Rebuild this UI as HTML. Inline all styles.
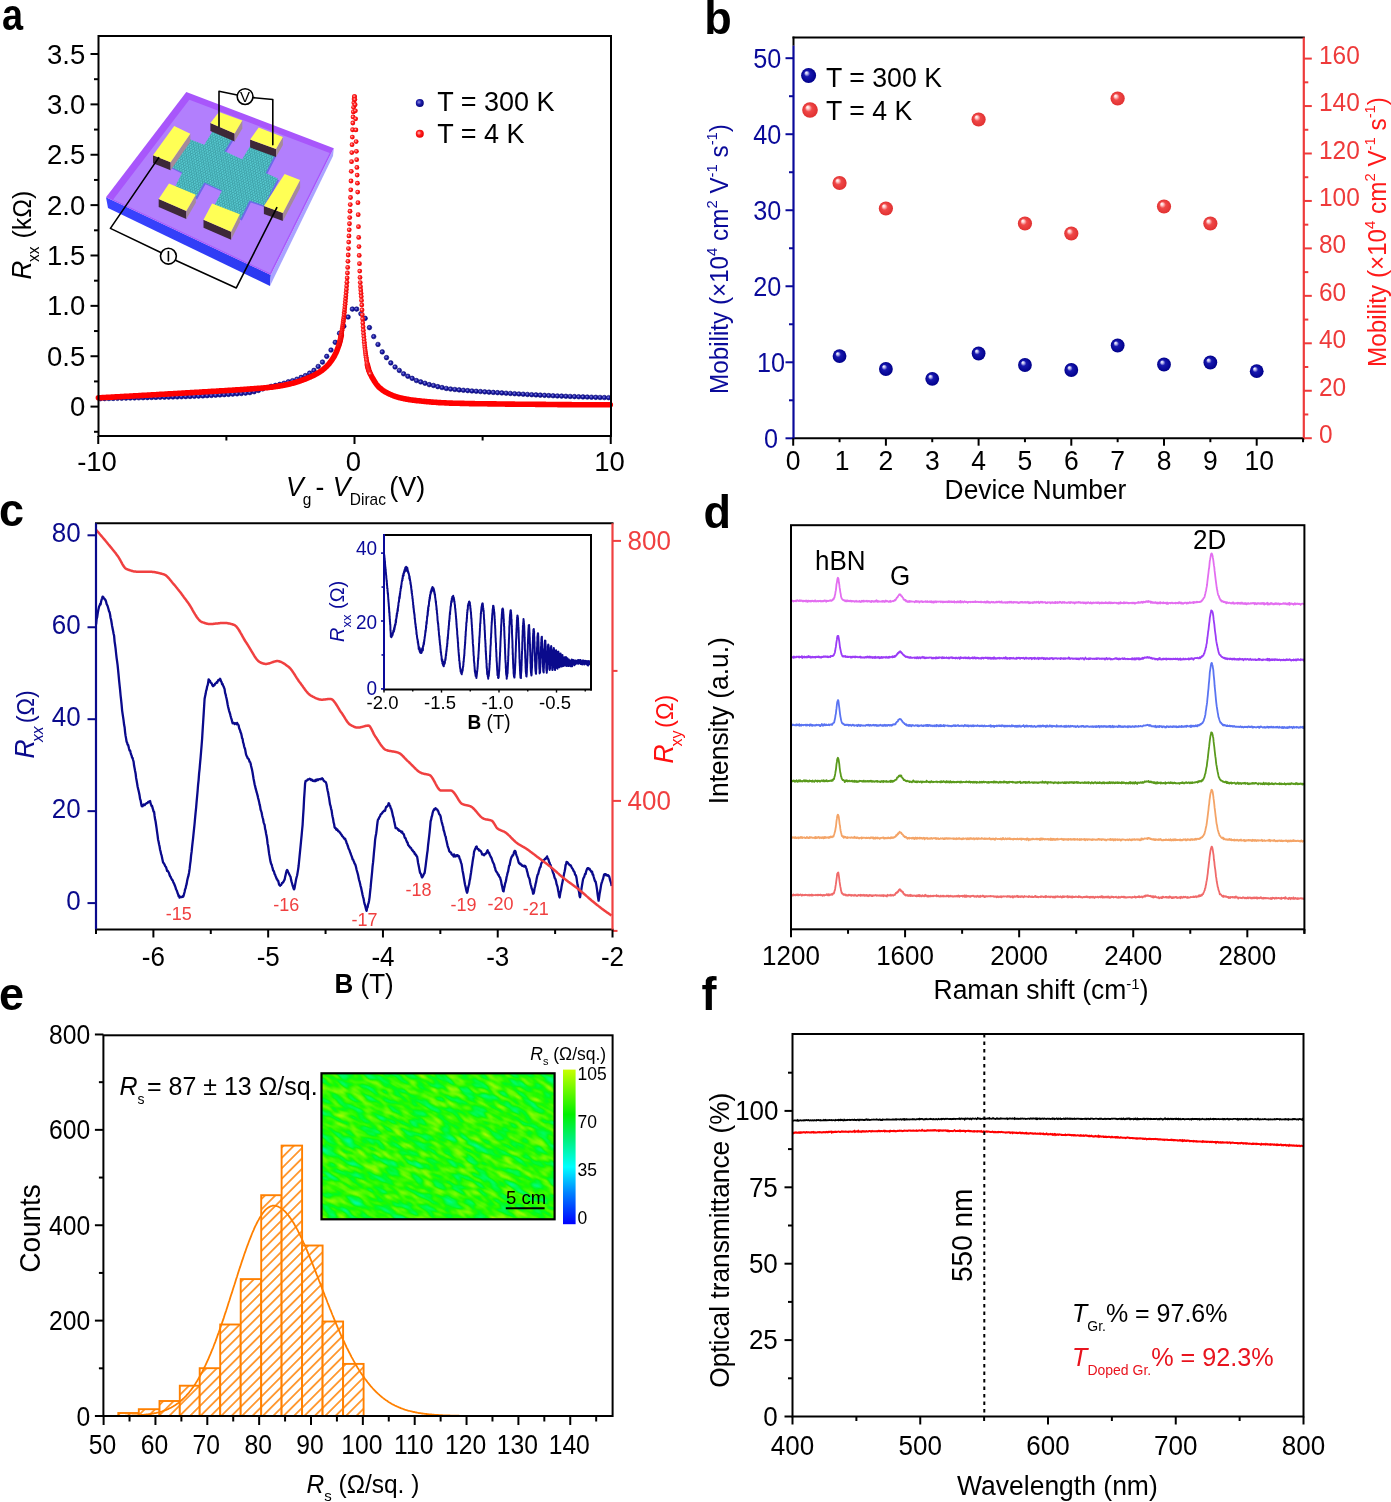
<!DOCTYPE html>
<html><head><meta charset="utf-8"><title>Figure</title>
<style>html,body{margin:0;padding:0;background:#fff;} svg{display:block;will-change:transform;} text{font-family:"Liberation Sans", sans-serif;}</style>
</head><body>
<svg width="1391" height="1502" viewBox="0 0 1391 1502" font-family='"Liberation Sans", sans-serif'>
<defs>
<radialGradient id="gBlueDot" cx="0.4" cy="0.4" r="0.6"><stop offset="0" stop-color="#8a8ae0"/><stop offset="0.5" stop-color="#1c1ca8"/><stop offset="1" stop-color="#06067a"/></radialGradient>
<radialGradient id="gRedDot" cx="0.4" cy="0.4" r="0.6"><stop offset="0" stop-color="#ffc0c0"/><stop offset="0.45" stop-color="#ff2020"/><stop offset="1" stop-color="#e80000"/></radialGradient>
<radialGradient id="sphB" cx="0.5" cy="0.5" r="0.5" fx="0.33" fy="0.3"><stop offset="0" stop-color="#ffffff"/><stop offset="0.18" stop-color="#b8b8ee"/><stop offset="0.4" stop-color="#1818b0"/><stop offset="1" stop-color="#00008a"/></radialGradient>
<radialGradient id="sphR" cx="0.5" cy="0.5" r="0.5" fx="0.33" fy="0.3"><stop offset="0" stop-color="#ffffff"/><stop offset="0.18" stop-color="#ffd0d0"/><stop offset="0.45" stop-color="#f04848"/><stop offset="1" stop-color="#e03030"/></radialGradient>
<pattern id="hatch" patternUnits="userSpaceOnUse" width="7.35" height="7.35" patternTransform="rotate(45)"><rect width="7.35" height="7.35" fill="#fff"/><line x1="3.675" y1="-1" x2="3.675" y2="8.35" stroke="#ff8000" stroke-width="1.5"/></pattern>
<pattern id="hexpat" patternUnits="userSpaceOnUse" width="2.6" height="4.5" patternTransform="rotate(20)"><rect width="2.6" height="4.5" fill="#3c9ea6"/><circle cx="0.65" cy="1.1" r="0.95" fill="#5cd2d8"/><circle cx="1.95" cy="3.35" r="0.95" fill="#5cd2d8"/></pattern>
<linearGradient id="cbar" x1="0" y1="0" x2="0" y2="1"><stop offset="0" stop-color="#c8ff00"/><stop offset="0.29" stop-color="#00f000"/><stop offset="0.45" stop-color="#00f07a"/><stop offset="0.63" stop-color="#00ffff"/><stop offset="0.8" stop-color="#0080ff"/><stop offset="1" stop-color="#0000ff"/></linearGradient>
<filter id="mapnoise" x="0" y="0" width="100%" height="100%" color-interpolation-filters="sRGB"><feTurbulence type="fractalNoise" baseFrequency="0.06 0.16" numOctaves="2" seed="7"/><feColorMatrix type="matrix" values="1.5 0 0 0 -0.62  0 0 0 0 0.98  -1.6 0 0 0 0.78  0 0 0 0 1"/></filter>
<linearGradient id="gSide" x1="0" y1="0" x2="1" y2="0"><stop offset="0" stop-color="#3a44ff"/><stop offset="1" stop-color="#2a38f0"/></linearGradient></defs>
<rect width="1391" height="1502" fill="#fff"/>
<text transform="translate(2 29.8) scale(0.87 1)" font-size="43.5" font-weight="bold">a</text>
<polygon points="106,197.3 270.8,275 270,286 108,208" fill="url(#gSide)"/>
<polygon points="270.8,275 333.8,148.2 333,156 270,286" fill="#a9a4ff"/>
<polygon points="106,197.3 186.3,92.1 333.8,148.2 270.8,275" fill="#a856fb"/>
<polygon points="113.22,199.38 189.33,99.67 329.71,153.06 269.98,273.29" fill="#b27ffd"/>
<polygon points="171.3,168.2 191,141 205.5,146.5 213.6,133.4 233.7,140 225.7,153.1 243.3,161.1 251.8,147 277,155.1 266.9,174.7 279,180.2 265.4,207.4 250.8,202.4 241.8,220.5 215.6,207.4 223.2,192.3 205.5,184.3 197,199.4 176.4,188.3 183.4,174.2" fill="#6a6ae8"/>
<polygon points="170.1,166.4 189.8,139.2 204.3,144.7 212.4,131.6 232.5,138.2 224.5,151.3 242.1,159.3 250.6,145.2 275.8,153.3 265.7,172.9 277.8,178.4 264.2,205.6 249.6,200.6 240.6,218.7 214.4,205.6 222,190.5 204.3,182.5 195.8,197.6 175.2,186.5 182.2,172.4" fill="url(#hexpat)"/>
<polygon points="210.4,123.1 234.6,133.5 234.6,141.5 210.4,131.1" fill="#3d2838"/>
<polygon points="234.6,133.5 242.3,120.5 242.3,128.5 234.6,141.5" fill="#a58a9a"/>
<polygon points="219,111.9 242.3,120.5 234.6,133.5 210.4,123.1" fill="#ffff55"/>
<polygon points="250.1,139.5 276,149 276,157 250.1,147.5" fill="#3d2838"/>
<polygon points="276,149 282.9,136.9 282.9,144.9 276,157" fill="#a58a9a"/>
<polygon points="258.7,127.4 282.9,136.9 276,149 250.1,139.5" fill="#ffff55"/>
<polygon points="153,155.3 170.6,162.3 170.6,170.3 153,163.3" fill="#3d2838"/>
<polygon points="170.6,162.3 190.3,133.7 190.3,141.7 170.6,170.3" fill="#a58a9a"/>
<polygon points="174.2,126.1 190.3,133.7 170.6,162.3 153,155.3" fill="#ffff55"/>
<polygon points="263.9,206 282.9,212.9 282.9,220.9 263.9,214" fill="#3d2838"/>
<polygon points="282.9,212.9 300.1,180.1 300.1,188.1 282.9,220.9" fill="#a58a9a"/>
<polygon points="284.6,174 300.1,180.1 282.9,212.9 263.9,206" fill="#ffff55"/>
<polygon points="158.7,199 186.3,211.1 186.3,219.1 158.7,207" fill="#3d2838"/>
<polygon points="186.3,211.1 195.8,194.7 195.8,202.7 186.3,219.1" fill="#a58a9a"/>
<polygon points="169,183.5 195.8,194.7 186.3,211.1 158.7,199" fill="#ffff55"/>
<polygon points="203.5,219.8 231.1,231.8 231.1,239.8 203.5,227.8" fill="#3d2838"/>
<polygon points="231.1,231.8 239.8,214.3 239.8,222.3 231.1,239.8" fill="#a58a9a"/>
<polygon points="212.1,203.4 239.8,214.3 231.1,231.8 203.5,219.8" fill="#ffff55"/>
<polyline points="219,126.6 219,91.2 237.2,95" fill="none" stroke="#000" stroke-width="1.6" stroke-linejoin="round" stroke-linecap="round"/>
<polyline points="252.7,97.6 272.8,99.5 272.8,144.7" fill="none" stroke="#000" stroke-width="1.6" stroke-linejoin="round" stroke-linecap="round"/>
<circle cx="245.1" cy="96.6" r="7.9" fill="#fff" stroke="#000" stroke-width="1.6"/>
<text transform="translate(245.1 102.2) scale(1 1.03)" font-size="15" text-anchor="middle">V</text>
<polyline points="158.7,157.6 110.4,228.4 160.8,252.5" fill="none" stroke="#000" stroke-width="1.6" stroke-linejoin="round" stroke-linecap="round"/>
<polyline points="176,260.5 236.3,287.9 276.8,207.7" fill="none" stroke="#000" stroke-width="1.6" stroke-linejoin="round" stroke-linecap="round"/>
<circle cx="168.4" cy="256.2" r="7.9" fill="#fff" stroke="#000" stroke-width="1.6"/>
<line x1="168.4" y1="251" x2="168.4" y2="261.5" stroke="#000" stroke-width="1.6"/>
<g fill="url(#gBlueDot)" stroke="#0a0a7a" stroke-width="0.6"><circle cx="100.38" cy="398.7" r="2.3"/><circle cx="104.65" cy="398.6" r="2.3"/><circle cx="108.92" cy="398.5" r="2.3"/><circle cx="113.19" cy="398.41" r="2.3"/><circle cx="117.46" cy="398.31" r="2.3"/><circle cx="121.73" cy="398.21" r="2.3"/><circle cx="126" cy="398.11" r="2.3"/><circle cx="130.27" cy="398" r="2.3"/><circle cx="134.54" cy="397.9" r="2.3"/><circle cx="138.81" cy="397.8" r="2.3"/><circle cx="143.09" cy="397.69" r="2.3"/><circle cx="147.36" cy="397.59" r="2.3"/><circle cx="151.63" cy="397.48" r="2.3"/><circle cx="155.9" cy="397.38" r="2.3"/><circle cx="160.17" cy="397.28" r="2.3"/><circle cx="164.44" cy="397.18" r="2.3"/><circle cx="168.71" cy="397.08" r="2.3"/><circle cx="172.98" cy="396.97" r="2.3"/><circle cx="177.25" cy="396.86" r="2.3"/><circle cx="181.52" cy="396.73" r="2.3"/><circle cx="185.79" cy="396.6" r="2.3"/><circle cx="190.06" cy="396.45" r="2.3"/><circle cx="194.34" cy="396.28" r="2.3"/><circle cx="198.61" cy="396.09" r="2.3"/><circle cx="202.88" cy="395.88" r="2.3"/><circle cx="207.15" cy="395.66" r="2.3"/><circle cx="211.42" cy="395.43" r="2.3"/><circle cx="215.69" cy="395.18" r="2.3"/><circle cx="219.96" cy="394.92" r="2.3"/><circle cx="224.23" cy="394.65" r="2.3"/><circle cx="228.5" cy="394.38" r="2.3"/><circle cx="232.77" cy="394.11" r="2.3"/><circle cx="237.04" cy="393.83" r="2.3"/><circle cx="241.31" cy="393.5" r="2.3"/><circle cx="245.59" cy="393.11" r="2.3"/><circle cx="249.86" cy="392.61" r="2.3"/><circle cx="254.13" cy="391.74" r="2.3"/><circle cx="258.4" cy="390.41" r="2.3"/><circle cx="262.67" cy="388.91" r="2.3"/><circle cx="266.94" cy="387.5" r="2.3"/><circle cx="271.21" cy="386.38" r="2.3"/><circle cx="275.48" cy="385.41" r="2.3"/><circle cx="279.75" cy="384.41" r="2.3"/><circle cx="284.02" cy="383.25" r="2.3"/><circle cx="288.29" cy="381.77" r="2.3"/><circle cx="292.56" cy="380.69" r="2.3"/><circle cx="296.84" cy="379.21" r="2.3"/><circle cx="301.11" cy="377.42" r="2.3"/><circle cx="305.38" cy="375.64" r="2.3"/><circle cx="309.65" cy="373.16" r="2.3"/><circle cx="313.92" cy="370.4" r="2.3"/><circle cx="318.19" cy="366.48" r="2.3"/><circle cx="322.46" cy="362.08" r="2.3"/><circle cx="326.73" cy="356.36" r="2.3"/><circle cx="331" cy="350.07" r="2.3"/><circle cx="335.27" cy="342.34" r="2.3"/><circle cx="339.54" cy="333.29" r="2.3"/><circle cx="343.81" cy="326.24" r="2.3"/><circle cx="348.09" cy="317.02" r="2.3"/><circle cx="352.36" cy="309.09" r="2.3"/><circle cx="356.63" cy="309.08" r="2.3"/><circle cx="360.9" cy="313.75" r="2.3"/><circle cx="365.17" cy="318.33" r="2.3"/><circle cx="369.44" cy="327.61" r="2.3"/><circle cx="373.71" cy="336.57" r="2.3"/><circle cx="377.98" cy="344.43" r="2.3"/><circle cx="382.25" cy="351.91" r="2.3"/><circle cx="386.52" cy="357.63" r="2.3"/><circle cx="390.79" cy="362.88" r="2.3"/><circle cx="395.06" cy="366.98" r="2.3"/><circle cx="399.34" cy="370.43" r="2.3"/><circle cx="403.61" cy="373.8" r="2.3"/><circle cx="407.88" cy="376.28" r="2.3"/><circle cx="412.15" cy="378.36" r="2.3"/><circle cx="416.42" cy="380.57" r="2.3"/><circle cx="420.69" cy="381.89" r="2.3"/><circle cx="424.96" cy="383.24" r="2.3"/><circle cx="429.23" cy="384.62" r="2.3"/><circle cx="433.5" cy="385.46" r="2.3"/><circle cx="437.77" cy="386.65" r="2.3"/><circle cx="442.04" cy="387.54" r="2.3"/><circle cx="446.31" cy="388.44" r="2.3"/><circle cx="450.59" cy="389.02" r="2.3"/><circle cx="454.86" cy="389.49" r="2.3"/><circle cx="459.13" cy="389.89" r="2.3"/><circle cx="463.4" cy="390.27" r="2.3"/><circle cx="467.67" cy="390.62" r="2.3"/><circle cx="471.94" cy="390.95" r="2.3"/><circle cx="476.21" cy="391.27" r="2.3"/><circle cx="480.48" cy="391.57" r="2.3"/><circle cx="484.75" cy="391.85" r="2.3"/><circle cx="489.02" cy="392.13" r="2.3"/><circle cx="493.29" cy="392.4" r="2.3"/><circle cx="497.56" cy="392.66" r="2.3"/><circle cx="501.84" cy="392.92" r="2.3"/><circle cx="506.11" cy="393.18" r="2.3"/><circle cx="510.38" cy="393.44" r="2.3"/><circle cx="514.65" cy="393.7" r="2.3"/><circle cx="518.92" cy="393.95" r="2.3"/><circle cx="523.19" cy="394.2" r="2.3"/><circle cx="527.46" cy="394.44" r="2.3"/><circle cx="531.73" cy="394.68" r="2.3"/><circle cx="536" cy="394.91" r="2.3"/><circle cx="540.27" cy="395.13" r="2.3"/><circle cx="544.54" cy="395.34" r="2.3"/><circle cx="548.81" cy="395.55" r="2.3"/><circle cx="553.09" cy="395.75" r="2.3"/><circle cx="557.36" cy="395.93" r="2.3"/><circle cx="561.63" cy="396.11" r="2.3"/><circle cx="565.9" cy="396.28" r="2.3"/><circle cx="570.17" cy="396.45" r="2.3"/><circle cx="574.44" cy="396.61" r="2.3"/><circle cx="578.71" cy="396.76" r="2.3"/><circle cx="582.98" cy="396.92" r="2.3"/><circle cx="587.25" cy="397.06" r="2.3"/><circle cx="591.52" cy="397.2" r="2.3"/><circle cx="595.79" cy="397.33" r="2.3"/><circle cx="600.06" cy="397.46" r="2.3"/><circle cx="604.34" cy="397.57" r="2.3"/><circle cx="608.61" cy="397.68" r="2.3"/></g>
<path d="M98.4 397.8L99.1 397.8L99.9 397.7L100.7 397.7L101.4 397.7L102.2 397.6L103 397.6L103.7 397.5L104.5 397.5L105.3 397.5L106 397.4L106.8 397.4L107.6 397.3L108.3 397.3L109.1 397.3L109.9 397.2L110.7 397.2L111.4 397.1L112.2 397.1L113 397L113.7 397L114.5 397L115.3 396.9L116 396.9L116.8 396.8L117.6 396.8L118.3 396.8L119.1 396.7L119.9 396.7L120.6 396.6L121.4 396.6L122.2 396.5L123 396.5L123.7 396.5L124.5 396.4L125.3 396.4L126 396.3L126.8 396.3L127.6 396.3L128.3 396.2L129.1 396.2L129.9 396.1L130.6 396.1L131.4 396L132.2 396L132.9 396L133.7 395.9L134.5 395.9L135.3 395.8L136 395.8L136.8 395.7L137.6 395.7L138.3 395.7L139.1 395.6L139.9 395.6L140.6 395.5L141.4 395.5L142.2 395.4L142.9 395.4L143.7 395.4L144.5 395.3L145.2 395.3L146 395.2L146.8 395.2L147.6 395.1L148.3 395.1L149.1 395L149.9 395L150.6 395L151.4 394.9L152.2 394.9L152.9 394.8L153.7 394.8L154.5 394.7L155.2 394.7L156 394.7L156.8 394.6L157.5 394.6L158.3 394.5L159.1 394.5L159.9 394.4L160.6 394.4L161.4 394.3L162.2 394.3L162.9 394.3L163.7 394.2L164.5 394.2L165.2 394.1L166 394.1L166.8 394L167.5 394L168.3 393.9L169.1 393.9L169.8 393.9L170.6 393.8L171.4 393.8L172.2 393.7L172.9 393.7L173.7 393.6L174.5 393.6L175.2 393.5L176 393.5L176.8 393.5L177.5 393.4L178.3 393.4L179.1 393.3L179.8 393.3L180.6 393.2L181.4 393.2L182.1 393.1L182.9 393.1L183.7 393L184.5 393L185.2 393L186 392.9L186.8 392.9L187.5 392.8L188.3 392.8L189.1 392.7L189.8 392.7L190.6 392.6L191.4 392.6L192.1 392.6L192.9 392.5L193.7 392.5L194.4 392.4L195.2 392.4L196 392.3L196.8 392.3L197.5 392.2L198.3 392.2L199.1 392.2L199.8 392.1L200.6 392.1L201.4 392L202.1 392L202.9 391.9L203.7 391.9L204.4 391.8L205.2 391.8L206 391.8L206.7 391.7L207.5 391.7L208.3 391.6L209.1 391.6L209.8 391.5L210.6 391.5L211.4 391.4L212.1 391.4L212.9 391.4L213.7 391.3L214.4 391.3L215.2 391.2L216 391.2L216.7 391.1L217.5 391.1L218.3 391L219 391L219.8 390.9L220.6 390.9L221.4 390.8L222.1 390.8L222.9 390.8L223.7 390.7L224.4 390.7L225.2 390.6L226 390.6L226.7 390.5L227.5 390.5L228.3 390.4L229 390.4L229.8 390.3L230.6 390.3L231.3 390.2L232.1 390.2L232.9 390.1L233.7 390.1L234.4 390L235.2 390L236 389.9L236.7 389.9L237.5 389.8L238.3 389.8L239 389.7L239.8 389.7L240.6 389.6L241.3 389.6L242.1 389.5L242.9 389.5L243.6 389.4L244.4 389.4L245.2 389.3L246 389.3L246.7 389.2L247.5 389.1L248.3 389.1L249 389L249.8 389L250.6 388.9L251.3 388.9L252.1 388.8L252.9 388.8L253.6 388.7L254.4 388.6L255.2 388.6L255.9 388.5L256.7 388.5L257.5 388.4L258.3 388.4L259 388.3L259.8 388.2L260.6 388.2L261.3 388.1L262.1 388.1L262.9 388L263.6 387.9L264.4 387.9L265.2 387.8L265.9 387.7L266.7 387.7L267.5 387.6L268.2 387.5L269 387.4L269.8 387.3L270.6 387.3L271.3 387.2L272.1 387.1L272.9 387L273.6 386.9L274.4 386.8L275.2 386.7L275.9 386.6L276.7 386.5L277.5 386.3L278.2 386.2L279 386.1L279.8 386L280.5 385.8L281.3 385.7L282.1 385.6L282.9 385.4L283.6 385.3L284.4 385.1L285.2 385L285.9 384.8L286.7 384.6L287.5 384.5L288.2 384.3L289 384.1L289.8 384L290.5 383.8L291.3 383.6L292.1 383.4L292.8 383.2L293.6 383L294.4 382.8L295.2 382.5L295.9 382.3L296.7 382.1L297.5 381.8L298.2 381.6L299 381.3L299.8 381.1L300.5 380.8L301.3 380.5L302.1 380.2L302.8 380L303.6 379.7L304.4 379.4L305.1 379.1L305.9 378.8L306.7 378.5L307.5 378.1L308.2 377.8L309 377.5L309.8 377.2L310.5 376.8L311.3 376.5L312.1 376.1L312.8 375.8L313.6 375.4L314.4 375L315.1 374.6L315.9 374.2L316.7 373.7L317.4 373.3L318.2 372.8L319 372.4L319.8 371.9L320.5 371.3L321.3 370.8L322.1 370.3L322.8 369.7L323.6 369.1L324.4 368.4L325.1 367.8L325.9 367L326.7 366.3L327.4 365.5L328.2 364.7L329 363.8L329.7 362.8L330.5 361.9L331.3 360.8L332.1 359.7L332.8 358.6L333.6 357.4L334.4 356L335.1 354.6L335.9 353L336.7 351.2L337.4 349.3L338.2 347.1L339 344.8L339.7 342.2L340.5 339.1L341.3 335.1" fill="none" stroke="#ff0000" stroke-width="5.6" stroke-linejoin="round" stroke-linecap="round"/>
<path d="M367.4 364.9L368.2 368.2L369 370.7L369.7 372.6L370.5 374.3L371.3 375.8L372 377.2L372.8 378.5L373.6 379.9L374.3 381.1L375.1 382.3L375.9 383.5L376.6 384.5L377.4 385.4L378.2 386.3L378.9 387.1L379.7 387.8L380.5 388.5L381.3 389.1L382 389.7L382.8 390.3L383.6 390.8L384.3 391.3L385.1 391.8L385.9 392.2L386.6 392.6L387.4 393L388.2 393.4L388.9 393.8L389.7 394.2L390.5 394.5L391.2 394.8L392 395.2L392.8 395.5L393.6 395.8L394.3 396.1L395.1 396.3L395.9 396.6L396.6 396.8L397.4 397.1L398.2 397.3L398.9 397.5L399.7 397.7L400.5 397.9L401.2 398L402 398.2L402.8 398.4L403.5 398.6L404.3 398.7L405.1 398.9L405.9 399L406.6 399.2L407.4 399.3L408.2 399.4L408.9 399.6L409.7 399.7L410.5 399.8L411.2 399.9L412 400L412.8 400.1L413.5 400.2L414.3 400.3L415.1 400.4L415.8 400.5L416.6 400.6L417.4 400.7L418.2 400.8L418.9 400.8L419.7 400.9L420.5 401L421.2 401.1L422 401.2L422.8 401.2L423.5 401.3L424.3 401.4L425.1 401.5L425.8 401.5L426.6 401.6L427.4 401.7L428.1 401.7L428.9 401.8L429.7 401.9L430.5 401.9L431.2 402L432 402.1L432.8 402.1L433.5 402.2L434.3 402.2L435.1 402.3L435.8 402.3L436.6 402.4L437.4 402.5L438.1 402.5L438.9 402.6L439.7 402.6L440.4 402.6L441.2 402.7L442 402.7L442.8 402.8L443.5 402.8L444.3 402.8L445.1 402.9L445.8 402.9L446.6 403L447.4 403L448.1 403L448.9 403L449.7 403.1L450.4 403.1L451.2 403.1L452 403.1L452.7 403.2L453.5 403.2L454.3 403.2L455.1 403.2L455.8 403.2L456.6 403.3L457.4 403.3L458.1 403.3L458.9 403.3L459.7 403.3L460.4 403.4L461.2 403.4L462 403.4L462.7 403.4L463.5 403.4L464.3 403.4L465 403.5L465.8 403.5L466.6 403.5L467.4 403.5L468.1 403.5L468.9 403.5L469.7 403.6L470.4 403.6L471.2 403.6L472 403.6L472.7 403.6L473.5 403.6L474.3 403.6L475 403.7L475.8 403.7L476.6 403.7L477.3 403.7L478.1 403.7L478.9 403.7L479.7 403.7L480.4 403.7L481.2 403.8L482 403.8L482.7 403.8L483.5 403.8L484.3 403.8L485 403.8L485.8 403.8L486.6 403.8L487.3 403.8L488.1 403.9L488.9 403.9L489.6 403.9L490.4 403.9L491.2 403.9L492 403.9L492.7 403.9L493.5 403.9L494.3 403.9L495 403.9L495.8 403.9L496.6 404L497.3 404L498.1 404L498.9 404L499.6 404L500.4 404L501.2 404L501.9 404L502.7 404L503.5 404L504.3 404L505 404L505.8 404.1L506.6 404.1L507.3 404.1L508.1 404.1L508.9 404.1L509.6 404.1L510.4 404.1L511.2 404.1L511.9 404.1L512.7 404.1L513.5 404.1L514.2 404.1L515 404.2L515.8 404.2L516.6 404.2L517.3 404.2L518.1 404.2L518.9 404.2L519.6 404.2L520.4 404.2L521.2 404.2L521.9 404.2L522.7 404.2L523.5 404.2L524.2 404.2L525 404.3L525.8 404.3L526.5 404.3L527.3 404.3L528.1 404.3L528.9 404.3L529.6 404.3L530.4 404.3L531.2 404.3L531.9 404.3L532.7 404.3L533.5 404.3L534.2 404.3L535 404.3L535.8 404.4L536.5 404.4L537.3 404.4L538.1 404.4L538.8 404.4L539.6 404.4L540.4 404.4L541.2 404.4L541.9 404.4L542.7 404.4L543.5 404.4L544.2 404.4L545 404.4L545.8 404.4L546.5 404.5L547.3 404.5L548.1 404.5L548.8 404.5L549.6 404.5L550.4 404.5L551.1 404.5L551.9 404.5L552.7 404.5L553.5 404.5L554.2 404.5L555 404.5L555.8 404.5L556.5 404.5L557.3 404.5L558.1 404.6L558.8 404.6L559.6 404.6L560.4 404.6L561.1 404.6L561.9 404.6L562.7 404.6L563.4 404.6L564.2 404.6L565 404.6L565.8 404.6L566.5 404.6L567.3 404.6L568.1 404.6L568.8 404.6L569.6 404.6L570.4 404.6L571.1 404.6L571.9 404.7L572.7 404.7L573.4 404.7L574.2 404.7L575 404.7L575.7 404.7L576.5 404.7L577.3 404.7L578.1 404.7L578.8 404.7L579.6 404.7L580.4 404.7L581.1 404.7L581.9 404.7L582.7 404.7L583.4 404.7L584.2 404.7L585 404.7L585.7 404.7L586.5 404.7L587.3 404.7L588 404.7L588.8 404.7L589.6 404.7L590.4 404.7L591.1 404.7L591.9 404.8L592.7 404.8L593.4 404.8L594.2 404.8L595 404.8L595.7 404.8L596.5 404.8L597.3 404.8L598 404.8L598.8 404.8L599.6 404.8L600.3 404.8L601.1 404.8L601.9 404.8L602.7 404.8L603.4 404.8L604.2 404.8L605 404.8L605.7 404.8L606.5 404.8L607.3 404.8L608 404.8L608.8 404.8L609.6 404.8L610.3 404.8" fill="none" stroke="#ff0000" stroke-width="5.6" stroke-linejoin="round" stroke-linecap="round"/>
<g fill="url(#gRedDot)"><circle cx="338.72" cy="345.57" r="2.4"/><circle cx="338.97" cy="344.76" r="2.4"/><circle cx="339.23" cy="343.92" r="2.4"/><circle cx="339.48" cy="343.06" r="2.4"/><circle cx="339.74" cy="342.17" r="2.4"/><circle cx="340" cy="341.24" r="2.4"/><circle cx="340.25" cy="340.22" r="2.4"/><circle cx="340.51" cy="339.08" r="2.4"/><circle cx="340.77" cy="337.84" r="2.4"/><circle cx="341.02" cy="336.5" r="2.4"/><circle cx="341.28" cy="335.08" r="2.4"/><circle cx="341.53" cy="333.56" r="2.4"/><circle cx="341.79" cy="331.97" r="2.4"/><circle cx="342.05" cy="330.31" r="2.4"/><circle cx="342.3" cy="328.58" r="2.4"/><circle cx="342.56" cy="326.79" r="2.4"/><circle cx="342.81" cy="324.95" r="2.4"/><circle cx="343.07" cy="323.06" r="2.4"/><circle cx="343.33" cy="321.14" r="2.4"/><circle cx="343.58" cy="319.16" r="2.4"/><circle cx="343.84" cy="317.04" r="2.4"/><circle cx="344.1" cy="314.74" r="2.4"/><circle cx="344.35" cy="312.31" r="2.4"/><circle cx="344.61" cy="309.74" r="2.4"/><circle cx="344.87" cy="307.06" r="2.4"/><circle cx="345.12" cy="304.3" r="2.4"/><circle cx="345.38" cy="301.46" r="2.4"/><circle cx="345.63" cy="298.57" r="2.4"/><circle cx="345.89" cy="295.64" r="2.4"/><circle cx="346.15" cy="292.61" r="2.4"/><circle cx="346.4" cy="289.39" r="2.4"/><circle cx="346.66" cy="285.93" r="2.4"/><circle cx="346.92" cy="282.13" r="2.4"/><circle cx="347.17" cy="277.91" r="2.4"/><circle cx="347.43" cy="272.96" r="2.4"/><circle cx="347.68" cy="267.38" r="2.4"/><circle cx="347.94" cy="261.34" r="2.4"/><circle cx="348.2" cy="255" r="2.4"/><circle cx="348.45" cy="248.54" r="2.4"/><circle cx="348.71" cy="242.12" r="2.4"/><circle cx="348.96" cy="235.91" r="2.4"/><circle cx="349.22" cy="229.83" r="2.4"/><circle cx="349.48" cy="223.76" r="2.4"/><circle cx="349.73" cy="217.59" r="2.4"/><circle cx="349.99" cy="211.23" r="2.4"/><circle cx="350.25" cy="204.57" r="2.4"/><circle cx="350.5" cy="197.51" r="2.4"/><circle cx="350.76" cy="189.85" r="2.4"/><circle cx="351.01" cy="180.98" r="2.4"/><circle cx="351.27" cy="171.36" r="2.4"/><circle cx="351.53" cy="161.66" r="2.4"/><circle cx="351.78" cy="152.57" r="2.4"/><circle cx="352.04" cy="144.64" r="2.4"/><circle cx="352.3" cy="137.06" r="2.4"/><circle cx="352.55" cy="129.77" r="2.4"/><circle cx="352.81" cy="122.99" r="2.4"/><circle cx="353.06" cy="116.96" r="2.4"/><circle cx="353.32" cy="111.88" r="2.4"/><circle cx="353.58" cy="107.32" r="2.4"/><circle cx="353.83" cy="102.83" r="2.4"/><circle cx="354.09" cy="99.08" r="2.4"/><circle cx="354.35" cy="96.75" r="2.4"/><circle cx="354.6" cy="96.62" r="2.4"/><circle cx="354.86" cy="99.59" r="2.4"/><circle cx="355.12" cy="104.74" r="2.4"/><circle cx="355.37" cy="110.82" r="2.4"/><circle cx="355.63" cy="118.83" r="2.4"/><circle cx="355.88" cy="129.94" r="2.4"/><circle cx="356.14" cy="141.57" r="2.4"/><circle cx="356.4" cy="151.31" r="2.4"/><circle cx="356.65" cy="159.66" r="2.4"/><circle cx="356.91" cy="167.44" r="2.4"/><circle cx="357.16" cy="175.12" r="2.4"/><circle cx="357.42" cy="183.17" r="2.4"/><circle cx="357.68" cy="192.08" r="2.4"/><circle cx="357.93" cy="202.63" r="2.4"/><circle cx="358.19" cy="214.65" r="2.4"/><circle cx="358.45" cy="226.72" r="2.4"/><circle cx="358.7" cy="237.42" r="2.4"/><circle cx="358.96" cy="246.61" r="2.4"/><circle cx="359.21" cy="255.44" r="2.4"/><circle cx="359.47" cy="263.68" r="2.4"/><circle cx="359.73" cy="271.1" r="2.4"/><circle cx="359.98" cy="277.46" r="2.4"/><circle cx="360.24" cy="282.56" r="2.4"/><circle cx="360.5" cy="286.63" r="2.4"/><circle cx="360.75" cy="290.07" r="2.4"/><circle cx="361.01" cy="293.27" r="2.4"/><circle cx="361.26" cy="296.6" r="2.4"/><circle cx="361.52" cy="300.43" r="2.4"/><circle cx="361.78" cy="305" r="2.4"/><circle cx="362.03" cy="309.93" r="2.4"/><circle cx="362.29" cy="314.73" r="2.4"/><circle cx="362.55" cy="318.98" r="2.4"/><circle cx="362.8" cy="322.95" r="2.4"/><circle cx="363.06" cy="326.72" r="2.4"/><circle cx="363.31" cy="330.26" r="2.4"/><circle cx="363.57" cy="333.54" r="2.4"/><circle cx="363.83" cy="336.59" r="2.4"/><circle cx="364.08" cy="339.53" r="2.4"/><circle cx="364.34" cy="342.35" r="2.4"/><circle cx="364.6" cy="345.01" r="2.4"/><circle cx="364.85" cy="347.49" r="2.4"/><circle cx="365.11" cy="349.76" r="2.4"/><circle cx="365.37" cy="351.8" r="2.4"/><circle cx="365.62" cy="353.68" r="2.4"/><circle cx="365.88" cy="355.5" r="2.4"/><circle cx="366.13" cy="357.26" r="2.4"/><circle cx="366.39" cy="358.95" r="2.4"/><circle cx="366.65" cy="360.56" r="2.4"/><circle cx="366.9" cy="362.08" r="2.4"/><circle cx="367.16" cy="363.52" r="2.4"/><circle cx="367.42" cy="364.86" r="2.4"/><circle cx="367.67" cy="366.09" r="2.4"/><circle cx="367.93" cy="367.22" r="2.4"/><circle cx="368.18" cy="368.22" r="2.4"/><circle cx="368.44" cy="369.11" r="2.4"/><circle cx="368.7" cy="369.91" r="2.4"/><circle cx="368.95" cy="370.66" r="2.4"/><circle cx="369.21" cy="371.36" r="2.4"/><circle cx="369.46" cy="372.03" r="2.4"/><circle cx="369.72" cy="372.65" r="2.4"/><circle cx="369.98" cy="373.24" r="2.4"/><circle cx="370.23" cy="373.8" r="2.4"/></g>
<rect x="98.5" y="36" width="512.5" height="400" fill="none" stroke="#000" stroke-width="2"/>
<line x1="90.5" y1="406.6" x2="98.5" y2="406.6" stroke="#000" stroke-width="2"/>
<text transform="translate(85.3 416.2) scale(1 1.03)" font-size="27.5" text-anchor="end">0</text>
<line x1="90.5" y1="356.23" x2="98.5" y2="356.23" stroke="#000" stroke-width="2"/>
<text transform="translate(85.3 365.83) scale(1 1.03)" font-size="27.5" text-anchor="end">0.5</text>
<line x1="90.5" y1="305.86" x2="98.5" y2="305.86" stroke="#000" stroke-width="2"/>
<text transform="translate(85.3 315.46) scale(1 1.03)" font-size="27.5" text-anchor="end">1.0</text>
<line x1="90.5" y1="255.49" x2="98.5" y2="255.49" stroke="#000" stroke-width="2"/>
<text transform="translate(85.3 265.09) scale(1 1.03)" font-size="27.5" text-anchor="end">1.5</text>
<line x1="90.5" y1="205.12" x2="98.5" y2="205.12" stroke="#000" stroke-width="2"/>
<text transform="translate(85.3 214.72) scale(1 1.03)" font-size="27.5" text-anchor="end">2.0</text>
<line x1="90.5" y1="154.75" x2="98.5" y2="154.75" stroke="#000" stroke-width="2"/>
<text transform="translate(85.3 164.35) scale(1 1.03)" font-size="27.5" text-anchor="end">2.5</text>
<line x1="90.5" y1="104.38" x2="98.5" y2="104.38" stroke="#000" stroke-width="2"/>
<text transform="translate(85.3 113.98) scale(1 1.03)" font-size="27.5" text-anchor="end">3.0</text>
<line x1="90.5" y1="54.01" x2="98.5" y2="54.01" stroke="#000" stroke-width="2"/>
<text transform="translate(85.3 63.61) scale(1 1.03)" font-size="27.5" text-anchor="end">3.5</text>
<line x1="94" y1="431.79" x2="98.5" y2="431.79" stroke="#000" stroke-width="2"/>
<line x1="94" y1="381.42" x2="98.5" y2="381.42" stroke="#000" stroke-width="2"/>
<line x1="94" y1="331.05" x2="98.5" y2="331.05" stroke="#000" stroke-width="2"/>
<line x1="94" y1="280.68" x2="98.5" y2="280.68" stroke="#000" stroke-width="2"/>
<line x1="94" y1="230.31" x2="98.5" y2="230.31" stroke="#000" stroke-width="2"/>
<line x1="94" y1="179.94" x2="98.5" y2="179.94" stroke="#000" stroke-width="2"/>
<line x1="94" y1="129.57" x2="98.5" y2="129.57" stroke="#000" stroke-width="2"/>
<line x1="94" y1="79.2" x2="98.5" y2="79.2" stroke="#000" stroke-width="2"/>
<line x1="98.25" y1="436" x2="98.25" y2="444" stroke="#000" stroke-width="2"/>
<text transform="translate(97.05 470.8) scale(1 1.03)" font-size="27.5" text-anchor="middle">-10</text>
<line x1="354.5" y1="436" x2="354.5" y2="444" stroke="#000" stroke-width="2"/>
<text transform="translate(353.3 470.8) scale(1 1.03)" font-size="27.5" text-anchor="middle">0</text>
<line x1="610.75" y1="436" x2="610.75" y2="444" stroke="#000" stroke-width="2"/>
<text transform="translate(609.55 470.8) scale(1 1.03)" font-size="27.5" text-anchor="middle">10</text>
<line x1="226.38" y1="436" x2="226.38" y2="440.5" stroke="#000" stroke-width="2"/>
<line x1="482.62" y1="436" x2="482.62" y2="440.5" stroke="#000" stroke-width="2"/>
<text transform="translate(286 496.3) scale(1 1.03)" font-size="26.5"><tspan font-style="italic">V</tspan><tspan font-size="15.5" x="16.7" dy="8.4">g</tspan><tspan x="29.4" dy="-8.4">-</tspan><tspan x="46.7" font-style="italic">V</tspan><tspan font-size="15.5" x="63.8" dy="8.4">Dirac</tspan><tspan x="103.3" dy="-8.4" font-size="27">(V)</tspan></text>
<text transform="translate(30.5 279.5) rotate(-90) scale(1 1.03)" font-size="26"><tspan font-style="italic">R</tspan><tspan font-size="15.5" x="17.5" dy="8.5">xx</tspan><tspan x="41" dy="-8.5" font-size="25">(kΩ)</tspan></text>
<circle cx="419.8" cy="103" r="4" fill="url(#gBlueDot)"/>
<circle cx="419.8" cy="133.8" r="4" fill="url(#gRedDot)"/>
<text transform="translate(437.3 110.6) scale(1 1.03)" font-size="27">T = 300 K</text>
<text transform="translate(437.3 143.3) scale(1 1.03)" font-size="27">T = 4 K</text>
<text transform="translate(704.3 33.6) scale(1 1.03)" font-size="45" font-weight="bold">b</text>
<line x1="792.5" y1="37.6" x2="1304.8" y2="37.6" stroke="#000" stroke-width="2"/>
<line x1="792.5" y1="438.2" x2="1304.8" y2="438.2" stroke="#000" stroke-width="2"/>
<line x1="793.5" y1="45.6" x2="793.5" y2="439.2" stroke="#0a0a9a" stroke-width="2.2"/>
<line x1="793.5" y1="36.6" x2="793.5" y2="45.6" stroke="#000" stroke-width="2"/>
<line x1="1303.8" y1="37.6" x2="1303.8" y2="439.2" stroke="#ee3a3a" stroke-width="2.2"/>
<line x1="785.5" y1="438.3" x2="793.5" y2="438.3" stroke="#0a0a9a" stroke-width="2"/>
<text transform="translate(771 447.9) scale(0.97 1.03)" font-size="26" text-anchor="middle" fill="#0a0a9a">0</text>
<line x1="789" y1="400.29" x2="793.5" y2="400.29" stroke="#0a0a9a" stroke-width="2"/>
<line x1="785.5" y1="362.28" x2="793.5" y2="362.28" stroke="#0a0a9a" stroke-width="2"/>
<text transform="translate(771 371.88) scale(0.97 1.03)" font-size="26" text-anchor="middle" fill="#0a0a9a">10</text>
<line x1="789" y1="324.27" x2="793.5" y2="324.27" stroke="#0a0a9a" stroke-width="2"/>
<line x1="785.5" y1="286.26" x2="793.5" y2="286.26" stroke="#0a0a9a" stroke-width="2"/>
<text transform="translate(781.3 295.86) scale(0.97 1.03)" font-size="26" text-anchor="end" fill="#0a0a9a">20</text>
<line x1="789" y1="248.25" x2="793.5" y2="248.25" stroke="#0a0a9a" stroke-width="2"/>
<line x1="785.5" y1="210.24" x2="793.5" y2="210.24" stroke="#0a0a9a" stroke-width="2"/>
<text transform="translate(781.3 219.84) scale(0.97 1.03)" font-size="26" text-anchor="end" fill="#0a0a9a">30</text>
<line x1="789" y1="172.23" x2="793.5" y2="172.23" stroke="#0a0a9a" stroke-width="2"/>
<line x1="785.5" y1="134.22" x2="793.5" y2="134.22" stroke="#0a0a9a" stroke-width="2"/>
<text transform="translate(781.3 143.82) scale(0.97 1.03)" font-size="26" text-anchor="end" fill="#0a0a9a">40</text>
<line x1="789" y1="96.21" x2="793.5" y2="96.21" stroke="#0a0a9a" stroke-width="2"/>
<line x1="785.5" y1="58.2" x2="793.5" y2="58.2" stroke="#0a0a9a" stroke-width="2"/>
<text transform="translate(781.3 67.8) scale(0.97 1.03)" font-size="26" text-anchor="end" fill="#0a0a9a">50</text>
<line x1="1303.8" y1="438.2" x2="1311.8" y2="438.2" stroke="#ee3a3a" stroke-width="2"/>
<text transform="translate(1319 443.2) scale(0.96 1.03)" font-size="25.5" fill="#ee3a3a">0</text>
<line x1="1303.8" y1="414.47" x2="1308.3" y2="414.47" stroke="#ee3a3a" stroke-width="2"/>
<line x1="1303.8" y1="390.75" x2="1311.8" y2="390.75" stroke="#ee3a3a" stroke-width="2"/>
<text transform="translate(1319 395.75) scale(0.96 1.03)" font-size="25.5" fill="#ee3a3a">20</text>
<line x1="1303.8" y1="367.02" x2="1308.3" y2="367.02" stroke="#ee3a3a" stroke-width="2"/>
<line x1="1303.8" y1="343.3" x2="1311.8" y2="343.3" stroke="#ee3a3a" stroke-width="2"/>
<text transform="translate(1319 348.3) scale(0.96 1.03)" font-size="25.5" fill="#ee3a3a">40</text>
<line x1="1303.8" y1="319.57" x2="1308.3" y2="319.57" stroke="#ee3a3a" stroke-width="2"/>
<line x1="1303.8" y1="295.85" x2="1311.8" y2="295.85" stroke="#ee3a3a" stroke-width="2"/>
<text transform="translate(1319 300.85) scale(0.96 1.03)" font-size="25.5" fill="#ee3a3a">60</text>
<line x1="1303.8" y1="272.12" x2="1308.3" y2="272.12" stroke="#ee3a3a" stroke-width="2"/>
<line x1="1303.8" y1="248.4" x2="1311.8" y2="248.4" stroke="#ee3a3a" stroke-width="2"/>
<text transform="translate(1319 253.4) scale(0.96 1.03)" font-size="25.5" fill="#ee3a3a">80</text>
<line x1="1303.8" y1="224.67" x2="1308.3" y2="224.67" stroke="#ee3a3a" stroke-width="2"/>
<line x1="1303.8" y1="200.95" x2="1311.8" y2="200.95" stroke="#ee3a3a" stroke-width="2"/>
<text transform="translate(1319 205.95) scale(0.96 1.03)" font-size="25.5" fill="#ee3a3a">100</text>
<line x1="1303.8" y1="177.22" x2="1308.3" y2="177.22" stroke="#ee3a3a" stroke-width="2"/>
<line x1="1303.8" y1="153.5" x2="1311.8" y2="153.5" stroke="#ee3a3a" stroke-width="2"/>
<text transform="translate(1319 158.5) scale(0.96 1.03)" font-size="25.5" fill="#ee3a3a">120</text>
<line x1="1303.8" y1="129.77" x2="1308.3" y2="129.77" stroke="#ee3a3a" stroke-width="2"/>
<line x1="1303.8" y1="106.05" x2="1311.8" y2="106.05" stroke="#ee3a3a" stroke-width="2"/>
<text transform="translate(1319 111.05) scale(0.96 1.03)" font-size="25.5" fill="#ee3a3a">140</text>
<line x1="1303.8" y1="82.32" x2="1308.3" y2="82.32" stroke="#ee3a3a" stroke-width="2"/>
<line x1="1303.8" y1="58.6" x2="1311.8" y2="58.6" stroke="#ee3a3a" stroke-width="2"/>
<text transform="translate(1319 63.6) scale(0.96 1.03)" font-size="25.5" fill="#ee3a3a">160</text>
<line x1="793.2" y1="438.2" x2="793.2" y2="445.7" stroke="#000" stroke-width="2"/>
<text transform="translate(793.2 470) scale(1 1.03)" font-size="26.5" text-anchor="middle">0</text>
<line x1="839.55" y1="438.2" x2="839.55" y2="442.2" stroke="#000" stroke-width="2"/>
<text transform="translate(842.05 470) scale(1 1.03)" font-size="26.5" text-anchor="middle">1</text>
<line x1="885.9" y1="438.2" x2="885.9" y2="445.7" stroke="#000" stroke-width="2"/>
<text transform="translate(885.9 470) scale(1 1.03)" font-size="26.5" text-anchor="middle">2</text>
<line x1="932.25" y1="438.2" x2="932.25" y2="442.2" stroke="#000" stroke-width="2"/>
<text transform="translate(932.25 470) scale(1 1.03)" font-size="26.5" text-anchor="middle">3</text>
<line x1="978.6" y1="438.2" x2="978.6" y2="445.7" stroke="#000" stroke-width="2"/>
<text transform="translate(978.6 470) scale(1 1.03)" font-size="26.5" text-anchor="middle">4</text>
<line x1="1024.95" y1="438.2" x2="1024.95" y2="442.2" stroke="#000" stroke-width="2"/>
<text transform="translate(1024.95 470) scale(1 1.03)" font-size="26.5" text-anchor="middle">5</text>
<line x1="1071.3" y1="438.2" x2="1071.3" y2="445.7" stroke="#000" stroke-width="2"/>
<text transform="translate(1071.3 470) scale(1 1.03)" font-size="26.5" text-anchor="middle">6</text>
<line x1="1117.65" y1="438.2" x2="1117.65" y2="442.2" stroke="#000" stroke-width="2"/>
<text transform="translate(1117.65 470) scale(1 1.03)" font-size="26.5" text-anchor="middle">7</text>
<line x1="1164" y1="438.2" x2="1164" y2="445.7" stroke="#000" stroke-width="2"/>
<text transform="translate(1164 470) scale(1 1.03)" font-size="26.5" text-anchor="middle">8</text>
<line x1="1210.35" y1="438.2" x2="1210.35" y2="442.2" stroke="#000" stroke-width="2"/>
<text transform="translate(1210.35 470) scale(1 1.03)" font-size="26.5" text-anchor="middle">9</text>
<line x1="1256.7" y1="438.2" x2="1256.7" y2="445.7" stroke="#000" stroke-width="2"/>
<text transform="translate(1259.2 470) scale(1 1.03)" font-size="26.5" text-anchor="middle">10</text>
<line x1="1303.05" y1="438.2" x2="1303.05" y2="442.2" stroke="#000" stroke-width="2"/>
<circle cx="839.55" cy="356.1" r="6.9" fill="url(#sphB)"/>
<circle cx="885.9" cy="369" r="6.9" fill="url(#sphB)"/>
<circle cx="932.25" cy="378.8" r="6.9" fill="url(#sphB)"/>
<circle cx="978.6" cy="353.5" r="6.9" fill="url(#sphB)"/>
<circle cx="1024.95" cy="365" r="6.9" fill="url(#sphB)"/>
<circle cx="1071.3" cy="370" r="6.9" fill="url(#sphB)"/>
<circle cx="1117.65" cy="345.5" r="6.9" fill="url(#sphB)"/>
<circle cx="1164" cy="364.5" r="6.9" fill="url(#sphB)"/>
<circle cx="1210.35" cy="362.5" r="6.9" fill="url(#sphB)"/>
<circle cx="1256.7" cy="371.2" r="6.9" fill="url(#sphB)"/>
<circle cx="839.55" cy="183" r="7.1" fill="url(#sphR)"/>
<circle cx="885.9" cy="208.5" r="7.1" fill="url(#sphR)"/>
<circle cx="978.6" cy="119.5" r="7.1" fill="url(#sphR)"/>
<circle cx="1024.95" cy="223.5" r="7.1" fill="url(#sphR)"/>
<circle cx="1071.3" cy="233.5" r="7.1" fill="url(#sphR)"/>
<circle cx="1117.65" cy="98.5" r="7.1" fill="url(#sphR)"/>
<circle cx="1164" cy="206.5" r="7.1" fill="url(#sphR)"/>
<circle cx="1210.35" cy="223.5" r="7.1" fill="url(#sphR)"/>
<circle cx="808.6" cy="75.5" r="7.5" fill="url(#sphB)"/>
<circle cx="810" cy="110" r="7.8" fill="url(#sphR)"/>
<text transform="translate(826 87) scale(1 1.03)" font-size="26.7">T = 300 K</text>
<text transform="translate(826 119.8) scale(1 1.03)" font-size="26.7">T = 4 K</text>
<text transform="translate(727.7 394) rotate(-90) scale(0.99 1.03)" font-size="24.5" fill="#0a0a9a">Mobility (×10<tspan font-size="15" dy="-10">4</tspan><tspan dy="10"> cm</tspan><tspan font-size="15" dy="-10">2</tspan><tspan dy="10"> V</tspan><tspan font-size="15" dy="-10">-1</tspan><tspan dy="10"> s</tspan><tspan font-size="15" dy="-10">-1</tspan><tspan dy="10">)</tspan></text>
<text transform="translate(1385.5 367) rotate(-90) scale(0.99 1.03)" font-size="24.5" fill="#ff1a1a">Mobility (×10<tspan font-size="15" dy="-10">4</tspan><tspan dy="10"> cm</tspan><tspan font-size="15" dy="-10">2</tspan><tspan dy="10"> V</tspan><tspan font-size="15" dy="-10">-1</tspan><tspan dy="10"> s</tspan><tspan font-size="15" dy="-10">-1</tspan><tspan dy="10">)</tspan></text>
<text transform="translate(1035.5 498.5) scale(1 1.03)" font-size="26.4" text-anchor="middle">Device Number</text>
<text transform="translate(-1 526) scale(1 1.03)" font-size="45" font-weight="bold">c</text>
<path d="M96.1 624.3L96.6 619.2L97.1 617.5L97.6 614L98.1 611L98.6 608.7L99.1 606.4L99.6 605.7L100.1 604L100.6 604.3L101.1 601.5L101.6 599.7L102.1 598.3L102.6 596.6L103.1 596.9L103.6 597.7L104.1 598.6L104.6 598.8L105.1 599.8L105.6 600.2L106.1 601.8L106.6 604L107.1 605L107.6 606L108.1 607.7L108.6 609.5L109.1 611.6L109.6 612.1L110.1 614.8L110.6 618L111.1 619.8L111.6 622.7L112.1 625.9L112.6 628.5L113.1 630.9L113.6 633.8L114.1 635.8L114.6 641.6L115.1 644.8L115.6 648.6L116.1 653.5L116.6 657.8L117.1 661.4L117.6 665.2L118.1 670.1L118.6 675.1L119.1 680.7L119.6 685.4L120.1 690.1L120.6 695.5L121.1 699.9L121.6 704.6L122.1 710.3L122.6 713.9L123.1 717.2L123.6 720.6L124.1 724.8L124.6 727.2L125.1 732.3L125.6 735.9L126.1 738.6L126.6 741.7L127.1 742.6L127.6 744.8L128.1 744.9L128.6 746.8L129.1 749L129.6 750.6L130.1 750.5L130.6 752.6L131.1 754.4L131.6 755.4L132.1 757.8L132.6 757.9L133.1 760L133.6 761.7L134.1 765.8L134.6 768.2L135.1 771L135.6 773.4L136.1 777.9L136.6 780.5L137.1 783.4L137.6 786.5L138.1 788.7L138.6 790.7L139.1 793.1L139.6 795.6L140.1 799.1L140.6 800.3L141.1 803.2L141.6 805.9L142.1 806.3L142.6 806.2L143.1 805L143.6 804.5L144.1 804.9L144.6 805.1L145.1 804.6L145.6 804L146.1 803.4L146.6 803.4L147.1 802.8L147.6 802.9L148.1 801.9L148.6 802L149.1 801.5L149.6 801.5L150.1 801L150.6 803.5L151.1 804.6L151.6 806.1L152.1 806L152.6 808.2L153.1 809.6L153.6 811.6L154.1 811.9L154.6 816L155.1 819.3L155.6 821.5L156.1 825L156.6 828.4L157.1 832.1L157.6 835.7L158.1 839.7L158.6 841.8L159.1 844.5L159.6 846.6L160.1 849.7L160.6 851.5L161.1 854.1L161.6 855.4L162.1 858.1L162.6 860.2L163.1 862.5L163.6 863.1L164.1 863.7L164.6 864.6L165.1 866L165.6 866.5L166.1 867.4L166.6 869L167.1 870.9L167.6 870.7L168.1 871.5L168.6 872.3L169.1 873.2L169.6 875.1L170.1 876.2L170.6 876.8L171.1 878L171.6 878.9L172.1 879.9L172.6 880.2L173.1 881.7L173.6 882.9L174.1 883.7L174.6 885.1L175.1 886.2L175.6 887.6L176.1 889.4L176.6 890.1L177.1 891.5L177.6 893.2L178.1 894.3L178.6 896.1L179.1 895.6L179.6 897.6L180.1 896.8L180.6 897L181.1 897.1L181.6 897.1L182.1 896.9L182.6 896.3L183.1 896.8L183.6 895.8L184.1 893.7L184.6 892L185.1 889.3L185.6 888.4L186.1 885.8L186.6 884.2L187.1 881.1L187.6 878.8L188.1 876.9L188.6 875.1L189.1 872.4L189.6 868.9L190.1 864.4L190.6 860.8L191.1 855.4L191.6 851.9L192.1 846.8L192.6 842.3L193.1 838.1L193.6 833.1L194.1 828.4L194.6 823.5L195.1 817.8L195.6 812.7L196.1 807.8L196.6 801.9L197.1 796.5L197.6 791L198.1 784.7L198.6 780.1L199.1 773.3L199.6 768.8L200.1 762.8L200.6 757.7L201.1 751.5L201.6 745.5L202.1 739L202.6 730.6L203.1 722.8L203.6 714.9L204.1 706.8L204.6 698.8L205.1 696.2L205.6 694.1L206.1 690.9L206.6 689.5L207.1 686.7L207.6 685.4L208.1 683.1L208.6 679.4L209.1 679.9L209.6 680.6L210.1 681L210.6 682.5L211.1 682.9L211.6 683.2L212.1 684.7L212.6 685.6L213.1 686.2L213.6 685.1L214.1 685.5L214.6 685L215.1 683.7L215.6 683.4L216.1 683.1L216.6 682.3L217.1 682.8L217.6 681.5L218.1 680.4L218.6 679.9L219.1 679.7L219.6 680.2L220.1 678.8L220.6 680L221.1 681.3L221.6 682.1L222.1 684.2L222.6 684L223.1 685.7L223.6 686.5L224.1 687.8L224.6 689.1L225.1 692.8L225.6 694.3L226.1 696.8L226.6 698.8L227.1 701.2L227.6 704.2L228.1 706.8L228.6 708.7L229.1 710.8L229.6 712.4L230.1 713.9L230.6 716.1L231.1 717.8L231.6 719.3L232.1 721.5L232.6 723.2L233.1 722.9L233.6 722.7L234.1 723.3L234.6 724L235.1 723.2L235.6 723.3L236.1 723.4L236.6 724.2L237.1 722.9L237.6 724L238.1 724.5L238.6 725.3L239.1 728L239.6 729.2L240.1 730.4L240.6 732.4L241.1 733.3L241.6 735.4L242.1 738.2L242.6 738.9L243.1 742.3L243.6 743.6L244.1 746.2L244.6 748L245.1 749.1L245.6 752L246.1 754.6L246.6 755.8L247.1 756.6L247.6 758.2L248.1 758.6L248.6 758.9L249.1 760.2L249.6 761.8L250.1 762L250.6 763.5L251.1 766L251.6 768L252.1 770.1L252.6 772.7L253.1 775.9L253.6 779L254.1 781.4L254.6 784.2L255.1 786.1L255.6 788.4L256.1 790.1L256.6 792.2L257.1 793.7L257.6 795.6L258.1 798.1L258.6 799.8L259.1 801.9L259.6 804.6L260.1 806.3L260.6 809.7L261.1 811L261.6 812.5L262.1 815.4L262.6 817.5L263.1 819.2L263.6 822.3L264.1 823.7L264.6 824.9L265.1 828.9L265.6 830.5L266.1 833.7L266.6 836L267.1 839.1L267.6 843.7L268.1 845.8L268.6 849.8L269.1 853.7L269.6 856.4L270.1 859.6L270.6 861.9L271.1 863.8L271.6 864.5L272.1 866.6L272.6 868.1L273.1 870.4L273.6 870.7L274.1 871.9L274.6 874.1L275.1 874.7L275.6 876.2L276.1 877.2L276.6 878.8L277.1 879.2L277.6 880.6L278.1 880.6L278.6 882.5L279.1 884.7L279.6 884.9L280.1 885.7L280.6 884.8L281.1 884.9L281.6 884L282.1 882.8L282.6 882.9L283.1 882.1L283.6 881.6L284.1 880.3L284.6 879.7L285.1 877.1L285.6 874.9L286.1 872.7L286.6 870.9L287.1 870L287.6 870.5L288.1 872.1L288.6 872.9L289.1 874.2L289.6 875L290.1 876.1L290.6 877.1L291.1 879.9L291.6 881.9L292.1 883.5L292.6 885.5L293.1 886.8L293.6 888.7L294.1 889.4L294.6 887.9L295.1 884.9L295.6 882.1L296.1 879.3L296.6 877.3L297.1 875.5L297.6 872.6L298.1 869.6L298.6 866L299.1 861L299.6 855.8L300.1 850.8L300.6 845.9L301.1 840.6L301.6 835.7L302.1 830L302.6 824.8L303.1 816L303.6 808.6L304.1 798.5L304.6 791.5L305.1 783.4L305.6 780.9L306.1 780.9L306.6 780.7L307.1 780.3L307.6 779.5L308.1 779.3L308.6 779.5L309.1 779.3L309.6 778.7L310.1 779L310.6 779.4L311.1 780.1L311.6 779.5L312.1 779.7L312.6 780.7L313.1 780.5L313.6 781L314.1 781.2L314.6 781.2L315.1 780.3L315.6 781L316.1 779.7L316.6 780.5L317.1 779.4L317.6 779.4L318.1 780.1L318.6 779.5L319.1 779.1L319.6 779.1L320.1 779.3L320.6 778.9L321.1 778.8L321.6 779.1L322.1 778.3L322.6 778.9L323.1 779.4L323.6 780.6L324.1 781L324.6 781.7L325.1 781.6L325.6 782L326.1 783L326.6 784.7L327.1 787.9L327.6 790.5L328.1 792.5L328.6 795.5L329.1 798.1L329.6 801.6L330.1 804.7L330.6 806.1L331.1 808.8L331.6 810.4L332.1 814.2L332.6 816.8L333.1 819L333.6 822.4L334.1 824L334.6 827.3L335.1 828L335.6 827.9L336.1 829.3L336.6 829.9L337.1 829.3L337.6 829.8L338.1 831.2L338.6 831.4L339.1 831.4L339.6 832.3L340.1 832.9L340.6 833.4L341.1 834.4L341.6 834.7L342.1 836L342.6 836.5L343.1 836.8L343.6 837.7L344.1 838.5L344.6 838.9L345.1 838.6L345.6 840.3L346.1 841.1L346.6 843.2L347.1 843.9L347.6 845.5L348.1 846.7L348.6 848.7L349.1 849.4L349.6 850.6L350.1 852.2L350.6 853.3L351.1 854.9L351.6 856.1L352.1 857.5L352.6 859.4L353.1 859.6L353.6 861L354.1 862.1L354.6 863.7L355.1 864.1L355.6 865.5L356.1 867.5L356.6 869.7L357.1 871.5L357.6 873.3L358.1 875.1L358.6 877.7L359.1 880.1L359.6 881.6L360.1 883.8L360.6 886.1L361.1 887.7L361.6 890.2L362.1 892.5L362.6 895L363.1 897.1L363.6 898.8L364.1 901.8L364.6 904.1L365.1 905.2L365.6 907.5L366.1 909.5L366.6 910.9L367.1 907.9L367.6 907.3L368.1 904.3L368.6 903.1L369.1 900.5L369.6 897.1L370.1 892.2L370.6 887.7L371.1 881.9L371.6 877.1L372.1 872L372.6 866.2L373.1 862.2L373.6 856.6L374.1 850.9L374.6 846.1L375.1 839.8L375.6 836.5L376.1 834L376.6 830.3L377.1 825.5L377.6 821.6L378.1 819.3L378.6 819.3L379.1 817.6L379.6 816.8L380.1 816.1L380.6 814.5L381.1 814L381.6 813.7L382.1 813.1L382.6 812.5L383.1 811.6L383.6 811.6L384.1 810.6L384.6 810.9L385.1 810.8L385.6 808.5L386.1 807L386.6 806.9L387.1 806.4L387.6 805.8L388.1 805L388.6 803.3L389.1 803.6L389.6 805.7L390.1 805.8L390.6 807.9L391.1 808.5L391.6 810.1L392.1 812.1L392.6 814.4L393.1 816.7L393.6 818.1L394.1 820.9L394.6 823L395.1 825.4L395.6 828.1L396.1 827.8L396.6 828L397.1 828.4L397.6 829L398.1 829.8L398.6 829.5L399.1 830.8L399.6 830.8L400.1 831L400.6 830.9L401.1 831.9L401.6 832.4L402.1 831.7L402.6 833.3L403.1 833.8L403.6 833.9L404.1 835.2L404.6 837.3L405.1 838L405.6 838.3L406.1 839.9L406.6 841L407.1 842.3L407.6 842.5L408.1 845.1L408.6 845.2L409.1 846.1L409.6 846.6L410.1 847.6L410.6 847.7L411.1 848.1L411.6 849.3L412.1 850.2L412.6 850.1L413.1 851.4L413.6 851.7L414.1 852L414.6 853.7L415.1 853.4L415.6 855L416.1 855L416.6 856.2L417.1 856.6L417.6 859.5L418.1 863L418.6 865.3L419.1 867.9L419.6 870.4L420.1 872.9L420.6 873.3L421.1 874.7L421.6 876.4L422.1 877.4L422.6 876.8L423.1 875.9L423.6 874.7L424.1 873.5L424.6 873.2L425.1 869.7L425.6 866.1L426.1 861.9L426.6 858L427.1 853.8L427.6 850.6L428.1 845L428.6 840.8L429.1 836.6L429.6 832.1L430.1 827L430.6 821.3L431.1 819.7L431.6 817L432.1 815.6L432.6 813L433.1 811.2L433.6 810.2L434.1 809.3L434.6 809.8L435.1 808.6L435.6 808.2L436.1 808.8L436.6 809.3L437.1 809.3L437.6 810.5L438.1 810.9L438.6 812.4L439.1 813.9L439.6 814.5L440.1 815.2L440.6 816.5L441.1 819.3L441.6 821.5L442.1 823.4L442.6 825.3L443.1 826.6L443.6 830L444.1 831.2L444.6 833.2L445.1 835.6L445.6 836.3L446.1 839.2L446.6 841.2L447.1 843.4L447.6 845.8L448.1 847.4L448.6 848.4L449.1 850.8L449.6 851.6L450.1 852.2L450.6 852.2L451.1 852.7L451.6 854.3L452.1 854.8L452.6 855.3L453.1 854.9L453.6 856.5L454.1 854.4L454.6 855.5L455.1 856.6L455.6 855.6L456.1 855.8L456.6 855.2L457.1 856.3L457.6 855.1L458.1 855.8L458.6 855.8L459.1 856.4L459.6 858.8L460.1 859.3L460.6 861.1L461.1 862.9L461.6 864.2L462.1 867.6L462.6 870.9L463.1 873.3L463.6 876.2L464.1 879.3L464.6 882.2L465.1 885L465.6 886.9L466.1 889.5L466.6 891.6L467.1 892.7L467.6 891.1L468.1 887.9L468.6 886L469.1 884.3L469.6 880.8L470.1 878.9L470.6 875.2L471.1 872.2L471.6 868.3L472.1 865.3L472.6 861.7L473.1 858.5L473.6 855.7L474.1 851.6L474.6 850.3L475.1 849L475.6 848L476.1 846.7L476.6 846.5L477.1 847.9L477.6 849.1L478.1 849.1L478.6 849.1L479.1 850.6L479.6 850.2L480.1 850.6L480.6 851L481.1 851.7L481.6 852.7L482.1 854.3L482.6 854L483.1 854.2L483.6 855.1L484.1 855.3L484.6 854.1L485.1 854.2L485.6 853.9L486.1 853.1L486.6 852.6L487.1 851.1L487.6 850.3L488.1 852L488.6 852.9L489.1 852.7L489.6 854.5L490.1 855.4L490.6 856.6L491.1 857.5L491.6 858.2L492.1 859.9L492.6 861.3L493.1 862.7L493.6 863.4L494.1 864.4L494.6 866.9L495.1 868L495.6 870.3L496.1 871.3L496.6 871.9L497.1 872.5L497.6 873.5L498.1 874.8L498.6 874.7L499.1 876.3L499.6 877L500.1 877.6L500.6 879.7L501.1 881.2L501.6 884.4L502.1 886.1L502.6 888.7L503.1 891L503.6 891.3L504.1 888.3L504.6 886.4L505.1 883.5L505.6 882.1L506.1 880.1L506.6 877L507.1 875.3L507.6 872.8L508.1 871.5L508.6 868.6L509.1 865.8L509.6 865.2L510.1 862.5L510.6 860.1L511.1 858.3L511.6 856.9L512.1 856.5L512.6 855.1L513.1 855.3L513.6 853.9L514.1 851.9L514.6 850.9L515.1 850.8L515.6 851.7L516.1 854.1L516.6 855.6L517.1 856.8L517.6 858.4L518.1 860.3L518.6 862.2L519.1 863.4L519.6 863.2L520.1 864.1L520.6 863.8L521.1 864.8L521.6 864.7L522.1 865.9L522.6 865.5L523.1 865.9L523.6 866.3L524.1 866.6L524.6 865.7L525.1 866.1L525.6 866.4L526.1 867.8L526.6 869.1L527.1 871.4L527.6 873L528.1 875.5L528.6 876.9L529.1 877.9L529.6 879.3L530.1 882.2L530.6 884.5L531.1 886L531.6 888.2L532.1 889.4L532.6 890.9L533.1 893.7L533.6 893.6L534.1 891.5L534.6 888.2L535.1 886.5L535.6 883.8L536.1 882.1L536.6 879.1L537.1 876.7L537.6 874.8L538.1 874.2L538.6 872.2L539.1 870.3L539.6 868.7L540.1 867.2L540.6 866.9L541.1 863.9L541.6 862.9L542.1 862.1L542.6 861.6L543.1 860.5L543.6 860.4L544.1 859.9L544.6 859.5L545.1 858.6L545.6 858.8L546.1 857.6L546.6 857.7L547.1 856.4L547.6 858.5L548.1 858.8L548.6 859.9L549.1 862.1L549.6 862.7L550.1 864.5L550.6 865.1L551.1 867.6L551.6 868.3L552.1 869.2L552.6 871.2L553.1 872.9L553.6 873.6L554.1 875.6L554.6 877.7L555.1 878.6L555.6 879.6L556.1 881.5L556.6 884.2L557.1 885.5L557.6 887.1L558.1 890.4L558.6 892.5L559.1 896L559.6 897.5L560.1 894.3L560.6 891.6L561.1 889.6L561.6 886.4L562.1 883.8L562.6 881.4L563.1 878.8L563.6 876.2L564.1 873.6L564.6 871.5L565.1 869.1L565.6 865L566.1 864.3L566.6 861.8L567.1 862.8L567.6 862.4L568.1 863.3L568.6 863.8L569.1 864.2L569.6 865.1L570.1 865.4L570.6 865.2L571.1 866.1L571.6 867.3L572.1 868.3L572.6 868.8L573.1 869.8L573.6 870.9L574.1 871.5L574.6 872.4L575.1 874.7L575.6 874.8L576.1 876.1L576.6 878.4L577.1 882.1L577.6 885.1L578.1 886.9L578.6 890L579.1 892.2L579.6 896L580.1 897.2L580.6 893.4L581.1 891.4L581.6 887.9L582.1 884.9L582.6 881.9L583.1 879.1L583.6 877.9L584.1 877.1L584.6 875.5L585.1 873.8L585.6 873.9L586.1 871.6L586.6 870.2L587.1 868.8L587.6 868.2L588.1 868.1L588.6 868.4L589.1 869.3L589.6 868.8L590.1 869.9L590.6 870.5L591.1 871.3L591.6 872.1L592.1 871.6L592.6 874.5L593.1 874.4L593.6 876.5L594.1 878.3L594.6 880L595.1 881.3L595.6 881.5L596.1 883.9L596.6 886.9L597.1 890.2L597.6 894.3L598.1 897.8L598.6 900.7L599.1 897.5L599.6 893.9L600.1 891.3L600.6 888.4L601.1 885.1L601.6 883L602.1 881.6L602.6 880L603.1 878.7L603.6 876.5L604.1 874.6L604.6 874.4L605.1 874.1L605.6 874.1L606.1 875.3L606.6 874.8L607.1 875.3L607.6 875.7L608.1 875.1L608.6 876.1L609.1 876.2L609.6 878L610.1 880.2L610.6 881.7L611.1 883.1L611.6 886" fill="none" stroke="#0a0a8c" stroke-width="2.3" stroke-linejoin="round"/>
<path d="M96.1 529.8L96.7 530.5L97.3 531.2L97.9 531.9L98.5 532.6L99.1 533.3L99.7 534L100.3 534.7L100.9 535.4L101.5 536.1L102.1 536.8L102.7 537.5L103.3 538.2L103.9 538.9L104.5 539.6L105.1 540.3L105.7 541.1L106.3 541.8L106.9 542.5L107.5 543.2L108.1 544L108.7 544.7L109.3 545.4L109.9 546.1L110.5 546.9L111.1 547.6L111.7 548.3L112.3 549.1L112.9 549.8L113.5 550.6L114.1 551.3L114.7 552.1L115.3 552.8L115.9 553.6L116.5 554.4L117.1 555.2L117.7 556L118.3 556.9L118.9 557.8L119.5 558.8L120.1 559.9L120.7 561L121.3 562.1L121.9 563.2L122.5 564.3L123.1 565.3L123.7 566.2L124.3 567.1L124.9 567.8L125.5 568.4L126.1 568.8L126.7 569.1L127.3 569.3L127.9 569.6L128.5 569.8L129.1 570L129.7 570.2L130.3 570.4L130.9 570.6L131.5 570.8L132.1 571L132.7 571.1L133.3 571.3L133.9 571.4L134.5 571.5L135.1 571.5L135.7 571.6L136.3 571.7L136.9 571.7L137.5 571.7L138.1 571.7L138.7 571.7L139.3 571.7L139.9 571.7L140.5 571.7L141.1 571.7L141.7 571.7L142.3 571.7L142.9 571.7L143.5 571.7L144.1 571.7L144.7 571.7L145.3 571.7L145.9 571.7L146.5 571.7L147.1 571.7L147.7 571.7L148.3 571.7L148.9 571.7L149.5 571.7L150.1 571.7L150.7 571.8L151.3 571.8L151.9 571.8L152.5 571.9L153.1 572L153.7 572L154.3 572.1L154.9 572.2L155.5 572.3L156.1 572.4L156.7 572.5L157.3 572.7L157.9 572.8L158.5 572.9L159.1 573.1L159.7 573.2L160.3 573.4L160.9 573.5L161.5 573.7L162.1 573.9L162.7 574.1L163.3 574.2L163.9 574.4L164.5 574.7L165.1 574.9L165.7 575.3L166.3 575.8L166.9 576.3L167.5 576.9L168.1 577.5L168.7 578.1L169.3 578.8L169.9 579.6L170.5 580.3L171.1 581L171.7 581.8L172.3 582.5L172.9 583.3L173.5 584L174.1 584.6L174.7 585.3L175.3 586L175.9 586.7L176.5 587.5L177.1 588.2L177.7 589L178.3 589.7L178.9 590.5L179.5 591.3L180.1 592L180.7 592.8L181.3 593.6L181.9 594.4L182.5 595.2L183.1 596L183.7 596.9L184.3 597.7L184.9 598.5L185.5 599.3L186.1 600.1L186.7 600.9L187.3 601.7L187.9 602.5L188.5 603.4L189.1 604.3L189.7 605.2L190.3 606.2L190.9 607.2L191.5 608.2L192.1 609.2L192.7 610.3L193.3 611.3L193.9 612.4L194.5 613.4L195.1 614.4L195.7 615.3L196.3 616.3L196.9 617.2L197.5 618L198.1 618.8L198.7 619.5L199.3 620.2L199.9 620.8L200.5 621.3L201.1 621.7L201.7 622L202.3 622.2L202.9 622.4L203.5 622.6L204.1 622.8L204.7 623L205.3 623.2L205.9 623.4L206.5 623.5L207.1 623.7L207.7 623.8L208.3 623.9L208.9 623.9L209.5 624L210.1 624L210.7 624L211.3 624L211.9 624L212.5 623.9L213.1 623.9L213.7 623.8L214.3 623.8L214.9 623.7L215.5 623.6L216.1 623.6L216.7 623.5L217.3 623.4L217.9 623.4L218.5 623.3L219.1 623.2L219.7 623.2L220.3 623.1L220.9 623.1L221.5 623L222.1 623L222.7 622.9L223.3 622.9L223.9 622.9L224.5 622.9L225.1 622.9L225.7 623L226.3 623L226.9 623.1L227.5 623.2L228.1 623.3L228.7 623.4L229.3 623.5L229.9 623.6L230.5 623.8L231.1 623.9L231.7 624.1L232.3 624.3L232.9 624.5L233.5 624.7L234.1 624.9L234.7 625.2L235.3 625.6L235.9 626.1L236.5 626.7L237.1 627.5L237.7 628.3L238.3 629.1L238.9 630L239.5 631L240.1 632L240.7 633.1L241.3 634.1L241.9 635.2L242.5 636.3L243.1 637.4L243.7 638.5L244.3 639.5L244.9 640.5L245.5 641.5L246.1 642.4L246.7 643.3L247.3 644.2L247.9 645.1L248.5 646.1L249.1 647.1L249.7 648.1L250.3 649.1L250.9 650.1L251.5 651.2L252.1 652.2L252.7 653.2L253.3 654.2L253.9 655.2L254.5 656.2L255.1 657.1L255.7 657.9L256.3 658.7L256.9 659.5L257.5 660.2L258.1 660.8L258.7 661.4L259.3 661.8L259.9 662.2L260.5 662.5L261.1 662.7L261.7 663L262.3 663.2L262.9 663.4L263.5 663.5L264.1 663.7L264.7 663.8L265.3 663.9L265.9 663.9L266.5 663.9L267.1 663.8L267.7 663.7L268.3 663.6L268.9 663.5L269.5 663.3L270.1 663.1L270.7 662.9L271.3 662.6L271.9 662.4L272.5 662.2L273.1 662L273.7 661.8L274.3 661.6L274.9 661.4L275.5 661.3L276.1 661.2L276.7 661.1L277.3 661.1L277.9 661.1L278.5 661.2L279.1 661.3L279.7 661.5L280.3 661.7L280.9 661.9L281.5 662.2L282.1 662.5L282.7 662.8L283.3 663.1L283.9 663.5L284.5 663.9L285.1 664.3L285.7 664.7L286.3 665.2L286.9 665.6L287.5 666L288.1 666.5L288.7 666.9L289.3 667.5L289.9 668.1L290.5 668.7L291.1 669.5L291.7 670.3L292.3 671.1L292.9 672L293.5 672.9L294.1 673.8L294.7 674.7L295.3 675.7L295.9 676.6L296.5 677.6L297.1 678.5L297.7 679.4L298.3 680.3L298.9 681.2L299.5 682L300.1 682.7L300.7 683.6L301.3 684.4L301.9 685.2L302.5 686L303.1 686.9L303.7 687.7L304.3 688.6L304.9 689.4L305.5 690.2L306.1 691L306.7 691.7L307.3 692.4L307.9 693.1L308.5 693.7L309.1 694.2L309.7 694.8L310.3 695.2L310.9 695.6L311.5 695.9L312.1 696.2L312.7 696.6L313.3 696.9L313.9 697.2L314.5 697.5L315.1 697.8L315.7 698.1L316.3 698.4L316.9 698.6L317.5 698.8L318.1 699L318.7 699.2L319.3 699.4L319.9 699.5L320.5 699.6L321.1 699.7L321.7 699.7L322.3 699.7L322.9 699.7L323.5 699.6L324.1 699.6L324.7 699.5L325.3 699.4L325.9 699.3L326.5 699.3L327.1 699.2L327.7 699.1L328.3 699L328.9 699L329.5 698.9L330.1 698.9L330.7 698.9L331.3 699.1L331.9 699.4L332.5 699.8L333.1 700.3L333.7 700.9L334.3 701.7L334.9 702.5L335.5 703.3L336.1 704.3L336.7 705.2L337.3 706.2L337.9 707.2L338.5 708.2L339.1 709.2L339.7 710.2L340.3 711.1L340.9 712L341.5 712.8L342.1 713.6L342.7 714.5L343.3 715.5L343.9 716.4L344.5 717.4L345.1 718.4L345.7 719.4L346.3 720.3L346.9 721.2L347.5 722.1L348.1 722.8L348.7 723.5L349.3 724.1L349.9 724.5L350.5 724.9L351.1 725.2L351.7 725.6L352.3 725.9L352.9 726.2L353.5 726.5L354.1 726.8L354.7 727L355.3 727.2L355.9 727.4L356.5 727.5L357.1 727.6L357.7 727.6L358.3 727.6L358.9 727.5L359.5 727.5L360.1 727.4L360.7 727.2L361.3 727.1L361.9 726.9L362.5 726.8L363.1 726.6L363.7 726.4L364.3 726.3L364.9 726.1L365.5 726L366.1 725.8L366.7 725.7L367.3 725.7L367.9 725.6L368.5 725.6L369.1 725.8L369.7 726.3L370.3 727.1L370.9 728.1L371.5 729.2L372.1 730.4L372.7 731.6L373.3 732.9L373.9 734.1L374.5 735.2L375.1 736.2L375.7 737L376.3 737.9L376.9 738.8L377.5 739.8L378.1 740.7L378.7 741.7L379.3 742.6L379.9 743.5L380.5 744.4L381.1 745.2L381.7 746.1L382.3 746.8L382.9 747.5L383.5 748.2L384.1 748.7L384.7 749.2L385.3 749.6L385.9 749.9L386.5 750.1L387.1 750.3L387.7 750.5L388.3 750.7L388.9 750.8L389.5 750.9L390.1 751L390.7 751.1L391.3 751.2L391.9 751.3L392.5 751.4L393.1 751.5L393.7 751.6L394.3 751.7L394.9 751.8L395.5 751.9L396.1 752.1L396.7 752.2L397.3 752.4L397.9 752.6L398.5 752.8L399.1 753.1L399.7 753.4L400.3 753.8L400.9 754.3L401.5 754.8L402.1 755.3L402.7 755.9L403.3 756.5L403.9 757.1L404.5 757.8L405.1 758.4L405.7 759L406.3 759.7L406.9 760.3L407.5 760.9L408.1 761.4L408.7 761.9L409.3 762.5L409.9 763.1L410.5 763.7L411.1 764.3L411.7 764.9L412.3 765.5L412.9 766.1L413.5 766.7L414.1 767.3L414.7 767.9L415.3 768.5L415.9 769.1L416.5 769.6L417.1 770.2L417.7 770.7L418.3 771.2L418.9 771.6L419.5 772L420.1 772.4L420.7 772.7L421.3 773L421.9 773.2L422.5 773.4L423.1 773.6L423.7 773.7L424.3 773.9L424.9 774L425.5 774.1L426.1 774.2L426.7 774.3L427.3 774.4L427.9 774.6L428.5 774.7L429.1 774.9L429.7 775.1L430.3 775.5L430.9 776L431.5 776.7L432.1 777.6L432.7 778.5L433.3 779.5L433.9 780.6L434.5 781.7L435.1 782.8L435.7 784L436.3 785.1L436.9 786.2L437.5 787.2L438.1 788.1L438.7 788.9L439.3 789.6L439.9 790.1L440.5 790.5L441.1 790.6L441.7 790.6L442.3 790.6L442.9 790.6L443.5 790.6L444.1 790.6L444.7 790.6L445.3 790.6L445.9 790.6L446.5 790.6L447.1 790.6L447.7 790.6L448.3 790.6L448.9 790.6L449.5 790.6L450.1 790.6L450.7 790.6L451.3 790.6L451.9 790.8L452.5 791.2L453.1 791.7L453.7 792.4L454.3 793.1L454.9 793.9L455.5 794.8L456.1 795.7L456.7 796.7L457.3 797.7L457.9 798.7L458.5 799.7L459.1 800.6L459.7 801.4L460.3 802.2L460.9 802.9L461.5 803.5L462.1 803.9L462.7 804.2L463.3 804.5L463.9 804.6L464.5 804.8L465.1 804.9L465.7 805.1L466.3 805.2L466.9 805.3L467.5 805.4L468.1 805.6L468.7 805.7L469.3 805.9L469.9 806.1L470.5 806.3L471.1 806.6L471.7 807L472.3 807.4L472.9 807.9L473.5 808.5L474.1 809.1L474.7 809.7L475.3 810.4L475.9 811.1L476.5 811.8L477.1 812.5L477.7 813.3L478.3 814L478.9 814.7L479.5 815.3L480.1 816L480.7 816.6L481.3 817.1L481.9 817.6L482.5 818.1L483.1 818.4L483.7 818.7L484.3 818.9L484.9 819.1L485.5 819.3L486.1 819.4L486.7 819.5L487.3 819.6L487.9 819.7L488.5 819.8L489.1 819.9L489.7 820.1L490.3 820.2L490.9 820.4L491.5 820.6L492.1 820.9L492.7 821.5L493.3 822.3L493.9 823.2L494.5 824.2L495.1 825.2L495.7 826.2L496.3 827.2L496.9 827.9L497.5 828.5L498.1 828.9L498.7 829.3L499.3 829.6L499.9 829.9L500.5 830.2L501.1 830.4L501.7 830.7L502.3 830.9L502.9 831.2L503.5 831.4L504.1 831.7L504.7 832L505.3 832.4L505.9 832.8L506.5 833.2L507.1 833.7L507.7 834.2L508.3 834.8L508.9 835.4L509.5 835.9L510.1 836.5L510.7 837.2L511.3 837.8L511.9 838.4L512.5 839L513.1 839.6L513.7 840.2L514.3 840.8L514.9 841.3L515.5 841.9L516.1 842.4L516.7 842.9L517.3 843.3L517.9 843.7L518.5 844.1L519.1 844.5L519.7 844.8L520.3 845.2L520.9 845.5L521.5 845.9L522.1 846.2L522.7 846.6L523.3 846.9L523.9 847.2L524.5 847.6L525.1 847.9L525.7 848.3L526.3 848.7L526.9 849.1L527.5 849.5L528.1 849.9L528.7 850.4L529.3 850.8L529.9 851.2L530.5 851.7L531.1 852.1L531.7 852.6L532.3 853L532.9 853.5L533.5 853.9L534.1 854.4L534.7 854.9L535.3 855.3L535.9 855.8L536.5 856.2L537.1 856.7L537.7 857.1L538.3 857.6L538.9 858L539.5 858.5L540.1 858.9L540.7 859.4L541.3 859.8L541.9 860.3L542.5 860.7L543.1 861.1L543.7 861.6L544.3 862L544.9 862.5L545.5 862.9L546.1 863.4L546.7 863.8L547.3 864.3L547.9 864.7L548.5 865.2L549.1 865.7L549.7 866.1L550.3 866.6L550.9 867.1L551.5 867.6L552.1 868.1L552.7 868.6L553.3 869.1L553.9 869.7L554.5 870.2L555.1 870.7L555.7 871.3L556.3 871.8L556.9 872.3L557.5 872.9L558.1 873.4L558.7 873.9L559.3 874.5L559.9 875L560.5 875.5L561.1 876L561.7 876.5L562.3 877L562.9 877.5L563.5 878L564.1 878.5L564.7 878.9L565.3 879.4L565.9 879.9L566.5 880.3L567.1 880.8L567.7 881.2L568.3 881.7L568.9 882.1L569.5 882.5L570.1 883L570.7 883.4L571.3 883.8L571.9 884.3L572.5 884.7L573.1 885.1L573.7 885.6L574.3 886L574.9 886.5L575.5 886.9L576.1 887.4L576.7 887.8L577.3 888.3L577.9 888.7L578.5 889.2L579.1 889.7L579.7 890.2L580.3 890.7L580.9 891.2L581.5 891.7L582.1 892.2L582.7 892.7L583.3 893.2L583.9 893.7L584.5 894.3L585.1 894.8L585.7 895.3L586.3 895.9L586.9 896.4L587.5 896.9L588.1 897.4L588.7 898L589.3 898.5L589.9 899L590.5 899.5L591.1 900L591.7 900.6L592.3 901.1L592.9 901.5L593.5 902L594.1 902.5L594.7 903L595.3 903.5L595.9 904L596.5 904.5L597.1 905L597.7 905.4L598.3 905.9L598.9 906.4L599.5 906.9L600.1 907.3L600.7 907.8L601.3 908.2L601.9 908.7L602.5 909.1L603.1 909.6L603.7 910L604.3 910.5L604.9 910.9L605.5 911.3L606.1 911.8L606.7 912.2L607.3 912.6L607.9 913L608.5 913.4L609.1 913.9L609.7 914.3L610.3 914.7L610.9 915.1L611.5 915.5" fill="none" stroke="#f04040" stroke-width="2.5" stroke-linejoin="round"/>
<text transform="translate(178.7 919.7) scale(1 1.03)" font-size="18" text-anchor="middle" fill="#f04040">-15</text>
<text transform="translate(286.3 911.3) scale(1 1.03)" font-size="18" text-anchor="middle" fill="#f04040">-16</text>
<text transform="translate(364.5 925.5) scale(1 1.03)" font-size="18" text-anchor="middle" fill="#f04040">-17</text>
<text transform="translate(418.5 896.4) scale(1 1.03)" font-size="18" text-anchor="middle" fill="#f04040">-18</text>
<text transform="translate(463.5 911) scale(1 1.03)" font-size="18" text-anchor="middle" fill="#f04040">-19</text>
<text transform="translate(500.5 910) scale(1 1.03)" font-size="18" text-anchor="middle" fill="#f04040">-20</text>
<text transform="translate(535.8 914.9) scale(1 1.03)" font-size="18" text-anchor="middle" fill="#f04040">-21</text>
<rect x="384" y="535.1" width="207" height="154.5" fill="#fff"/>
<path d="M384 553.8L384.1 554.9L384.1 554.7L384.2 554.8L384.3 554.9L384.3 556.4L384.4 557.7L384.5 558.6L384.6 557.9L384.6 557.9L384.7 559.7L384.8 561.7L384.8 562.2L384.9 560.7L385 562.6L385 564.9L385.1 564.2L385.2 565.8L385.2 566.1L385.3 566.7L385.4 567.6L385.4 567.2L385.5 568.5L385.6 569.6L385.7 569.5L385.7 569.9L385.8 572.7L385.9 572.2L385.9 573.6L386 573.6L386.1 575.3L386.1 574.9L386.2 575.7L386.3 576.6L386.3 578L386.4 578.2L386.5 579.5L386.6 580.5L386.6 579.9L386.7 581.8L386.8 580.6L386.8 581.7L386.9 584.8L387 583.6L387 585.5L387.1 585.3L387.2 586.1L387.2 588.6L387.3 587.9L387.4 588.7L387.5 588.4L387.5 591L387.6 590.2L387.7 592.5L387.7 592.7L387.8 593.9L387.9 592.8L387.9 594.3L388 593.5L388.1 595.9L388.1 596.5L388.2 597.3L388.3 599.4L388.3 599.7L388.4 599.4L388.5 601.7L388.6 602L388.6 603.1L388.7 603.4L388.8 605L388.8 605.7L388.9 606.3L389 607.3L389 609L389.1 608.3L389.2 611.1L389.2 611.9L389.3 612.9L389.4 611.9L389.5 614L389.5 615.4L389.6 616.5L389.7 616.1L389.7 618.3L389.8 619.5L389.9 618.9L389.9 621.4L390 621.7L390.1 622.4L390.1 623.9L390.2 624.6L390.3 624.5L390.4 627.2L390.4 629L390.5 630.6L390.6 630.5L390.6 631.9L390.7 632.7L390.8 634.7L390.8 636.3L390.9 636.6L391 636.4L391 635.8L391.1 636.3L391.2 635.8L391.2 634.3L391.3 635.5L391.4 637.2L391.5 634.3L391.5 635.4L391.6 636.5L391.7 634.8L391.7 635.5L391.8 636L391.9 635.9L391.9 636.1L392 635.1L392.1 634.2L392.1 635.2L392.2 634.5L392.3 633.2L392.4 635.6L392.4 634.3L392.5 634.6L392.6 635.1L392.6 634.9L392.7 633.9L392.8 633.4L392.8 634L392.9 633.4L393 632.6L393 632.8L393.1 632.1L393.2 632.3L393.2 632.1L393.3 630.7L393.4 631.5L393.5 631.8L393.5 631L393.6 632.2L393.7 631.5L393.7 630.3L393.8 630.2L393.9 629.1L393.9 630.2L394 631.2L394.1 628L394.1 628.5L394.2 630L394.3 627.7L394.4 628.6L394.4 629.8L394.5 628.4L394.6 628.1L394.6 626.1L394.7 627.8L394.8 627L394.8 626.7L394.9 626.5L395 626.6L395 625.3L395.1 624.2L395.2 624.3L395.3 625.3L395.3 625.1L395.4 623.7L395.5 624L395.5 623.6L395.6 624.1L395.7 620.6L395.7 621.2L395.8 622.4L395.9 620.4L395.9 619.6L396 622.4L396.1 620.5L396.1 619.9L396.2 618.7L396.3 618.9L396.4 618.6L396.4 618L396.5 616L396.6 615.3L396.6 617.2L396.7 617.1L396.8 613.6L396.8 616.3L396.9 615.5L397 614.5L397 613.7L397.1 612.8L397.2 612.9L397.3 613.5L397.3 611.9L397.4 611.7L397.5 609.9L397.5 611L397.6 611.7L397.7 611L397.7 608.4L397.8 609.6L397.9 610.5L397.9 608.7L398 607.7L398.1 606.3L398.1 607.7L398.2 605.8L398.3 605.2L398.4 606L398.4 605.1L398.5 602.9L398.6 602.5L398.6 602.7L398.7 602.7L398.8 601.5L398.8 602.1L398.9 601.6L399 601.8L399 600.6L399.1 600.2L399.2 597.2L399.3 599.3L399.3 597.6L399.4 597L399.5 597.8L399.5 596.2L399.6 598.5L399.7 596.1L399.7 595L399.8 597.3L399.9 595.8L399.9 593.4L400 594L400.1 594.3L400.2 593.2L400.2 592.9L400.3 591.3L400.4 591.1L400.4 591.2L400.5 591.1L400.6 590.1L400.6 588.5L400.7 588.8L400.8 588.1L400.8 588.3L400.9 588.8L401 587.9L401 586.3L401.1 586.3L401.2 586.7L401.3 586.9L401.3 585L401.4 585L401.5 584.6L401.5 584.2L401.6 583.3L401.7 582.9L401.7 581.9L401.8 581.5L401.9 580.8L401.9 580.9L402 581.5L402.1 580.9L402.2 580L402.2 580.4L402.3 579.3L402.4 578.4L402.4 579.7L402.5 580.2L402.6 577.3L402.6 578L402.7 577.1L402.8 578.5L402.8 575.6L402.9 576.1L403 576.5L403.1 576.4L403.1 575.7L403.2 575.6L403.3 575.4L403.3 575.9L403.4 573.6L403.5 574.4L403.5 574L403.6 573.7L403.7 575.6L403.7 572.9L403.8 573.3L403.9 573.1L403.9 572.5L404 573.2L404.1 571.4L404.2 572.5L404.2 572.5L404.3 572.2L404.4 571.2L404.4 570.5L404.5 571.4L404.6 572L404.6 569.7L404.7 571.3L404.8 569.2L404.8 570.1L404.9 570.5L405 570.4L405.1 569.3L405.1 568.8L405.2 569.6L405.3 568.5L405.3 567.4L405.4 569.3L405.5 570L405.5 569.8L405.6 570.1L405.7 569.4L405.7 569.4L405.8 569.8L405.9 568.2L405.9 570.8L406 569.7L406.1 566.8L406.2 567.7L406.2 568.1L406.3 568.1L406.4 567L406.4 568.1L406.5 568.5L406.6 569.7L406.6 568.7L406.7 569.3L406.8 569.4L406.8 569.4L406.9 568.9L407 569.2L407.1 568.3L407.1 570.3L407.2 569.4L407.3 567.8L407.3 569.4L407.4 568.6L407.5 568.8L407.5 568.8L407.6 569.4L407.7 571.4L407.7 570.6L407.8 570.9L407.9 572L408 571.3L408 572.2L408.1 572.7L408.2 571.3L408.2 571.8L408.3 572.6L408.4 573L408.4 572.9L408.5 573L408.6 573.3L408.6 573.3L408.7 573.9L408.8 573.5L408.8 573.6L408.9 574.1L409 575.2L409.1 575.5L409.1 574.9L409.2 575.8L409.3 576L409.3 578.4L409.4 578.9L409.5 576.7L409.5 577.1L409.6 576.5L409.7 577.5L409.7 578.3L409.8 578.9L409.9 580.5L410 578.9L410 580.6L410.1 580.1L410.2 580.7L410.2 581.1L410.3 581L410.4 582.6L410.4 583L410.5 583.8L410.6 583.9L410.6 582.6L410.7 584.8L410.8 583.9L410.8 584.7L410.9 585.3L411 585.7L411.1 587.8L411.1 587.1L411.2 586.6L411.3 589L411.3 589L411.4 590L411.5 589.7L411.5 591.4L411.6 589.7L411.7 591.9L411.7 593.4L411.8 591.2L411.9 592.4L412 593.3L412 593.9L412.1 595.2L412.2 595.7L412.2 595.4L412.3 595.8L412.4 596.4L412.4 597.6L412.5 598.7L412.6 599.1L412.6 598.6L412.7 598.9L412.8 601L412.9 601.7L412.9 600.8L413 601.9L413.1 602.5L413.1 604.8L413.2 604.6L413.3 605.4L413.3 605.3L413.4 607.6L413.5 605.7L413.5 607.1L413.6 607.6L413.7 609.6L413.7 609.2L413.8 608.7L413.9 611.8L414 610.8L414 611.1L414.1 612.9L414.2 612.2L414.2 613.8L414.3 613.1L414.4 614.3L414.4 615.2L414.5 614.3L414.6 615.9L414.6 616.1L414.7 618.8L414.8 619L414.9 618.3L414.9 618.9L415 620.3L415.1 620.2L415.1 622.3L415.2 621.9L415.3 623.6L415.3 622.9L415.4 624.2L415.5 625L415.5 624.9L415.6 624L415.7 627L415.8 627.2L415.8 626.4L415.9 628.2L416 626.9L416 628.8L416.1 629.5L416.2 629.8L416.2 629.2L416.3 630.6L416.4 631.3L416.4 632L416.5 634.1L416.6 634.1L416.6 632.6L416.7 633.7L416.8 634.4L416.9 634.8L416.9 636.3L417 636.1L417.1 637.6L417.1 637L417.2 638.4L417.3 638.4L417.3 638.3L417.4 639.5L417.5 639.1L417.5 639.7L417.6 640.2L417.7 639.8L417.8 642.6L417.8 643.1L417.9 641.6L418 641.8L418 641.2L418.1 642.7L418.2 643L418.2 644.8L418.3 643.8L418.4 644.2L418.4 646L418.5 646.2L418.6 645.9L418.6 645.9L418.7 648.9L418.8 646.7L418.9 646.8L418.9 647.5L419 647.4L419.1 647.5L419.1 649L419.2 648L419.3 648.8L419.3 649.6L419.4 648.9L419.5 648L419.5 650.7L419.6 651.1L419.7 651.3L419.8 648.3L419.8 650.4L419.9 650.4L420 651.2L420 651.4L420.1 652.5L420.2 650.7L420.2 650.8L420.3 652.8L420.4 652L420.4 651.9L420.5 651.3L420.6 651.2L420.7 650.5L420.7 650.3L420.8 650.6L420.9 650.4L420.9 652.5L421 652L421.1 650.5L421.1 651.2L421.2 651.4L421.3 653.1L421.3 652.9L421.4 650.7L421.5 650.9L421.5 651.4L421.6 651.4L421.7 652.4L421.8 650.5L421.8 649.8L421.9 649.2L422 650.4L422 650.4L422.1 651L422.2 648.9L422.2 648.3L422.3 650.1L422.4 649.1L422.4 649.1L422.5 649.4L422.6 650.8L422.7 648.8L422.7 647.7L422.8 649.2L422.9 648.4L422.9 650.2L423 646L423.1 646.4L423.1 646.5L423.2 646.5L423.3 646.5L423.3 645.7L423.4 645.5L423.5 645.1L423.6 644.6L423.6 644.1L423.7 642.5L423.8 644.7L423.8 642.8L423.9 643.2L424 643.2L424 643.9L424.1 640.9L424.2 641.9L424.2 641.3L424.3 639.8L424.4 640.7L424.4 639.3L424.5 638.9L424.6 637.7L424.7 637.1L424.7 638.2L424.8 636.2L424.9 636.6L424.9 635.9L425 635.7L425.1 634.3L425.1 635.5L425.2 633.8L425.3 632.5L425.3 633.2L425.4 630.7L425.5 632.5L425.6 631.2L425.6 631.2L425.7 630.8L425.8 630.7L425.8 629.6L425.9 628.7L426 628.8L426 626.8L426.1 625.7L426.2 627.7L426.2 625.1L426.3 625.1L426.4 624.5L426.4 622L426.5 622.5L426.6 622.7L426.7 622.2L426.7 623.6L426.8 620.6L426.9 621.3L426.9 619.9L427 619.4L427.1 618.1L427.1 616.6L427.2 616.9L427.3 616.1L427.3 616.8L427.4 615.7L427.5 614.8L427.6 616.1L427.6 612.6L427.7 614.4L427.8 614.3L427.8 611.2L427.9 610.2L428 612L428 611.4L428.1 607.7L428.2 609.6L428.2 610.8L428.3 609.1L428.4 606.3L428.5 606.9L428.5 606.3L428.6 605.4L428.7 605.3L428.7 605.6L428.8 606.2L428.9 603.9L428.9 604.7L429 603.3L429.1 601.3L429.1 601.8L429.2 601.7L429.3 601.2L429.3 600.2L429.4 599.5L429.5 601L429.6 599.2L429.6 597.5L429.7 597.9L429.8 598.7L429.8 598.2L429.9 599L430 597.5L430 595L430.1 596L430.2 596.3L430.2 595.7L430.3 594.9L430.4 594.6L430.5 594.4L430.5 594.4L430.6 592.9L430.7 591.8L430.7 593.3L430.8 592.9L430.9 591.2L430.9 593.1L431 592.1L431.1 591.7L431.1 590.9L431.2 591.1L431.3 591.4L431.3 590.1L431.4 591.2L431.5 591.4L431.6 591.5L431.6 589L431.7 590.9L431.8 588.9L431.8 588.6L431.9 588.3L432 589L432 589.2L432.1 588.6L432.2 589.1L432.2 589.6L432.3 587.4L432.4 589.2L432.5 586.9L432.5 587.9L432.6 588.8L432.7 588L432.7 587.3L432.8 589.6L432.9 589.2L432.9 589.4L433 588.4L433.1 588.3L433.1 588.7L433.2 589.5L433.3 589.4L433.4 588.1L433.4 588.3L433.5 589.3L433.6 590.7L433.6 589.2L433.7 589.7L433.8 590L433.8 588.9L433.9 589.9L434 591.7L434 592L434.1 590.2L434.2 591.5L434.2 591.3L434.3 592.4L434.4 593.4L434.5 592.7L434.5 591.9L434.6 593.3L434.7 594.9L434.7 594.6L434.8 595.2L434.9 595L434.9 594.7L435 594.3L435.1 596.2L435.1 597.2L435.2 597.3L435.3 597.8L435.4 598.7L435.4 598.8L435.5 599.3L435.6 600.8L435.6 599.9L435.7 601.2L435.8 602.3L435.8 601.6L435.9 602.9L436 601.6L436 603.3L436.1 604.2L436.2 605.5L436.3 605.8L436.3 605.4L436.4 607.3L436.5 606.7L436.5 609.8L436.6 608.5L436.7 608.6L436.7 609.7L436.8 610.6L436.9 610.5L436.9 612.7L437 613.5L437.1 613.3L437.1 613.1L437.2 614.4L437.3 615.7L437.4 615.9L437.4 616.5L437.5 618.7L437.6 620.7L437.6 620L437.7 621.1L437.8 621.1L437.8 622.3L437.9 622.8L438 622.4L438 623.4L438.1 624.3L438.2 623.6L438.3 626.2L438.3 626.8L438.4 626.2L438.5 629L438.5 630.1L438.6 628.4L438.7 630L438.7 630.5L438.8 631.2L438.9 631.7L438.9 633.6L439 634L439.1 635.7L439.1 635.3L439.2 636L439.3 637.3L439.4 637.1L439.4 635.9L439.5 640.1L439.6 639.1L439.6 639.7L439.7 640.3L439.8 642.6L439.8 641.6L439.9 642.7L440 644.1L440 644.9L440.1 645.1L440.2 645.2L440.3 645.8L440.3 645.3L440.4 648.2L440.5 648L440.5 649.5L440.6 649.1L440.7 650.2L440.7 651.4L440.8 652.6L440.9 652.7L440.9 652.4L441 651.9L441.1 653.1L441.2 655.3L441.2 655.2L441.3 655.2L441.4 655.9L441.4 656.2L441.5 656.1L441.6 657L441.6 658.3L441.7 659.8L441.8 658.8L441.8 660.4L441.9 659.5L442 659.5L442 661.3L442.1 660.6L442.2 661.1L442.3 659.5L442.3 661.1L442.4 663.4L442.5 661.7L442.5 662L442.6 662.7L442.7 663.1L442.7 662.5L442.8 662.7L442.9 663.1L442.9 664.5L443 664L443.1 665.2L443.2 665.3L443.2 664.6L443.3 665.1L443.4 664.7L443.4 662.3L443.5 664L443.6 665.2L443.6 666.3L443.7 665.2L443.8 665.6L443.8 666.3L443.9 663.7L444 664.7L444.1 663.8L444.1 661.4L444.2 663.7L444.3 663.7L444.3 663.3L444.4 663.7L444.5 664L444.5 663.2L444.6 661.9L444.7 662.8L444.7 663.5L444.8 663.1L444.9 662.7L444.9 661.5L445 660.8L445.1 660.4L445.2 659.5L445.2 660.3L445.3 659L445.4 659L445.4 658.3L445.5 660L445.6 657L445.6 658.9L445.7 658L445.8 655.9L445.8 656.4L445.9 654.1L446 654.9L446.1 655.4L446.1 653.9L446.2 653.8L446.3 651.5L446.3 650.9L446.4 651L446.5 651.4L446.5 650.4L446.6 648.9L446.7 649.9L446.7 649.2L446.8 647.2L446.9 646.6L446.9 646.7L447 646.1L447.1 646.8L447.2 643.4L447.2 643.8L447.3 644.2L447.4 643.3L447.4 642.3L447.5 639.4L447.6 639.5L447.6 640.5L447.7 637L447.8 636.7L447.8 638L447.9 638.6L448 634.7L448.1 635.3L448.1 634.1L448.2 633.7L448.3 631.4L448.3 630.4L448.4 630.2L448.5 630.2L448.5 629.1L448.6 628L448.7 629.1L448.7 625.9L448.8 626.4L448.9 625.1L449 624.5L449 623L449.1 622.1L449.2 620.4L449.2 621.8L449.3 621.5L449.4 619.9L449.4 619.8L449.5 617.7L449.6 618.4L449.6 616.9L449.7 615.5L449.8 614.7L449.8 614.7L449.9 612.9L450 612.3L450.1 614.2L450.1 611.8L450.2 611.3L450.3 611L450.3 610.7L450.4 609.4L450.5 608.5L450.5 608L450.6 606.5L450.7 606.2L450.7 607L450.8 606.6L450.9 604.7L451 605.5L451 604.2L451.1 603.5L451.2 602.5L451.2 602.5L451.3 601.2L451.4 602.4L451.4 601L451.5 601.8L451.6 600.7L451.6 600.3L451.7 600.9L451.8 602L451.8 598.6L451.9 598.9L452 598.8L452.1 599.2L452.1 598.7L452.2 597.8L452.3 598L452.3 596.8L452.4 597.5L452.5 598.2L452.5 596.9L452.6 597.8L452.7 597L452.7 598.7L452.8 597.4L452.9 596.6L453 597.6L453 597.1L453.1 596.7L453.2 597.2L453.2 595.8L453.3 597.7L453.4 597.7L453.4 597.9L453.5 599.6L453.6 599.4L453.6 597.9L453.7 598.8L453.8 597.6L453.9 599.1L453.9 599.5L454 598.8L454.1 599.8L454.1 599L454.2 601.7L454.3 600.8L454.3 601L454.4 601.6L454.5 601.5L454.5 602.1L454.6 603.4L454.7 604.5L454.7 603.7L454.8 605L454.9 604.8L455 605.1L455 606.7L455.1 608.2L455.2 608.3L455.2 608.1L455.3 609.6L455.4 609.1L455.4 610.8L455.5 611.4L455.6 612.8L455.6 613.1L455.7 612.8L455.8 614.8L455.9 615.6L455.9 616.8L456 616.3L456.1 619.1L456.1 619.2L456.2 618.7L456.3 619.1L456.3 621.4L456.4 621.3L456.5 624.7L456.5 623.2L456.6 624.5L456.7 626.7L456.8 628.1L456.8 628L456.9 628.2L457 629.1L457 630.2L457.1 630.6L457.2 631.6L457.2 634.3L457.3 634.4L457.4 635.5L457.4 635.1L457.5 637.4L457.6 637.1L457.6 638.8L457.7 637.8L457.8 640.8L457.9 641.7L457.9 642.7L458 643.4L458.1 642.4L458.1 645.9L458.2 647.1L458.3 647.4L458.3 647.6L458.4 649.9L458.5 649.3L458.5 650.2L458.6 651.9L458.7 652.8L458.8 654.1L458.8 654.5L458.9 655.8L459 654.9L459 655.3L459.1 657.7L459.2 658.3L459.2 660.7L459.3 660.2L459.4 660.2L459.4 661L459.5 661.8L459.6 661.9L459.6 663.2L459.7 664.2L459.8 663.2L459.9 666.8L459.9 666.7L460 666.9L460.1 667.5L460.1 668L460.2 668.1L460.3 669L460.3 668.9L460.4 668.8L460.5 669.6L460.5 669.9L460.6 671.2L460.7 671.7L460.8 671.3L460.8 670.6L460.9 671.3L461 671L461 671.3L461.1 671.4L461.2 673.2L461.2 671.6L461.3 672.1L461.4 671.1L461.4 672.4L461.5 672.7L461.6 673.1L461.7 672.8L461.7 674.3L461.8 673L461.9 672.8L461.9 671.8L462 673L462.1 672.2L462.1 670.6L462.2 672.3L462.3 670.9L462.3 671.8L462.4 671.1L462.5 670.3L462.5 669.6L462.6 670.4L462.7 670.5L462.8 667.9L462.8 668.6L462.9 667.6L463 667L463 666.6L463.1 666.9L463.2 666.2L463.2 666.8L463.3 664.8L463.4 664.7L463.4 663.6L463.5 661.4L463.6 661.7L463.7 661.5L463.7 661.9L463.8 659.4L463.9 658L463.9 659.2L464 657.3L464.1 657.3L464.1 656.2L464.2 655.5L464.3 655.7L464.3 653.9L464.4 653.9L464.5 650.5L464.5 649.8L464.6 649.7L464.7 648.6L464.8 647.8L464.8 646.7L464.9 645.7L465 645.1L465 644L465.1 644L465.2 642.7L465.2 641.3L465.3 639.7L465.4 639.1L465.4 636.2L465.5 636.9L465.6 636L465.7 634.4L465.7 632.8L465.8 631.1L465.9 630.9L465.9 631.2L466 629.8L466.1 627.8L466.1 627.5L466.2 626L466.3 625.8L466.3 623.4L466.4 622.6L466.5 621.9L466.6 621.8L466.6 622.3L466.7 621.2L466.8 618.9L466.8 617.8L466.9 619.9L467 617L467 614.8L467.1 614.2L467.2 614.6L467.2 612.9L467.3 612.6L467.4 612.1L467.4 610.3L467.5 609.6L467.6 610.3L467.7 610L467.7 609.7L467.8 609.2L467.9 606.3L467.9 605.4L468 606.2L468.1 605L468.1 606L468.2 605.1L468.3 603.9L468.3 604L468.4 603.9L468.5 605L468.6 604.5L468.6 603.4L468.7 603.3L468.8 602.7L468.8 603L468.9 602.5L469 602.2L469 601.8L469.1 602.1L469.2 602.6L469.2 602.4L469.3 601.5L469.4 602.5L469.5 603.3L469.5 603.5L469.6 602.6L469.7 602.6L469.7 602.3L469.8 603.9L469.9 602.8L469.9 604.6L470 604.9L470.1 605.6L470.1 605.2L470.2 605.2L470.3 606.6L470.3 607.6L470.4 609L470.5 608.2L470.6 609.2L470.6 609.8L470.7 610.8L470.8 611.7L470.8 612.1L470.9 612.1L471 612.5L471 614.1L471.1 614.7L471.2 616L471.2 616.8L471.3 618.8L471.4 617.8L471.5 619L471.5 619.3L471.6 622L471.7 622.4L471.7 624.3L471.8 624.4L471.9 625.7L471.9 626.1L472 627.9L472.1 628.3L472.1 630.4L472.2 630.6L472.3 632.4L472.3 633.7L472.4 634.4L472.5 635.3L472.6 637.9L472.6 639.2L472.7 638.9L472.8 640.3L472.8 643L472.9 643.9L473 644.3L473 644.6L473.1 645.8L473.2 646.3L473.2 647.3L473.3 647.4L473.4 651.7L473.5 651.6L473.5 651.8L473.6 654.8L473.7 656L473.7 655.8L473.8 656.1L473.9 656.9L473.9 660.4L474 661L474.1 661L474.1 662.3L474.2 662.5L474.3 663.6L474.4 663.1L474.4 665.5L474.5 666.1L474.6 667L474.6 666.9L474.7 669.5L474.8 669L474.8 670.6L474.9 671.8L475 670.3L475 671.4L475.1 671.2L475.2 672.7L475.2 672.9L475.3 673.7L475.4 673.8L475.5 675L475.5 673.6L475.6 676L475.7 674.1L475.7 675.9L475.8 675.2L475.9 676L475.9 675.8L476 675L476.1 676.2L476.1 677.1L476.2 676L476.3 675.6L476.4 678L476.4 675L476.5 674.7L476.6 676.8L476.6 675.2L476.7 674L476.8 675.3L476.8 674.3L476.9 673.8L477 672.6L477 671.6L477.1 672L477.2 671.3L477.3 669.9L477.3 669.6L477.4 669.4L477.5 667.5L477.5 669L477.6 666.9L477.7 666.6L477.7 665.8L477.8 664.3L477.9 663.5L477.9 660.5L478 661.1L478.1 660.3L478.1 658.2L478.2 657.7L478.3 659L478.4 656.3L478.4 654.7L478.5 654.7L478.6 652.8L478.6 652.2L478.7 650.4L478.8 650.9L478.8 649.9L478.9 647.5L479 645.7L479 643.5L479.1 643.6L479.2 642.8L479.3 640.2L479.3 639.7L479.4 636.9L479.5 637.3L479.5 637.6L479.6 635.4L479.7 634.3L479.7 633.4L479.8 631.7L479.9 630.4L479.9 628.9L480 627.9L480.1 626L480.1 624.8L480.2 623.9L480.3 622.8L480.4 623.4L480.4 622.2L480.5 620.5L480.6 618.5L480.6 618.9L480.7 617.1L480.8 615.6L480.8 613.2L480.9 613.8L481 613.6L481 611.4L481.1 611.4L481.2 611.1L481.3 609.2L481.3 610.2L481.4 608.7L481.5 608.2L481.5 606.9L481.6 608.1L481.7 607.8L481.7 606.6L481.8 606.1L481.9 605.5L481.9 605.6L482 604.7L482.1 604.3L482.2 604.5L482.2 605.5L482.3 603.6L482.4 605.8L482.4 604.7L482.5 603.9L482.6 605.3L482.6 603.8L482.7 603.5L482.8 604.1L482.8 605.4L482.9 605.3L483 606.9L483 606.6L483.1 607.1L483.2 607.9L483.3 608.5L483.3 609.4L483.4 611.5L483.5 610.3L483.5 611.1L483.6 610.4L483.7 612.4L483.7 613.8L483.8 614.1L483.9 615.2L483.9 616.7L484 618.1L484.1 620L484.2 619.8L484.2 619.6L484.3 623.7L484.4 624.1L484.4 623.8L484.5 625.5L484.6 626.6L484.6 629.8L484.7 630L484.8 630.3L484.8 631.6L484.9 633.1L485 635.5L485 635.6L485.1 638.4L485.2 639.6L485.3 641.1L485.3 640.3L485.4 643.2L485.5 644.2L485.5 647.4L485.6 646L485.7 647.9L485.7 651L485.8 652.3L485.9 650.9L485.9 654.4L486 653.3L486.1 656.5L486.2 659.4L486.2 657.6L486.3 659.3L486.4 660.3L486.4 662.5L486.5 663.3L486.6 663.4L486.6 666L486.7 668L486.8 666.5L486.8 668.7L486.9 668L487 670.4L487.1 671.1L487.1 671.7L487.2 674.2L487.3 671.9L487.3 674.1L487.4 674.3L487.5 673.4L487.5 675L487.6 674.8L487.7 675.7L487.7 675.6L487.8 676.3L487.9 675.8L487.9 677.1L488 676.6L488.1 677.7L488.2 676.1L488.2 678.8L488.3 676.7L488.4 676.4L488.4 676.2L488.5 676.2L488.6 674.7L488.6 673.7L488.7 675.5L488.8 676.1L488.8 674.9L488.9 674.1L489 672.8L489.1 672.1L489.1 670.3L489.2 670.8L489.3 669.6L489.3 668.6L489.4 668.5L489.5 667L489.5 663.4L489.6 664.8L489.7 664.4L489.7 664.3L489.8 660.4L489.9 660.3L490 659.3L490 655.5L490.1 655L490.2 656.4L490.2 653.9L490.3 651.4L490.4 650.1L490.4 650.4L490.5 646.5L490.6 645L490.6 646.1L490.7 645.2L490.8 643.4L490.8 640.2L490.9 638.4L491 637.7L491.1 637L491.1 635.1L491.2 633.1L491.3 633.2L491.3 632.2L491.4 629.5L491.5 627L491.5 626.6L491.6 625.3L491.7 624.7L491.7 622.1L491.8 623.2L491.9 620.6L492 619.9L492 618.4L492.1 618L492.2 615.6L492.2 615.3L492.3 614.8L492.4 613L492.4 612.6L492.5 612.2L492.6 611.6L492.6 609.8L492.7 610.6L492.8 609.4L492.8 609L492.9 608.1L493 608.1L493.1 605.8L493.1 608.9L493.2 606.7L493.3 607.1L493.3 606.1L493.4 608.4L493.5 606.1L493.5 608.4L493.6 606.9L493.7 607.3L493.7 608L493.8 609.1L493.9 609.6L494 609.4L494 610.7L494.1 612.3L494.2 612.9L494.2 611.5L494.3 612.3L494.4 613.4L494.4 614.7L494.5 615.5L494.6 616.4L494.6 617.7L494.7 619.7L494.8 620.9L494.9 622.4L494.9 622.6L495 624.9L495.1 625.5L495.1 625.6L495.2 628.5L495.3 628.8L495.3 629.8L495.4 634.1L495.5 635.3L495.5 635.2L495.6 637.8L495.7 638.3L495.7 639.7L495.8 642.3L495.9 642.7L496 643.5L496 645.7L496.1 648.9L496.2 649.8L496.2 651.7L496.3 651.4L496.4 654.4L496.4 656.3L496.5 657.1L496.6 658.1L496.6 660.3L496.7 661.2L496.8 662.6L496.9 663.3L496.9 664.3L497 666.1L497.1 667.9L497.1 668.2L497.2 670.4L497.3 669.7L497.3 671.2L497.4 672.1L497.5 675.2L497.5 671.9L497.6 673.3L497.7 674.1L497.7 675.6L497.8 675.6L497.9 674.1L498 677.4L498 676.4L498.1 676.7L498.2 677.2L498.2 677L498.3 678.1L498.4 676.6L498.4 678L498.5 675.1L498.6 675.6L498.6 676.6L498.7 677.1L498.8 674.7L498.9 673.7L498.9 674.2L499 671.2L499.1 671.5L499.1 671.2L499.2 671L499.3 668.8L499.3 667.8L499.4 665.9L499.5 664.3L499.5 663.9L499.6 662.2L499.7 660L499.8 659.3L499.8 658.6L499.9 656.3L500 655.8L500 653.4L500.1 652.2L500.2 651.5L500.2 648.5L500.3 647.3L500.4 645.1L500.4 645.2L500.5 641.4L500.6 639.7L500.6 639.3L500.7 637.5L500.8 635.7L500.9 634.2L500.9 631.8L501 631.6L501.1 630.4L501.1 628.1L501.2 624.8L501.3 625.3L501.3 624.4L501.4 623L501.5 620.8L501.5 618.7L501.6 619.1L501.7 617.2L501.8 616.1L501.8 614.9L501.9 614.2L502 612.5L502 612.1L502.1 612.4L502.2 609.2L502.2 611.9L502.3 611.3L502.4 608.9L502.4 609.4L502.5 609.5L502.6 609L502.7 608.5L502.7 609.5L502.8 609.7L502.9 610.3L502.9 610.4L503 610.7L503.1 609.6L503.1 610.8L503.2 611.2L503.3 612.9L503.3 612.3L503.4 615.4L503.5 614.6L503.5 615.4L503.6 617.6L503.7 619.2L503.8 619.1L503.8 621.4L503.9 622.9L504 623.6L504 626L504.1 626.7L504.2 626.4L504.2 630.1L504.3 630.6L504.4 633.9L504.4 634.7L504.5 636.7L504.6 638.4L504.7 639.3L504.7 639.9L504.8 643.6L504.9 644.2L504.9 646.8L505 648.2L505.1 651L505.1 652.9L505.2 654.2L505.3 656.4L505.3 657.4L505.4 659.9L505.5 660.6L505.5 661.9L505.6 662L505.7 663.5L505.8 665.9L505.8 668L505.9 668.3L506 669.3L506 671.2L506.1 672.8L506.2 674.5L506.2 673.8L506.3 672.9L506.4 675.4L506.4 675.4L506.5 675.9L506.6 676.2L506.7 676.2L506.7 678.7L506.8 677.2L506.9 676.8L506.9 677.1L507 675.7L507.1 676.8L507.1 675.2L507.2 674L507.3 675.1L507.3 674.2L507.4 673.6L507.5 671.8L507.6 673.3L507.6 671.7L507.7 669.6L507.8 667.4L507.8 666.3L507.9 666.1L508 662.6L508 662.4L508.1 661.4L508.2 658.8L508.2 656.5L508.3 656L508.4 655.5L508.4 652.9L508.5 650.5L508.6 647.9L508.7 647.7L508.7 644.8L508.8 644.2L508.9 641.2L508.9 640.6L509 638L509.1 637.1L509.1 634.8L509.2 633.5L509.3 632.1L509.3 627.7L509.4 626.1L509.5 625.1L509.6 624.3L509.6 621.3L509.7 621.4L509.8 619.4L509.8 617.6L509.9 617.2L510 615.1L510 615.5L510.1 614.6L510.2 613.6L510.2 614L510.3 613.3L510.4 611.3L510.5 613L510.5 610.4L510.6 611L510.7 610.2L510.7 610.7L510.8 611L510.9 610.4L510.9 612.4L511 613L511.1 612.6L511.1 614.9L511.2 614.3L511.3 615.6L511.3 617.7L511.4 619.5L511.5 621.4L511.6 619.5L511.6 623.8L511.7 625.1L511.8 624.9L511.8 626.9L511.9 628.8L512 630.7L512 633L512.1 635.2L512.2 637L512.2 637.8L512.3 639.3L512.4 641.2L512.5 644.2L512.5 648.1L512.6 647.7L512.7 650.3L512.7 654.4L512.8 652.8L512.9 655.7L512.9 657.7L513 659.3L513.1 661.1L513.1 662.7L513.2 664.4L513.3 666L513.3 667L513.4 668.6L513.5 668.1L513.6 671.2L513.6 672.8L513.7 673.9L513.8 673.9L513.8 674.9L513.9 675.4L514 676.3L514 676.7L514.1 676.1L514.2 675.8L514.2 676.7L514.3 676.9L514.4 677.6L514.5 677.3L514.5 675.8L514.6 675.4L514.7 674.6L514.7 674.6L514.8 672.8L514.9 673.3L514.9 671.5L515 670L515.1 667.4L515.1 667L515.2 665.8L515.3 663.1L515.4 661.8L515.4 659.1L515.5 657.8L515.6 656.1L515.6 654.5L515.7 651.9L515.8 651.1L515.8 649.8L515.9 645.7L516 644.9L516 642.5L516.1 640L516.2 637.8L516.2 639.2L516.3 635.7L516.4 632L516.5 632.7L516.5 629.1L516.6 628.2L516.7 627.1L516.7 625L516.8 625L516.9 621.9L516.9 620.1L517 621.3L517.1 619.7L517.1 617.3L517.2 617.3L517.3 617.3L517.4 615.4L517.4 617.8L517.5 616.4L517.6 616.1L517.6 616.5L517.7 615.9L517.8 618.3L517.8 617.4L517.9 618.8L518 617.9L518 618.9L518.1 621.5L518.2 623L518.2 623.4L518.3 625.4L518.4 626.7L518.5 627.4L518.5 629.9L518.6 629.7L518.7 633L518.7 635.4L518.8 637.9L518.9 639.4L518.9 640L519 642.6L519.1 643.9L519.1 646.1L519.2 648.8L519.3 652L519.4 653.6L519.4 655.5L519.5 658.9L519.6 659.2L519.6 662.2L519.7 663.2L519.8 665.3L519.8 666.1L519.9 665.9L520 670.6L520 670.9L520.1 670.4L520.2 674L520.3 674.4L520.3 675.1L520.4 675.4L520.5 677.6L520.5 676.4L520.6 676.4L520.7 674.8L520.7 677L520.8 677.3L520.9 676.3L520.9 678.1L521 675L521.1 673.2L521.1 673.6L521.2 672.5L521.3 671.5L521.4 669.9L521.4 669.6L521.5 665.7L521.6 665.8L521.6 664L521.7 660.4L521.8 659.9L521.8 658.3L521.9 654.5L522 653.7L522 651L522.1 650.2L522.2 649.1L522.3 645.3L522.3 642.1L522.4 641.7L522.5 639L522.5 636.7L522.6 635.2L522.7 633.5L522.7 631.2L522.8 630L522.9 629.1L522.9 626.3L523 625.2L523.1 624.4L523.2 623.1L523.2 625.1L523.3 621.9L523.4 621.5L523.4 622.8L523.5 619L523.6 620.4L523.6 621.1L523.7 621.3L523.8 621.1L523.8 621.9L523.9 623.9L524 623.8L524 624L524.1 625L524.2 626.1L524.3 629.2L524.3 630.3L524.4 631.1L524.5 633.7L524.5 634.9L524.6 637.7L524.7 638.5L524.7 641L524.8 642.6L524.9 645.2L524.9 648.1L525 650.6L525.1 651.7L525.2 654.4L525.2 657.2L525.3 658.5L525.4 659.3L525.4 660.9L525.5 663.1L525.6 664.3L525.6 667.4L525.7 668.8L525.8 670.8L525.8 671.9L525.9 671L526 673L526 673.6L526.1 672.6L526.2 673.6L526.3 676.3L526.3 674.8L526.4 676.2L526.5 674.5L526.5 676.6L526.6 675.2L526.7 674.5L526.7 671.1L526.8 673.2L526.9 669.6L526.9 668.3L527 667.6L527.1 665.4L527.2 662.2L527.2 662.4L527.3 660.9L527.4 657.6L527.4 656L527.5 655.6L527.6 652.4L527.6 650.2L527.7 649.3L527.8 647L527.8 644.7L527.9 643.1L528 639.7L528.1 638L528.1 638.3L528.2 635L528.3 633L528.3 632.8L528.4 630.5L528.5 628.8L528.5 629.5L528.6 627.4L528.7 628.5L528.7 625.3L528.8 626.2L528.9 626.6L528.9 627L529 627L529.1 624.9L529.2 627.3L529.2 627.8L529.3 628.6L529.4 630.6L529.4 629.9L529.5 634.1L529.6 632.7L529.6 635.8L529.7 636.9L529.8 638.5L529.8 640L529.9 643.8L530 644.3L530.1 647L530.1 649.3L530.2 651.6L530.3 652.5L530.3 655.2L530.4 656.6L530.5 658.9L530.5 663.3L530.6 663.6L530.7 664.4L530.7 667.6L530.8 669.8L530.9 671.7L530.9 669.2L531 672.7L531.1 672.6L531.2 674.3L531.2 673.5L531.3 672.7L531.4 675.5L531.4 674.2L531.5 674.5L531.6 675L531.6 673.4L531.7 671.8L531.8 669.7L531.8 668.4L531.9 668.2L532 668.1L532.1 664.4L532.1 663.3L532.2 661.4L532.3 660.4L532.3 657.6L532.4 653.7L532.5 652L532.5 650L532.6 648.5L532.7 647.3L532.7 644.9L532.8 642.8L532.9 640.7L533 639.5L533 638.3L533.1 635L533.2 634.9L533.2 632.6L533.3 632.4L533.4 630.7L533.4 630.1L533.5 629.4L533.6 629.2L533.6 630.5L533.7 630.9L533.8 630.1L533.8 629.1L533.9 632L534 632.9L534.1 631.2L534.1 635.8L534.2 636.4L534.3 637.8L534.3 639.8L534.4 641.6L534.5 642L534.5 644.8L534.6 646.9L534.7 650.6L534.7 650.6L534.8 653.3L534.9 655.5L535 657L535 659.4L535.1 661.7L535.2 663.2L535.2 665.9L535.3 667.6L535.4 669.5L535.4 668.7L535.5 671.2L535.6 671.4L535.6 671.3L535.7 671.2L535.8 673.4L535.9 673L535.9 672.9L536 673.8L536.1 672.5L536.1 668.9L536.2 670.4L536.3 667.6L536.3 667.2L536.4 664.8L536.5 663.5L536.5 662.7L536.6 662.1L536.7 657.9L536.7 656.5L536.8 654.6L536.9 652.2L537 651.5L537 648.7L537.1 646.8L537.2 646.2L537.2 644.1L537.3 641.4L537.4 641.7L537.4 637.7L537.5 636.4L537.6 636.1L537.6 634.9L537.7 636.1L537.8 633.9L537.9 633.2L537.9 633.4L538 633.3L538.1 634.6L538.1 633.5L538.2 635.8L538.3 636.5L538.3 637.6L538.4 640.6L538.5 642.6L538.5 642.7L538.6 646.3L538.7 647.7L538.7 648.4L538.8 652.3L538.9 654.3L539 656.7L539 658.6L539.1 658.1L539.2 661.2L539.2 662.7L539.3 666.9L539.4 668.9L539.4 669.2L539.5 668.6L539.6 669.5L539.6 673L539.7 673.4L539.8 671.7L539.9 672.2L539.9 671.9L540 671.3L540.1 672.2L540.1 670.4L540.2 669.8L540.3 667.2L540.3 667.2L540.4 667L540.5 662.6L540.5 660.3L540.6 659.1L540.7 658.2L540.8 656.7L540.8 653L540.9 652.3L541 649.4L541 647.2L541.1 646.2L541.2 646.1L541.2 642.4L541.3 642.3L541.4 641.6L541.4 639.3L541.5 638.4L541.6 638L541.6 637.1L541.7 639.3L541.8 637.3L541.9 636.8L541.9 639L542 640.3L542.1 641.1L542.1 641.2L542.2 644L542.3 646.1L542.3 648.7L542.4 648L542.5 649.9L542.5 653.2L542.6 653.5L542.7 657.7L542.8 658.8L542.8 662.5L542.9 664.1L543 665L543 666.1L543.1 667.4L543.2 669.9L543.2 670.6L543.3 671L543.4 671.6L543.4 671.9L543.5 670.9L543.6 670.4L543.7 672.5L543.7 669L543.8 669L543.9 667.7L543.9 666.3L544 664.2L544.1 662.7L544.1 662.8L544.2 658.8L544.3 658.6L544.3 655.3L544.4 653.5L544.5 653L544.5 649.8L544.6 648.3L544.7 647.1L544.8 643.3L544.8 643.6L544.9 643L545 640.4L545 641.4L545.1 641.1L545.2 642.7L545.2 640.7L545.3 640.8L545.4 640.8L545.4 644.2L545.5 643.7L545.6 644.8L545.7 646.9L545.7 649.3L545.8 652.6L545.9 652.9L545.9 655.6L546 658.6L546.1 658.6L546.1 661.1L546.2 663.1L546.3 662.9L546.3 666.6L546.4 669.4L546.5 670.7L546.5 669.3L546.6 670.6L546.7 671.5L546.8 672.8L546.8 671.6L546.9 671.5L547 670L547 669.8L547.1 668.7L547.2 666.6L547.2 665.8L547.3 663.1L547.4 664.6L547.4 660.8L547.5 656.8L547.6 655.7L547.7 654.9L547.7 652.3L547.8 651L547.9 649.2L547.9 646.2L548 646.6L548.1 645.1L548.1 645.3L548.2 644.8L548.3 645.3L548.3 644.6L548.4 644.8L548.5 645.4L548.6 646L548.6 647.1L548.7 647.9L548.8 650.2L548.8 650.6L548.9 653.1L549 654.3L549 657.5L549.1 658.3L549.2 661.1L549.2 664.4L549.3 664.7L549.4 666.3L549.4 668.7L549.5 669.4L549.6 669.9L549.7 668L549.7 670L549.8 668.7L549.9 669.1L549.9 668.4L550 667.8L550.1 668.7L550.1 665L550.2 665.5L550.3 662.6L550.3 661.3L550.4 658L550.5 656.5L550.6 654.1L550.6 653.5L550.7 652.2L550.8 650.1L550.8 647.3L550.9 647.8L551 647.3L551 647.8L551.1 647.1L551.2 646.5L551.2 646.1L551.3 646.7L551.4 648.1L551.4 649L551.5 649.1L551.6 650.4L551.7 652.6L551.7 654.1L551.8 656.1L551.9 657.5L551.9 662L552 663.1L552.1 664.1L552.1 665.4L552.2 665.9L552.3 669.6L552.3 668.7L552.4 669.1L552.5 670.1L552.6 669.5L552.6 668.1L552.7 667.9L552.8 667.4L552.8 666L552.9 664.9L553 662.4L553 661.6L553.1 658.9L553.2 658.5L553.2 656.3L553.3 655.6L553.4 653.2L553.5 651L553.5 651.4L553.6 650L553.7 648.9L553.7 649L553.8 648L553.9 650L553.9 648.8L554 649.2L554.1 650L554.1 652.8L554.2 655L554.3 657.3L554.3 657.1L554.4 658.7L554.5 660.9L554.6 662.5L554.6 663.8L554.7 666L554.8 668.1L554.8 669L554.9 669.1L555 669.5L555 670.1L555.1 668.8L555.2 668.7L555.2 666.4L555.3 665.9L555.4 663.9L555.5 664.2L555.5 662.4L555.6 661.2L555.7 657.9L555.7 653.9L555.8 654.9L555.9 654.1L555.9 652.4L556 651.7L556.1 650.2L556.1 650.7L556.2 651.4L556.3 652.6L556.4 651.3L556.4 651.6L556.5 653.4L556.6 655.6L556.6 656.7L556.7 658.2L556.8 659L556.8 661.2L556.9 661.7L557 664.3L557 665.9L557.1 664.8L557.2 668L557.2 668.3L557.3 666.1L557.4 667.5L557.5 665.8L557.5 668.7L557.6 664.6L557.7 664.5L557.7 663L557.8 661.2L557.9 662.5L557.9 659.4L558 656.8L558.1 653L558.1 655.3L558.2 651.7L558.3 652.5L558.4 651.7L558.4 653.3L558.5 652.2L558.6 654L558.6 655L558.7 653.9L558.8 656.8L558.8 658L558.9 658.5L559 661.2L559 663.1L559.1 663.2L559.2 664.3L559.2 664.3L559.3 667.3L559.4 666.2L559.5 666.4L559.5 667.3L559.6 666.6L559.7 665.8L559.7 665.8L559.8 664.9L559.9 661.9L559.9 662.1L560 660.6L560.1 657.8L560.1 657.7L560.2 656.5L560.3 656.5L560.4 655.7L560.4 655.5L560.5 655.4L560.6 653.4L560.6 655.8L560.7 657.8L560.8 657.7L560.8 657.4L560.9 660.2L561 660.6L561 662.7L561.1 664.6L561.2 664.7L561.3 666L561.3 665.6L561.4 665.6L561.5 666.3L561.5 663.8L561.6 666.6L561.7 663.8L561.7 663.7L561.8 661.8L561.9 661.4L561.9 662.5L562 659.7L562.1 657.4L562.1 657.4L562.2 657.8L562.3 656.6L562.4 655.6L562.4 654.9L562.5 656.7L562.6 656.7L562.6 658.4L562.7 659.5L562.8 660L562.8 659.6L562.9 661.3L563 663.2L563 663.9L563.1 664.2L563.2 665.3L563.3 665.9L563.3 665.8L563.4 664.8L563.5 665.2L563.5 663.6L563.6 665L563.7 663.1L563.7 661.7L563.8 659.8L563.9 660.2L563.9 659L564 657.6L564.1 657.5L564.2 657.8L564.2 657.5L564.3 658.4L564.4 657.5L564.4 658.5L564.5 659.1L564.6 658.9L564.6 660.9L564.7 662.5L564.8 663.9L564.8 662.7L564.9 664.9L565 665.6L565 664.4L565.1 664.9L565.2 665L565.3 663.7L565.3 661.6L565.4 662.1L565.5 660.9L565.5 661.1L565.6 659.8L565.7 658L565.7 658.3L565.8 657.9L565.9 657.1L565.9 658.7L566 657.6L566.1 660.2L566.2 661.2L566.2 662.2L566.3 663.8L566.4 663L566.4 664.3L566.5 663.7L566.6 665.9L566.6 664.8L566.7 664.1L566.8 665.1L566.8 664.4L566.9 665.6L567 660.9L567 661.8L567.1 660.2L567.2 660.5L567.3 659.1L567.3 660L567.4 658.3L567.5 659L567.5 659.9L567.6 659.8L567.7 662.5L567.7 661.7L567.8 663.2L567.9 662.5L567.9 663.8L568 665.2L568.1 665.6L568.2 662.9L568.2 666.1L568.3 663.2L568.4 663.4L568.4 662.7L568.5 664.2L568.6 661L568.6 661.4L568.7 661.1L568.8 659.5L568.8 660.5L568.9 659.5L569 661.2L569.1 660.5L569.1 661.3L569.2 663.3L569.3 664.2L569.3 664.8L569.4 665.3L569.5 665.8L569.5 663.9L569.6 665L569.7 665.4L569.7 664.8L569.8 664.6L569.9 662.9L569.9 662.4L570 662.2L570.1 661.7L570.2 661.1L570.2 661.6L570.3 660.8L570.4 662L570.4 661.3L570.5 662.8L570.6 662.8L570.6 664.5L570.7 666.2L570.8 666.2L570.8 665.5L570.9 664.9L571 664.6L571.1 664L571.1 663.2L571.2 662.7L571.3 661.9L571.3 661.8L571.4 660.6L571.5 660.9L571.5 660.8L571.6 660.8L571.7 659.4L571.7 663.3L571.8 663.1L571.9 663.7L571.9 663.8L572 664.6L572.1 663.5L572.2 666.2L572.2 663.1L572.3 665.2L572.4 664.1L572.4 662.3L572.5 661.9L572.6 661.4L572.6 660.9L572.7 660.4L572.8 659.9L572.8 660.7L572.9 662.7L573 662.9L573.1 661.8L573.1 662L573.2 663.4L573.3 663.6L573.3 664.3L573.4 662.6L573.5 664.3L573.5 663.5L573.6 663.1L573.7 660.4L573.7 661.6L573.8 660.4L573.9 661.9L574 662.1L574 660.4L574.1 661.3L574.2 661.8L574.2 663.1L574.3 664L574.4 664.5L574.4 665.2L574.5 664.4L574.6 662.5L574.6 663.1L574.7 663.4L574.8 661.8L574.8 661.9L574.9 661.7L575 660.8L575.1 661.6L575.1 662.5L575.2 660.8L575.3 661.3L575.3 663.2L575.4 662.5L575.5 664.3L575.5 663.8L575.6 662.3L575.7 662.6L575.7 661.5L575.8 663.9L575.9 660.8L576 661.1L576 660.8L576.1 662.3L576.2 662.2L576.2 661.6L576.3 662.3L576.4 662.6L576.4 662.9L576.5 662.7L576.6 663.1L576.6 663.1L576.7 662.8L576.8 662L576.9 661.9L576.9 661.6L577 660.8L577.1 662.9L577.1 662.5L577.2 662.7L577.3 662.2L577.3 662.2L577.4 663.1L577.5 663.4L577.5 663.4L577.6 661.6L577.7 661.3L577.7 661.9L577.8 660.9L577.9 660.4L578 660.1L578 661.5L578.1 660.5L578.2 661.3L578.2 663.1L578.3 663.2L578.4 663.8L578.4 663.5L578.5 662L578.6 660.5L578.6 659.9L578.7 660.6L578.8 661L578.9 661.4L578.9 660.9L579 662.2L579.1 661.7L579.1 662.8L579.2 662.5L579.3 663.1L579.3 660.5L579.4 660.8L579.5 661.1L579.5 661.6L579.6 660.2L579.7 660.2L579.7 662.2L579.8 661.7L579.9 660.5L580 662.5L580 663.1L580.1 662.1L580.2 660.6L580.2 662L580.3 661.5L580.4 661.1L580.4 660.8L580.5 660.1L580.6 661.3L580.6 664L580.7 662.2L580.8 662.5L580.9 662.2L580.9 662.2L581 662L581.1 660.9L581.1 661.6L581.2 662.4L581.3 661.5L581.3 662.6L581.4 660.9L581.5 662.8L581.5 661.6L581.6 663.9L581.7 663.4L581.8 661.5L581.8 662.8L581.9 661.6L582 662.8L582 661.2L582.1 663.6L582.2 662.8L582.2 664.5L582.3 662.6L582.4 661.7L582.4 662L582.5 662.4L582.6 660.9L582.6 660.5L582.7 661.1L582.8 661.2L582.9 661.2L582.9 662.9L583 663.3L583.1 663.2L583.1 662.1L583.2 661.8L583.3 661.8L583.3 661.3L583.4 660.4L583.5 663.3L583.5 663.5L583.6 663.5L583.7 663.8L583.8 661.5L583.8 662L583.9 661L584 662.9L584 661.6L584.1 662.8L584.2 664.4L584.2 662.6L584.3 662.2L584.4 662.3L584.4 661.5L584.5 662.4L584.6 660.9L584.6 662.4L584.7 662.4L584.8 662.8L584.9 662.9L584.9 663.6L585 662.1L585.1 661.7L585.1 660.7L585.2 662.7L585.3 661.8L585.3 662.8L585.4 663.4L585.5 661.6L585.5 661.9L585.6 662.5L585.7 661.6L585.8 662.7L585.8 663.6L585.9 663.7L586 663.9L586 661.8L586.1 662L586.2 664.2L586.2 662L586.3 662.8L586.4 663L586.4 663.3L586.5 663.5L586.6 662.8L586.7 663.2L586.7 660.9L586.8 662.2L586.9 661.5L586.9 663.3L587 663.2L587.1 664.3L587.1 661.9L587.2 662L587.3 662.4L587.3 662.2L587.4 662.8L587.5 665L587.5 664.2L587.6 663.9L587.7 661.7L587.8 662L587.8 663.1L587.9 663.9L588 663.8L588 665.6L588.1 663.1L588.2 661.1L588.2 663.5L588.3 663.8L588.4 664.5L588.4 663.4L588.5 664.1L588.6 661.2L588.7 662.5L588.7 663L588.8 664.2L588.9 663.2L588.9 662.8L589 663L589.1 661.4L589.1 661.4L589.2 662.8L589.3 663.7L589.3 664.3L589.4 663.1L589.5 662.9L589.6 661.3L589.6 662.5L589.7 663.9L589.8 664.2L589.8 663L589.9 661.8L590 662.4L590 662.4L590.1 664.3L590.2 663.7L590.2 662.7L590.3 662.5L590.4 662.5L590.4 662.7L590.5 664L590.6 662.9L590.7 663.4L590.7 662.3L590.8 663.6L590.9 664.2L590.9 663.5L591 662.2" fill="none" stroke="#0a0a8c" stroke-width="2" stroke-linejoin="round"/>
<line x1="384" y1="535.1" x2="592" y2="535.1" stroke="#000" stroke-width="2"/>
<line x1="384" y1="689.6" x2="592" y2="689.6" stroke="#000" stroke-width="2"/>
<line x1="591" y1="535.1" x2="591" y2="690.6" stroke="#000" stroke-width="2"/>
<line x1="384" y1="534.1" x2="384" y2="690.6" stroke="#0a0a9a" stroke-width="2"/>
<line x1="381" y1="688.9" x2="384" y2="688.9" stroke="#0a0a9a" stroke-width="1.6"/>
<line x1="381.5" y1="654.95" x2="384" y2="654.95" stroke="#0a0a9a" stroke-width="1.6"/>
<line x1="381" y1="621" x2="384" y2="621" stroke="#0a0a9a" stroke-width="1.6"/>
<line x1="381.5" y1="587.05" x2="384" y2="587.05" stroke="#0a0a9a" stroke-width="1.6"/>
<line x1="381" y1="553.1" x2="384" y2="553.1" stroke="#0a0a9a" stroke-width="1.6"/>
<text transform="translate(377 694.8) scale(1 1.03)" font-size="19" text-anchor="end" fill="#0a0a9a">0</text>
<text transform="translate(377 628.8) scale(1 1.03)" font-size="19" text-anchor="end" fill="#0a0a9a">20</text>
<text transform="translate(377 554.7) scale(1 1.03)" font-size="19" text-anchor="end" fill="#0a0a9a">40</text>
<line x1="384" y1="689.6" x2="384" y2="692.6" stroke="#000" stroke-width="1.4"/>
<line x1="412.75" y1="689.6" x2="412.75" y2="691.6" stroke="#000" stroke-width="1.4"/>
<line x1="441.5" y1="689.6" x2="441.5" y2="692.6" stroke="#000" stroke-width="1.4"/>
<line x1="470.25" y1="689.6" x2="470.25" y2="691.6" stroke="#000" stroke-width="1.4"/>
<line x1="499" y1="689.6" x2="499" y2="692.6" stroke="#000" stroke-width="1.4"/>
<line x1="527.75" y1="689.6" x2="527.75" y2="691.6" stroke="#000" stroke-width="1.4"/>
<line x1="556.5" y1="689.6" x2="556.5" y2="692.6" stroke="#000" stroke-width="1.4"/>
<line x1="585.25" y1="689.6" x2="585.25" y2="691.6" stroke="#000" stroke-width="1.4"/>
<text transform="translate(382.5 708.8) scale(1 1.03)" font-size="18.5" text-anchor="middle">-2.0</text>
<text transform="translate(440 708.8) scale(1 1.03)" font-size="18.5" text-anchor="middle">-1.5</text>
<text transform="translate(497.5 708.8) scale(1 1.03)" font-size="18.5" text-anchor="middle">-1.0</text>
<text transform="translate(555 708.8) scale(1 1.03)" font-size="18.5" text-anchor="middle">-0.5</text>
<text transform="translate(467.4 729) scale(1 1.03)" font-size="19"><tspan font-weight="bold">B</tspan> (T)</text>
<text transform="translate(343.8 642) rotate(-90) scale(1 1.03)" font-size="20" fill="#0a0a9a"><tspan font-style="italic">R</tspan><tspan font-size="13" dy="6.5">xx</tspan><tspan dy="-6.5"> (Ω)</tspan></text>
<line x1="95" y1="523.3" x2="613.5" y2="523.3" stroke="#000" stroke-width="2"/>
<line x1="95" y1="929.5" x2="613.5" y2="929.5" stroke="#000" stroke-width="2"/>
<line x1="96" y1="523.3" x2="96" y2="929.5" stroke="#0a0a8c" stroke-width="2.2"/>
<line x1="612.5" y1="523.3" x2="612.5" y2="930.5" stroke="#f04040" stroke-width="2.2"/>
<line x1="87.5" y1="903.1" x2="96" y2="903.1" stroke="#0a0a8c" stroke-width="2"/>
<text transform="translate(80.6 909.6) scale(1 1.03)" font-size="26" text-anchor="end" fill="#0a0a8c">0</text>
<line x1="87.5" y1="811.15" x2="96" y2="811.15" stroke="#0a0a8c" stroke-width="2"/>
<text transform="translate(80.6 817.65) scale(1 1.03)" font-size="26" text-anchor="end" fill="#0a0a8c">20</text>
<line x1="87.5" y1="719.2" x2="96" y2="719.2" stroke="#0a0a8c" stroke-width="2"/>
<text transform="translate(80.6 725.7) scale(1 1.03)" font-size="26" text-anchor="end" fill="#0a0a8c">40</text>
<line x1="87.5" y1="627.25" x2="96" y2="627.25" stroke="#0a0a8c" stroke-width="2"/>
<text transform="translate(80.6 633.75) scale(1 1.03)" font-size="26" text-anchor="end" fill="#0a0a8c">60</text>
<line x1="87.5" y1="535.3" x2="96" y2="535.3" stroke="#0a0a8c" stroke-width="2"/>
<text transform="translate(80.6 541.8) scale(1 1.03)" font-size="26" text-anchor="end" fill="#0a0a8c">80</text>
<line x1="612.5" y1="930.9" x2="617.5" y2="930.9" stroke="#f04040" stroke-width="2"/>
<line x1="612.5" y1="800.9" x2="621" y2="800.9" stroke="#f04040" stroke-width="2"/>
<text transform="translate(627.5 810.2) scale(1 1.03)" font-size="26" fill="#f04040">400</text>
<line x1="612.5" y1="670.9" x2="617.5" y2="670.9" stroke="#f04040" stroke-width="2"/>
<line x1="612.5" y1="540.9" x2="621" y2="540.9" stroke="#f04040" stroke-width="2"/>
<text transform="translate(627.5 550.2) scale(1 1.03)" font-size="26" fill="#f04040">800</text>
<line x1="96" y1="929.5" x2="96" y2="934" stroke="#000" stroke-width="2"/>
<line x1="153.39" y1="929.5" x2="153.39" y2="937.5" stroke="#000" stroke-width="2"/>
<text transform="translate(153.39 965.5) scale(1 1.03)" font-size="26" text-anchor="middle">-6</text>
<line x1="210.78" y1="929.5" x2="210.78" y2="934" stroke="#000" stroke-width="2"/>
<line x1="268.17" y1="929.5" x2="268.17" y2="937.5" stroke="#000" stroke-width="2"/>
<text transform="translate(268.17 965.5) scale(1 1.03)" font-size="26" text-anchor="middle">-5</text>
<line x1="325.56" y1="929.5" x2="325.56" y2="934" stroke="#000" stroke-width="2"/>
<line x1="382.95" y1="929.5" x2="382.95" y2="937.5" stroke="#000" stroke-width="2"/>
<text transform="translate(382.95 965.5) scale(1 1.03)" font-size="26" text-anchor="middle">-4</text>
<line x1="440.34" y1="929.5" x2="440.34" y2="934" stroke="#000" stroke-width="2"/>
<line x1="497.73" y1="929.5" x2="497.73" y2="937.5" stroke="#000" stroke-width="2"/>
<text transform="translate(497.73 965.5) scale(1 1.03)" font-size="26" text-anchor="middle">-3</text>
<line x1="555.12" y1="929.5" x2="555.12" y2="934" stroke="#000" stroke-width="2"/>
<line x1="612.51" y1="929.5" x2="612.51" y2="937.5" stroke="#000" stroke-width="2"/>
<text transform="translate(612.51 965.5) scale(1 1.03)" font-size="26" text-anchor="middle">-2</text>
<text transform="translate(334.5 993) scale(1 1.03)" font-size="26"><tspan font-weight="bold">B</tspan> (T)</text>
<text transform="translate(34.3 758.5) rotate(-90) scale(1 1.03)" font-size="26.5" fill="#0a0a8c"><tspan font-style="italic">R</tspan><tspan font-size="15.5" x="16.5" dy="8.7" font-style="italic">xx</tspan><tspan x="35.2" dy="-8.7" font-size="23.5">(Ω)</tspan></text>
<text transform="translate(672.6 763.5) rotate(-90) scale(1 1.03)" font-size="26.5" fill="#ff1010"><tspan font-style="italic">R</tspan><tspan font-size="16" x="17" dy="8.7">xy</tspan><tspan x="35.6" dy="-8.7" font-size="23.5">(Ω)</tspan></text>
<text transform="translate(703.5 527.8) scale(1 1.03)" font-size="45" font-weight="bold">d</text>
<path d="M791 601L791.3 601.1L791.7 600.9L792 600.7L792.4 600.8L792.7 600.6L793.1 601L793.4 601.5L793.7 600.8L794.1 600.8L794.4 601.2L794.8 601.1L795.1 601L795.5 600.7L795.8 601L796.1 601.3L796.5 600.5L796.8 600.9L797.2 600.3L797.5 600.6L797.8 600.4L798.2 600.9L798.5 600.6L798.9 601.1L799.2 601.1L799.6 601L799.9 600.1L800.2 600.8L800.6 601L800.9 601.1L801.3 600.5L801.6 600.9L802 600.7L802.3 600.8L802.6 601.4L803 600.8L803.3 601L803.7 601.4L804 600.8L804.4 601L804.7 601.1L805 601.1L805.4 600.6L805.7 601.1L806.1 601.5L806.4 600.5L806.8 601.4L807.1 601.1L807.4 600.8L807.8 601.8L808.1 601.3L808.5 600.6L808.8 601.1L809.2 601.3L809.5 601L809.8 601.3L810.2 601L810.5 601.3L810.9 601.6L811.2 600.8L811.5 601.1L811.9 600.9L812.2 601.1L812.6 600.7L812.9 600.9L813.3 601L813.6 601.4L813.9 601.5L814.3 600.6L814.6 600.8L815 601.3L815.3 600.4L815.7 600.9L816 601L816.3 601.5L816.7 601.3L817 601L817.4 600.9L817.7 601L818.1 601.6L818.4 600.9L818.7 601L819.1 601.2L819.4 601L819.8 601L820.1 600.7L820.5 601.1L820.8 600.9L821.1 601.5L821.5 601.3L821.8 601L822.2 601.3L822.5 600.9L822.8 601.4L823.2 601L823.5 601.2L823.9 600.6L824.2 601.1L824.6 600.4L824.9 600.3L825.2 600.9L825.6 600.7L825.9 601L826.3 601.8L826.6 600.7L827 600.7L827.3 601L827.6 601.1L828 600.8L828.3 600.8L828.7 601.1L829 601L829.4 600.4L829.7 600.7L830 600.7L830.4 600.3L830.7 600.7L831.1 600.3L831.4 600.9L831.8 600.5L832.1 600.4L832.4 600L832.8 600L833.1 599L833.5 599L833.8 599L834.2 597.4L834.5 597.5L834.8 595.3L835.2 594.5L835.5 591.9L835.9 590.2L836.2 587.4L836.5 584.1L836.9 582.5L837.2 580.3L837.6 578.3L837.9 577.7L838.3 578.3L838.6 579.5L838.9 582.5L839.3 584.5L839.6 587.4L840 589.7L840.3 592.1L840.7 593.9L841 596.4L841.3 597.2L841.7 598.5L842 598.9L842.4 599.2L842.7 599.7L843.1 599.9L843.4 600.3L843.7 600.3L844.1 600.4L844.4 600.1L844.8 600.4L845.1 601.3L845.5 600.5L845.8 600.4L846.1 601L846.5 601.4L846.8 600.4L847.2 600.9L847.5 600.8L847.8 600.4L848.2 601.3L848.5 601L848.9 601.1L849.2 600.8L849.6 601.3L849.9 600.9L850.2 601.1L850.6 600.7L850.9 600.7L851.3 601.6L851.6 601L852 601.3L852.3 601.2L852.6 601L853 601L853.3 601.4L853.7 601.1L854 601.2L854.4 601.2L854.7 601.7L855 601.5L855.4 601.4L855.7 601.1L856.1 600.8L856.4 601.6L856.8 601.6L857.1 601.2L857.4 601.5L857.8 601.6L858.1 601.6L858.5 601.6L858.8 601.1L859.2 601.8L859.5 600.9L859.8 601.6L860.2 601.5L860.5 601.6L860.9 602L861.2 601.9L861.5 600.9L861.9 600.7L862.2 601.6L862.6 601L862.9 601.3L863.3 601.6L863.6 600.8L863.9 600.6L864.3 601.5L864.6 601.4L865 601.3L865.3 601.4L865.7 601.1L866 600.8L866.3 601.3L866.7 601L867 600.8L867.4 601.6L867.7 601.4L868.1 601.5L868.4 601L868.7 601.2L869.1 601L869.4 601.1L869.8 601.5L870.1 601.1L870.5 601.5L870.8 601.5L871.1 602.1L871.5 600.9L871.8 601.7L872.2 601.4L872.5 601.4L872.8 600.9L873.2 601.3L873.5 601.7L873.9 601.4L874.2 601.5L874.6 601.3L874.9 601.8L875.2 601.4L875.6 600.7L875.9 601.2L876.3 600.7L876.6 600.3L877 601.2L877.3 601.9L877.6 601.5L878 601L878.3 601.1L878.7 601.8L879 601.5L879.4 601.5L879.7 601.4L880 601.5L880.4 601.7L880.7 601.6L881.1 601.5L881.4 601.1L881.8 601.6L882.1 601.2L882.4 601.8L882.8 601L883.1 601.4L883.5 601.4L883.8 601L884.2 602L884.5 601.9L884.8 601.3L885.2 601.7L885.5 601.6L885.9 600.5L886.2 601.5L886.5 601.4L886.9 601.4L887.2 601L887.6 601.3L887.9 601.3L888.3 601.8L888.6 601.5L888.9 601.4L889.3 601.9L889.6 601.2L890 601.2L890.3 600.7L890.7 601.9L891 601.6L891.3 601.6L891.7 601.5L892 601.2L892.4 601.2L892.7 601L893.1 600.9L893.4 600.9L893.7 601.3L894.1 600.8L894.4 600.4L894.8 600L895.1 599.8L895.5 600.3L895.8 599.5L896.1 599L896.5 598.4L896.8 597.7L897.2 597.6L897.5 597.4L897.9 596.4L898.2 596L898.5 595.5L898.9 595.3L899.2 594.4L899.6 594.6L899.9 594.3L900.2 595L900.6 594.6L900.9 595.4L901.3 596.1L901.6 595.9L902 596.3L902.3 597.1L902.6 597.5L903 597.7L903.3 598.6L903.7 599.6L904 599.2L904.4 599.6L904.7 599.6L905 600.4L905.4 600L905.7 600.3L906.1 601.3L906.4 600.6L906.8 601.4L907.1 601.7L907.4 601.3L907.8 601.5L908.1 602L908.5 601.3L908.8 601.2L909.2 600.9L909.5 601.5L909.8 602L910.2 601.8L910.5 601.2L910.9 601.2L911.2 601.3L911.5 601.6L911.9 601.5L912.2 601.6L912.6 601.7L912.9 601.5L913.3 601.6L913.6 601.7L913.9 601.6L914.3 601.8L914.6 602.3L915 601.8L915.3 601.6L915.7 601L916 601.8L916.3 601L916.7 601.1L917 601.9L917.4 601.9L917.7 601.6L918.1 601.1L918.4 601.5L918.7 601.4L919.1 601.9L919.4 602.5L919.8 601.8L920.1 601.4L920.5 601.3L920.8 601.7L921.1 601.6L921.5 601.3L921.8 601.7L922.2 601.3L922.5 602.1L922.9 602.1L923.2 602.1L923.5 601.6L923.9 601.9L924.2 601.7L924.6 601.6L924.9 601.6L925.2 601.3L925.6 601.2L925.9 602L926.3 601.7L926.6 601.8L927 602.1L927.3 601.2L927.6 601.5L928 601.8L928.3 601.9L928.7 601.6L929 602.1L929.4 601.8L929.7 601.4L930 601.5L930.4 602.1L930.7 601.9L931.1 601.1L931.4 602.3L931.8 602L932.1 602.3L932.4 601.7L932.8 601.7L933.1 601.4L933.5 602.7L933.8 601.7L934.2 602.4L934.5 601.6L934.8 601.9L935.2 601.2L935.5 601.7L935.9 602.2L936.2 601.4L936.5 602.2L936.9 601.9L937.2 601.5L937.6 601.7L937.9 601.7L938.3 601.8L938.6 601.7L938.9 601.6L939.3 601.7L939.6 601.5L940 601.4L940.3 601.8L940.7 602.2L941 601.3L941.3 601.9L941.7 601.6L942 601.5L942.4 602.2L942.7 601.7L943.1 602.4L943.4 601.6L943.7 602L944.1 601.8L944.4 601.6L944.8 602.1L945.1 601.8L945.5 602.1L945.8 601.9L946.1 601.5L946.5 601.9L946.8 601.9L947.2 602.2L947.5 601.6L947.9 601.9L948.2 601.3L948.5 602.1L948.9 601.5L949.2 601.3L949.6 601.9L949.9 602.3L950.2 601.4L950.6 601.5L950.9 601.7L951.3 601.5L951.6 602.1L952 601.6L952.3 601.7L952.6 602.1L953 601.7L953.3 602.1L953.7 601.6L954 601.5L954.4 601.3L954.7 602.6L955 601.8L955.4 602L955.7 601.9L956.1 602L956.4 602L956.8 602.6L957.1 601.6L957.4 601.4L957.8 601.6L958.1 601.5L958.5 602.2L958.8 602.3L959.2 601.6L959.5 601.5L959.8 601.8L960.2 602.5L960.5 601L960.9 602.2L961.2 601.6L961.5 602.3L961.9 601.6L962.2 601.9L962.6 601.5L962.9 601.6L963.3 602.5L963.6 602.3L963.9 601.9L964.3 601.7L964.6 601.3L965 601.9L965.3 602L965.7 602L966 602L966.3 601.6L966.7 602L967 602L967.4 602.5L967.7 602.7L968.1 602L968.4 601.8L968.7 602L969.1 601.8L969.4 601.8L969.8 602L970.1 601.7L970.5 602.2L970.8 602L971.1 602.1L971.5 602L971.8 601.8L972.2 601.7L972.5 602L972.9 601.9L973.2 602.1L973.5 602.1L973.9 601.6L974.2 602.1L974.6 601.6L974.9 601.8L975.2 602L975.6 601.3L975.9 602.1L976.3 602.1L976.6 602L977 601.9L977.3 601.9L977.6 601.7L978 602L978.3 601.9L978.7 602.1L979 601.7L979.4 602.2L979.7 602.1L980 602L980.4 601.9L980.7 602.3L981.1 601.5L981.4 602.3L981.8 602.2L982.1 602.2L982.4 602.2L982.8 601.9L983.1 602L983.5 602.3L983.8 602.3L984.2 602.2L984.5 601.6L984.8 602.3L985.2 602.5L985.5 602.5L985.9 602.2L986.2 601.6L986.5 602.5L986.9 602.1L987.2 601.3L987.6 602.3L987.9 601.6L988.3 601.7L988.6 601.9L988.9 602.6L989.3 602L989.6 602.2L990 602.8L990.3 602.7L990.7 602.1L991 602.1L991.3 601.7L991.7 601.9L992 602.3L992.4 602.3L992.7 602.2L993.1 602.5L993.4 601.9L993.7 602.2L994.1 602.4L994.4 602.4L994.8 602.6L995.1 602.3L995.5 602.1L995.8 602.3L996.1 601.8L996.5 601.6L996.8 602.4L997.2 602.2L997.5 602.3L997.9 601.6L998.2 602.1L998.5 602L998.9 601.9L999.2 601.4L999.6 602.1L999.9 602.5L1000.2 602.3L1000.6 602L1000.9 602.2L1001.3 602.5L1001.6 601.3L1002 602.2L1002.3 602.4L1002.6 602.5L1003 602.8L1003.3 602.6L1003.7 602.3L1004 602.3L1004.4 602.5L1004.7 602.1L1005 602.2L1005.4 602.6L1005.7 602.9L1006.1 602.2L1006.4 602.2L1006.8 602.3L1007.1 602.7L1007.4 602.2L1007.8 602.8L1008.1 601.9L1008.5 602.2L1008.8 602.2L1009.2 602.5L1009.5 602.6L1009.8 601.7L1010.2 602L1010.5 602.4L1010.9 602L1011.2 601.7L1011.5 602.6L1011.9 602.5L1012.2 602.5L1012.6 602.1L1012.9 602.6L1013.3 602.2L1013.6 602.7L1013.9 602L1014.3 602L1014.6 602.4L1015 602.1L1015.3 602.5L1015.7 602.4L1016 602L1016.3 602.3L1016.7 602.2L1017 602.6L1017.4 602.1L1017.7 602.2L1018.1 602.7L1018.4 603.1L1018.7 603L1019.1 602.3L1019.4 602.4L1019.8 602.9L1020.1 602.3L1020.5 602L1020.8 602.4L1021.1 602.5L1021.5 602L1021.8 601.8L1022.2 601.8L1022.5 602.6L1022.9 602.1L1023.2 602.3L1023.5 602.4L1023.9 602.6L1024.2 602.2L1024.6 602.5L1024.9 602L1025.2 602.2L1025.6 602L1025.9 602.8L1026.3 602.4L1026.6 602.1L1027 602.2L1027.3 602.3L1027.6 602.6L1028 601.8L1028.3 602L1028.7 602.2L1029 603.3L1029.4 602.7L1029.7 602.3L1030 602.6L1030.4 603.1L1030.7 602.3L1031.1 602.3L1031.4 602.8L1031.8 602.6L1032.1 602.6L1032.4 602.2L1032.8 603.1L1033.1 603L1033.5 602.6L1033.8 602.6L1034.2 601.7L1034.5 602.6L1034.8 602.3L1035.2 602.6L1035.5 602.7L1035.9 602.3L1036.2 601.8L1036.5 602.6L1036.9 602.2L1037.2 602.3L1037.6 602.2L1037.9 602.3L1038.3 601.6L1038.6 602.9L1038.9 602.5L1039.3 602.8L1039.6 603.1L1040 602.5L1040.3 601.8L1040.7 602.1L1041 602L1041.3 602.3L1041.7 602.5L1042 601.8L1042.4 602.6L1042.7 601.9L1043.1 602.6L1043.4 602.4L1043.7 602.4L1044.1 602.4L1044.4 602.3L1044.8 602.3L1045.1 601.9L1045.5 602.5L1045.8 603.1L1046.1 603.2L1046.5 602.9L1046.8 602.7L1047.2 602.2L1047.5 603L1047.9 602.5L1048.2 602.5L1048.5 602.4L1048.9 602.5L1049.2 602.3L1049.6 602.5L1049.9 602.1L1050.2 602.4L1050.6 603.3L1050.9 602.5L1051.3 602.4L1051.6 602.7L1052 602.8L1052.3 602.1L1052.6 602.4L1053 602.8L1053.3 602.6L1053.7 602.6L1054 603.1L1054.4 602.3L1054.7 602.6L1055 602.3L1055.4 603.1L1055.7 601.9L1056.1 602.3L1056.4 602.4L1056.8 602.8L1057.1 602.8L1057.4 603L1057.8 602L1058.1 602.8L1058.5 602.4L1058.8 602.3L1059.2 602.7L1059.5 602.2L1059.8 601.8L1060.2 602.4L1060.5 602L1060.9 602.3L1061.2 602.7L1061.5 602.7L1061.9 603.1L1062.2 602.5L1062.6 602L1062.9 602.3L1063.3 602.3L1063.6 602.2L1063.9 602.7L1064.3 602.4L1064.6 601.9L1065 602.8L1065.3 602.5L1065.7 602.7L1066 602.6L1066.3 602.8L1066.7 602.6L1067 603L1067.4 602.7L1067.7 602.7L1068.1 602.7L1068.4 602.1L1068.7 602.5L1069.1 602.5L1069.4 602.7L1069.8 602.1L1070.1 603.2L1070.5 602.7L1070.8 602.2L1071.1 602L1071.5 602.5L1071.8 602.6L1072.2 602.4L1072.5 602.7L1072.9 602.4L1073.2 602.8L1073.5 602.4L1073.9 602.6L1074.2 603L1074.6 603.5L1074.9 602.3L1075.2 602.5L1075.6 602.4L1075.9 602.9L1076.3 602.2L1076.6 602.5L1077 602.6L1077.3 602.3L1077.6 602.3L1078 602.5L1078.3 601.9L1078.7 602.2L1079 602.5L1079.4 602.7L1079.7 602.6L1080 602L1080.4 602.5L1080.7 603L1081.1 602.9L1081.4 602.7L1081.8 602.4L1082.1 602.9L1082.4 602.5L1082.8 602.3L1083.1 602.4L1083.5 603.2L1083.8 602.8L1084.2 603.1L1084.5 602.5L1084.8 603L1085.2 602.5L1085.5 602.6L1085.9 603.6L1086.2 603L1086.6 602.5L1086.9 602.7L1087.2 602.8L1087.6 603.1L1087.9 602.5L1088.3 602.1L1088.6 602.6L1088.9 602.7L1089.3 602.8L1089.6 603.2L1090 602.8L1090.3 603L1090.7 602.3L1091 603L1091.3 603.5L1091.7 603L1092 602.8L1092.4 602.8L1092.7 603.4L1093.1 602.4L1093.4 602.7L1093.7 602.9L1094.1 603L1094.4 602.6L1094.8 602.9L1095.1 602.7L1095.5 602.8L1095.8 602.7L1096.1 602.4L1096.5 602.8L1096.8 603.1L1097.2 602.4L1097.5 602.7L1097.9 603L1098.2 602.4L1098.5 602.8L1098.9 602.4L1099.2 603.2L1099.6 603.6L1099.9 603.5L1100.2 602.7L1100.6 603L1100.9 602.8L1101.3 602.8L1101.6 603.3L1102 602.3L1102.3 603.2L1102.6 602.8L1103 603.3L1103.3 602.9L1103.7 602.6L1104 602.9L1104.4 603.1L1104.7 602.8L1105 603L1105.4 602.6L1105.7 602.1L1106.1 603.1L1106.4 603.1L1106.8 602.9L1107.1 602.8L1107.4 603.2L1107.8 602.7L1108.1 602.6L1108.5 602.8L1108.8 603.2L1109.2 602.3L1109.5 603.2L1109.8 602.6L1110.2 602.4L1110.5 603.3L1110.9 602.8L1111.2 602.4L1111.6 602.7L1111.9 603.2L1112.2 603.3L1112.6 602.7L1112.9 603L1113.3 603.1L1113.6 602.6L1113.9 603L1114.3 602.8L1114.6 602.7L1115 602.7L1115.3 602.9L1115.7 602.9L1116 602.7L1116.3 602.7L1116.7 603.3L1117 602.9L1117.4 603.2L1117.7 603.3L1118.1 603.1L1118.4 603.7L1118.7 602.6L1119.1 603.2L1119.4 602.8L1119.8 603.5L1120.1 603.5L1120.5 602.2L1120.8 602.5L1121.1 603.1L1121.5 603.2L1121.8 603.1L1122.2 602.9L1122.5 603L1122.9 603.1L1123.2 602.9L1123.5 603.3L1123.9 602.1L1124.2 603.1L1124.6 602.5L1124.9 603.2L1125.2 602.8L1125.6 602.6L1125.9 603L1126.3 602.6L1126.6 602.6L1127 602.4L1127.3 602.9L1127.6 603.1L1128 603.3L1128.3 602.9L1128.7 603.3L1129 602.9L1129.4 602.9L1129.7 603.1L1130 603.3L1130.4 602.8L1130.7 602.8L1131.1 602.9L1131.4 602.9L1131.8 602.6L1132.1 603.3L1132.4 602.8L1132.8 603.1L1133.1 602.6L1133.5 603L1133.8 603L1134.2 602.8L1134.5 603.6L1134.8 603L1135.2 603.5L1135.5 603.2L1135.9 602.7L1136.2 602.8L1136.6 603L1136.9 602.9L1137.2 602.9L1137.6 602.8L1137.9 602.2L1138.3 602.8L1138.6 602L1138.9 602.9L1139.3 602.5L1139.6 602.5L1140 602.7L1140.3 602.8L1140.7 602.2L1141 602L1141.3 602.2L1141.7 601.8L1142 602.1L1142.4 602.9L1142.7 601.9L1143.1 602.5L1143.4 601.7L1143.7 602.2L1144.1 601.9L1144.4 601.9L1144.8 602L1145.1 602.4L1145.5 601.7L1145.8 601.6L1146.1 601.2L1146.5 601.7L1146.8 601.4L1147.2 601.7L1147.5 601.4L1147.9 602L1148.2 600.8L1148.5 601.4L1148.9 601.9L1149.2 601.5L1149.6 601.4L1149.9 601.7L1150.2 601.4L1150.6 602L1150.9 602.9L1151.3 602.5L1151.6 601.8L1152 602L1152.3 602.2L1152.6 602.8L1153 602.2L1153.3 602.3L1153.7 602.9L1154 603L1154.4 602.6L1154.7 602.4L1155 602.2L1155.4 602.6L1155.7 602.1L1156.1 603.1L1156.4 602.7L1156.8 603.1L1157.1 603.6L1157.4 603.4L1157.8 602.5L1158.1 603.3L1158.5 603.4L1158.8 602.7L1159.2 602.7L1159.5 603L1159.8 602.4L1160.2 603.5L1160.5 602.2L1160.9 602.6L1161.2 602.9L1161.6 602.9L1161.9 603.1L1162.2 603.1L1162.6 602.9L1162.9 603.4L1163.3 602.3L1163.6 603L1163.9 602.8L1164.3 603.1L1164.6 603.1L1165 602.7L1165.3 602.8L1165.7 603.3L1166 603.2L1166.3 602.8L1166.7 603.8L1167 603.9L1167.4 602.5L1167.7 603.1L1168.1 603.9L1168.4 603.3L1168.7 603.1L1169.1 603L1169.4 602.9L1169.8 603L1170.1 602.9L1170.5 603.3L1170.8 602.9L1171.1 602.9L1171.5 602.6L1171.8 603L1172.2 602.7L1172.5 603L1172.9 603.4L1173.2 603.2L1173.5 603.2L1173.9 603.2L1174.2 603.1L1174.6 603L1174.9 602.9L1175.2 603.3L1175.6 602.7L1175.9 603.5L1176.3 603L1176.6 602.8L1177 602.9L1177.3 602.8L1177.6 603.1L1178 602.8L1178.3 603.4L1178.7 602.7L1179 602.2L1179.4 602.8L1179.7 602.3L1180 603L1180.4 603.4L1180.7 603.2L1181.1 602.5L1181.4 602.7L1181.8 603.6L1182.1 603.1L1182.4 603L1182.8 603.3L1183.1 603.8L1183.5 603.4L1183.8 603L1184.2 603.1L1184.5 603.2L1184.8 602.7L1185.2 602.6L1185.5 602.9L1185.9 602.6L1186.2 602.9L1186.6 602.9L1186.9 603.7L1187.2 602.6L1187.6 602.8L1187.9 602.8L1188.3 603L1188.6 603.2L1188.9 602.7L1189.3 602.5L1189.6 602.2L1190 602.5L1190.3 603L1190.7 602.8L1191 602.4L1191.3 602.6L1191.7 602.7L1192 602.9L1192.4 602.5L1192.7 602.6L1193.1 602L1193.4 602.2L1193.7 603.1L1194.1 601.8L1194.4 602.4L1194.8 602.6L1195.1 602.3L1195.5 602.1L1195.8 602.4L1196.1 602.3L1196.5 602.3L1196.8 601.6L1197.2 602.2L1197.5 601.9L1197.9 601.9L1198.2 602.1L1198.5 602.2L1198.9 602.2L1199.2 601.7L1199.6 602.1L1199.9 602.1L1200.2 601.9L1200.6 601.9L1200.9 601.2L1201.3 601L1201.6 601.2L1202 600.1L1202.3 600.4L1202.6 599.8L1203 599.4L1203.3 598.5L1203.7 598.2L1204 597.8L1204.4 597.3L1204.7 596.3L1205 594.8L1205.4 593.4L1205.7 591.7L1206.1 590.4L1206.4 588.3L1206.8 586.5L1207.1 584.5L1207.4 581.4L1207.8 578.2L1208.1 575.6L1208.5 572.5L1208.8 569.6L1209.2 567.5L1209.5 564.2L1209.8 560.9L1210.2 559.2L1210.5 557.3L1210.9 555L1211.2 553.8L1211.6 553.4L1211.9 553.7L1212.2 554.5L1212.6 556L1212.9 557.9L1213.3 560.1L1213.6 562.7L1213.9 565.2L1214.3 567.4L1214.6 570.9L1215 574L1215.3 576.7L1215.7 579.9L1216 582.1L1216.3 584.4L1216.7 587.5L1217 589.3L1217.4 591L1217.7 592.9L1218.1 594.4L1218.4 595.4L1218.7 595.5L1219.1 597.1L1219.4 597.9L1219.8 598.4L1220.1 599.4L1220.5 600.2L1220.8 600L1221.1 600.1L1221.5 601.5L1221.8 600.9L1222.2 600.8L1222.5 601.5L1222.9 601.7L1223.2 601.5L1223.5 602.1L1223.9 601.7L1224.2 601.7L1224.6 602.1L1224.9 602.4L1225.2 602L1225.6 602.4L1225.9 602.3L1226.3 603.4L1226.6 602.2L1227 603L1227.3 602.5L1227.6 602.5L1228 602.9L1228.3 603L1228.7 603.1L1229 602.9L1229.4 602.6L1229.7 602.6L1230 603L1230.4 603.1L1230.7 603.4L1231.1 603.1L1231.4 603.3L1231.8 603.5L1232.1 603L1232.4 602.5L1232.8 602.6L1233.1 602.5L1233.5 603.6L1233.8 602.8L1234.2 603.5L1234.5 603.3L1234.8 603.7L1235.2 603.5L1235.5 603.1L1235.9 603.1L1236.2 603.2L1236.6 603.3L1236.9 603L1237.2 603.2L1237.6 603.8L1237.9 602.6L1238.3 603.3L1238.6 602.9L1238.9 603.3L1239.3 603.6L1239.6 603.3L1240 603.6L1240.3 602.8L1240.7 603.7L1241 603.1L1241.3 603.6L1241.7 603.4L1242 602.5L1242.4 603.1L1242.7 603.5L1243.1 603.9L1243.4 603.5L1243.7 603.5L1244.1 602.9L1244.4 603.9L1244.8 604L1245.1 603.4L1245.5 603.4L1245.8 602.9L1246.1 603.8L1246.5 604.4L1246.8 603.7L1247.2 603.9L1247.5 603.7L1247.9 603.1L1248.2 603.9L1248.5 603.1L1248.9 603.4L1249.2 603.6L1249.6 603.8L1249.9 603.7L1250.3 603.6L1250.6 603.2L1250.9 603.1L1251.3 603.5L1251.6 603.3L1252 603.1L1252.3 603.1L1252.6 603.4L1253 602.9L1253.3 603.1L1253.7 603L1254 603.6L1254.4 603.7L1254.7 604.3L1255 603L1255.4 603.3L1255.7 603.9L1256.1 603.5L1256.4 603.5L1256.8 604.2L1257.1 603.5L1257.4 603.2L1257.8 603.1L1258.1 603.7L1258.5 603.7L1258.8 603.1L1259.2 603.3L1259.5 603.8L1259.8 603.8L1260.2 603.4L1260.5 603.9L1260.9 603.8L1261.2 603L1261.6 603.5L1261.9 603.8L1262.2 603.5L1262.6 602.9L1262.9 603.6L1263.3 603.9L1263.6 604.2L1263.9 602.9L1264.3 604.6L1264.6 603.3L1265 604L1265.3 604.1L1265.7 604L1266 603.7L1266.3 603.3L1266.7 603.9L1267 603.4L1267.4 602.8L1267.7 604.7L1268.1 604L1268.4 604.3L1268.7 603.4L1269.1 604.2L1269.4 604.3L1269.8 604.3L1270.1 603.7L1270.5 603.3L1270.8 603.7L1271.1 603L1271.5 603.1L1271.8 603.8L1272.2 603.4L1272.5 603.7L1272.9 603.7L1273.2 604.4L1273.5 604.2L1273.9 603.7L1274.2 604.2L1274.6 603.5L1274.9 603.6L1275.3 604.1L1275.6 603.3L1275.9 603.7L1276.3 603.3L1276.6 603.8L1277 604.3L1277.3 603.5L1277.6 603.9L1278 603.5L1278.3 603.4L1278.7 603.4L1279 604.3L1279.4 604.6L1279.7 604L1280 603.6L1280.4 604.1L1280.7 603.7L1281.1 604.1L1281.4 603.9L1281.8 603.9L1282.1 604L1282.4 603.6L1282.8 603.7L1283.1 603.2L1283.5 603.7L1283.8 603.3L1284.2 603.8L1284.5 603.5L1284.8 603.9L1285.2 604L1285.5 603.3L1285.9 603.6L1286.2 603.5L1286.6 604.1L1286.9 604.4L1287.2 604.2L1287.6 603.7L1287.9 604.4L1288.3 603.3L1288.6 604.4L1288.9 603.6L1289.3 602.9L1289.6 604.8L1290 604.4L1290.3 603.5L1290.7 603.9L1291 603.8L1291.3 603.9L1291.7 603.4L1292 603.6L1292.4 604.1L1292.7 604L1293.1 604.3L1293.4 603.9L1293.7 604.7L1294.1 603.7L1294.4 604L1294.8 603.2L1295.1 603.5L1295.5 604.4L1295.8 603.6L1296.1 604.1L1296.5 603.9L1296.8 603.6L1297.2 603.8L1297.5 603.7L1297.9 603.8L1298.2 604.2L1298.5 604.2L1298.9 603.7L1299.2 603.6L1299.6 604L1299.9 603.9L1300.3 604.3L1300.6 604.9L1300.9 604.2L1301.3 603.9L1301.6 603.9L1302 603.7L1302.3 603.6L1302.6 603.6L1303 603.8L1303.3 603.8L1303.7 604.2L1304 603.8L1304.4 603.9" fill="none" stroke="#e36ef0" stroke-width="1.8" stroke-linejoin="round"/>
<path d="M791 656.5L791.3 657.5L791.7 657.1L792 657.5L792.4 657.2L792.7 657.4L793.1 656.8L793.4 657.1L793.7 657.8L794.1 656.5L794.4 657.3L794.8 657.5L795.1 657.1L795.5 657.2L795.8 657.4L796.1 656.7L796.5 657.1L796.8 656.6L797.2 656.7L797.5 656.7L797.8 656.9L798.2 657L798.5 657.1L798.9 656.4L799.2 657.6L799.6 657.3L799.9 657.2L800.2 656.8L800.6 656.9L800.9 657.1L801.3 657.1L801.6 656.3L802 657.2L802.3 658L802.6 656.3L803 657.3L803.3 657.1L803.7 656.9L804 657.4L804.4 656.5L804.7 657L805 657.5L805.4 656.9L805.7 656.8L806.1 657L806.4 656.8L806.8 657.5L807.1 656.6L807.4 657.3L807.8 656.5L808.1 657.2L808.5 656.9L808.8 656L809.2 657L809.5 656.6L809.8 656.8L810.2 657.5L810.5 656.6L810.9 656.6L811.2 657.5L811.5 657L811.9 657.5L812.2 657.1L812.6 656.7L812.9 657L813.3 657.4L813.6 657.3L813.9 657L814.3 657L814.6 656.9L815 656.8L815.3 657.7L815.7 657L816 656.6L816.3 656.8L816.7 657.2L817 657.2L817.4 656.9L817.7 656.7L818.1 657L818.4 656.4L818.7 656.5L819.1 657.3L819.4 656.8L819.8 657.1L820.1 657.4L820.5 657.2L820.8 657L821.1 657.7L821.5 657.2L821.8 656.8L822.2 657.2L822.5 657.1L822.8 656.6L823.2 657L823.5 656.9L823.9 656.2L824.2 656.9L824.6 656.8L824.9 656.8L825.2 656.3L825.6 656.8L825.9 656.9L826.3 656.9L826.6 656.5L827 657.1L827.3 656.4L827.6 656.8L828 657.3L828.3 656.6L828.7 656.6L829 657.1L829.4 656.6L829.7 656.6L830 656.8L830.4 657L830.7 655.8L831.1 656.2L831.4 656.1L831.8 656L832.1 656L832.4 655.9L832.8 656.1L833.1 655.4L833.5 655.5L833.8 655.1L834.2 654L834.5 653.4L834.8 652.8L835.2 650.8L835.5 648.6L835.9 646.7L836.2 644L836.5 641.9L836.9 639.7L837.2 637.1L837.6 635.9L837.9 635.9L838.3 635.8L838.6 637.5L838.9 639.1L839.3 641.6L839.6 644.2L840 647.5L840.3 648.8L840.7 650.6L841 652.1L841.3 653.4L841.7 654.6L842 655.1L842.4 656.2L842.7 655.9L843.1 656.6L843.4 656.3L843.7 656.6L844.1 656L844.4 656.5L844.8 656.6L845.1 656.6L845.5 656L845.8 657.1L846.1 656.7L846.5 656.7L846.8 656.8L847.2 656.8L847.5 657.1L847.8 656.5L848.2 656.6L848.5 657.1L848.9 657L849.2 656.9L849.6 656.8L849.9 656.7L850.2 657L850.6 657.5L850.9 656.7L851.3 657.6L851.6 657.4L852 656.9L852.3 657.4L852.6 656.6L853 656.5L853.3 656.7L853.7 657L854 657L854.4 657L854.7 657.2L855 656.4L855.4 657.4L855.7 656.7L856.1 657L856.4 657.1L856.8 656.8L857.1 656.7L857.4 656.9L857.8 657.2L858.1 657.4L858.5 657.4L858.8 656.9L859.2 657L859.5 656.9L859.8 657.4L860.2 656.5L860.5 657.7L860.9 657.1L861.2 657L861.5 657.4L861.9 657.6L862.2 657.4L862.6 657.6L862.9 657.3L863.3 657.7L863.6 657.7L863.9 657.2L864.3 657.8L864.6 657.3L865 657.3L865.3 657L865.7 657.2L866 657.6L866.3 656.8L866.7 657.5L867 657.4L867.4 657.4L867.7 656.5L868.1 657.3L868.4 657.5L868.7 657L869.1 657.3L869.4 656.5L869.8 657.6L870.1 657.1L870.5 657.6L870.8 656.7L871.1 657.6L871.5 657.2L871.8 657.6L872.2 657L872.5 657.1L872.8 658.1L873.2 657.1L873.5 657.1L873.9 657.2L874.2 657L874.6 657.8L874.9 658L875.2 657.1L875.6 656.7L875.9 657.8L876.3 657.7L876.6 657.6L877 657.8L877.3 657.1L877.6 657.3L878 656.9L878.3 656.9L878.7 657.7L879 657.1L879.4 658.2L879.7 657.4L880 657.1L880.4 657.6L880.7 658L881.1 657.5L881.4 656.9L881.8 657.5L882.1 657.9L882.4 657.2L882.8 657.1L883.1 657.7L883.5 657.4L883.8 657L884.2 657.2L884.5 657.1L884.8 657.5L885.2 657.4L885.5 657.8L885.9 657.6L886.2 656.8L886.5 657.5L886.9 657.7L887.2 657.5L887.6 657.7L887.9 657.1L888.3 657L888.6 657.7L888.9 656.9L889.3 656.6L889.6 657.7L890 657L890.3 657.2L890.7 656.8L891 656.8L891.3 656.8L891.7 657.1L892 657.3L892.4 656.3L892.7 657.3L893.1 656.6L893.4 656.6L893.7 657.1L894.1 656.7L894.4 656L894.8 657L895.1 655.8L895.5 656L895.8 655.7L896.1 655.8L896.5 654.7L896.8 654.9L897.2 653.8L897.5 654.1L897.9 653L898.2 652.7L898.5 653.1L898.9 652.2L899.2 651.8L899.6 652.4L899.9 651.7L900.2 651.3L900.6 652L900.9 651.6L901.3 652.7L901.6 653.1L902 652.9L902.3 653.4L902.6 654.1L903 654.5L903.3 654.5L903.7 655.4L904 654.9L904.4 655.7L904.7 656L905 656.3L905.4 656.7L905.7 656.3L906.1 657.1L906.4 656.9L906.8 656.8L907.1 656.7L907.4 656.8L907.8 657.4L908.1 657L908.5 657.3L908.8 657.7L909.2 657.7L909.5 657.9L909.8 657.3L910.2 657L910.5 657.8L910.9 657.6L911.2 657.9L911.5 657.5L911.9 657.9L912.2 657.8L912.6 657.8L912.9 657.7L913.3 657.7L913.6 657.6L913.9 657.6L914.3 657.9L914.6 657.4L915 658.2L915.3 657.5L915.7 657.9L916 657.5L916.3 657.5L916.7 658.3L917 657.5L917.4 657.1L917.7 657.3L918.1 657.5L918.4 658.4L918.7 657.7L919.1 657.9L919.4 657.3L919.8 657.7L920.1 657.9L920.5 658.3L920.8 657.4L921.1 657.8L921.5 657.7L921.8 657.3L922.2 657.6L922.5 657.6L922.9 656.8L923.2 657.9L923.5 657.8L923.9 657.5L924.2 657.2L924.6 658.2L924.9 657.8L925.2 658L925.6 658.2L925.9 657.5L926.3 658L926.6 657.6L927 657.7L927.3 657.7L927.6 657.7L928 658.1L928.3 657.7L928.7 657.6L929 657.6L929.4 657.8L929.7 657.4L930 657.5L930.4 657.7L930.7 657.5L931.1 657.7L931.4 657.5L931.8 658.4L932.1 658.2L932.4 657.9L932.8 657.7L933.1 658.5L933.5 657.8L933.8 657.7L934.2 657.8L934.5 657.8L934.8 658.2L935.2 657.7L935.5 658.5L935.9 657.4L936.2 658L936.5 657.4L936.9 658.4L937.2 657.6L937.6 657.7L937.9 658.1L938.3 658.2L938.6 657.4L938.9 657.7L939.3 657.3L939.6 657.8L940 657.7L940.3 657.7L940.7 657.5L941 657.7L941.3 657.5L941.7 658L942 658.3L942.4 657.1L942.7 657.8L943.1 657.7L943.4 658L943.7 657.5L944.1 657.8L944.4 657.4L944.8 658.1L945.1 657.8L945.5 657.8L945.8 657.9L946.1 657.7L946.5 657.3L946.8 658L947.2 657.9L947.5 657.8L947.9 658.2L948.2 658.3L948.5 657.5L948.9 657.6L949.2 658.4L949.6 658.3L949.9 657.6L950.2 657.4L950.6 657.6L950.9 657.7L951.3 657.3L951.6 657.9L952 657.4L952.3 657.4L952.6 658.2L953 657.6L953.3 657.8L953.7 658.1L954 658.2L954.4 657.8L954.7 657.9L955 657.6L955.4 658.5L955.7 658.1L956.1 657.5L956.4 657.9L956.8 658.1L957.1 658.1L957.4 658.5L957.8 658.4L958.1 657.7L958.5 657.9L958.8 657.5L959.2 658L959.5 658L959.8 658.9L960.2 657.9L960.5 657.2L960.9 657.7L961.2 658L961.5 657.5L961.9 657.6L962.2 657.8L962.6 658L962.9 657.9L963.3 657.6L963.6 658.2L963.9 657.7L964.3 657.8L964.6 657.5L965 657.7L965.3 658.2L965.7 657.4L966 657.9L966.3 658.2L966.7 657.8L967 658L967.4 657.6L967.7 658.4L968.1 658.3L968.4 658L968.7 657.3L969.1 657.6L969.4 658.3L969.8 658.6L970.1 658.1L970.5 658.4L970.8 657.8L971.1 657.9L971.5 658L971.8 658.1L972.2 657.4L972.5 658.3L972.9 658.5L973.2 657.6L973.5 657.5L973.9 658.1L974.2 657.8L974.6 657.2L974.9 658.3L975.2 658.1L975.6 657.8L975.9 658.7L976.3 658.1L976.6 657.7L977 658L977.3 657.7L977.6 657.8L978 658.2L978.3 657.8L978.7 657.9L979 658.6L979.4 658.3L979.7 658.3L980 658.2L980.4 658.2L980.7 658.5L981.1 658L981.4 658.7L981.8 657.7L982.1 658L982.4 657.6L982.8 657.9L983.1 658.2L983.5 658.6L983.8 657.8L984.2 658.1L984.5 657.9L984.8 657.8L985.2 657.6L985.5 658.1L985.9 657.5L986.2 658.1L986.5 658.1L986.9 657.8L987.2 657.7L987.6 657.6L987.9 658.7L988.3 657.6L988.6 658.6L988.9 658.3L989.3 658L989.6 657.7L990 658.5L990.3 658.7L990.7 657.8L991 658L991.3 658.5L991.7 658.2L992 658.8L992.4 657.9L992.7 658.3L993.1 657.7L993.4 658.8L993.7 657.9L994.1 657.3L994.4 658.1L994.8 658.1L995.1 658.8L995.5 658L995.8 658.1L996.1 658.3L996.5 658.7L996.8 658.1L997.2 658.5L997.5 658.3L997.9 658L998.2 658.2L998.5 658.2L998.9 657.8L999.2 658.6L999.6 657.7L999.9 658.6L1000.2 658.5L1000.6 658.1L1000.9 657.9L1001.3 658.1L1001.6 658.3L1002 658.4L1002.3 658.3L1002.6 658.5L1003 658L1003.3 658.3L1003.7 657.6L1004 658.4L1004.4 658.2L1004.7 658L1005 658.6L1005.4 658.4L1005.7 657.2L1006.1 658.2L1006.4 657.7L1006.8 658.6L1007.1 659.1L1007.4 658L1007.8 658.2L1008.1 658.1L1008.5 658.3L1008.8 658.4L1009.2 658.7L1009.5 657.9L1009.8 658.8L1010.2 657.9L1010.5 658.3L1010.9 658.6L1011.2 658.5L1011.5 657.9L1011.9 658L1012.2 658.1L1012.6 658.2L1012.9 658.6L1013.3 657.8L1013.6 658.4L1013.9 658.5L1014.3 658.4L1014.6 658.4L1015 658.8L1015.3 658.4L1015.7 658.5L1016 658.4L1016.3 658.9L1016.7 657.6L1017 658.7L1017.4 658.2L1017.7 658.2L1018.1 657.9L1018.4 657.6L1018.7 658.1L1019.1 658L1019.4 658.4L1019.8 657.8L1020.1 658.8L1020.5 658.4L1020.8 658.2L1021.1 658L1021.5 658L1021.8 657.9L1022.2 658.1L1022.5 658.3L1022.9 658.2L1023.2 657.8L1023.5 658.2L1023.9 658L1024.2 658.4L1024.6 659L1024.9 658.5L1025.2 658.2L1025.6 657.7L1025.9 657.8L1026.3 657.7L1026.6 658.6L1027 658L1027.3 658.3L1027.6 658.1L1028 658.4L1028.3 658.8L1028.7 658.1L1029 658.2L1029.4 658L1029.7 658.6L1030 658L1030.4 657.9L1030.7 657.9L1031.1 657.8L1031.4 658.5L1031.8 659.2L1032.1 658L1032.4 658.7L1032.8 658.4L1033.1 658L1033.5 658.3L1033.8 658.3L1034.2 658.1L1034.5 659L1034.8 657.7L1035.2 658.5L1035.5 658.5L1035.9 658.2L1036.2 658.4L1036.5 658.7L1036.9 658.4L1037.2 658.5L1037.6 658.6L1037.9 657.7L1038.3 658.9L1038.6 659.2L1038.9 658.7L1039.3 658.7L1039.6 657.9L1040 658.4L1040.3 658.1L1040.7 658.2L1041 658.7L1041.3 658.1L1041.7 658.4L1042 657.7L1042.4 658.4L1042.7 658.4L1043.1 658.2L1043.4 658.2L1043.7 659.1L1044.1 658L1044.4 658.1L1044.8 658.1L1045.1 658.8L1045.5 659.2L1045.8 658.5L1046.1 658.2L1046.5 658.3L1046.8 658.8L1047.2 658.1L1047.5 658.9L1047.9 658.9L1048.2 658.5L1048.5 658.7L1048.9 658.7L1049.2 659L1049.6 658.1L1049.9 658.9L1050.2 658.3L1050.6 658.2L1050.9 658.5L1051.3 658.4L1051.6 658.1L1052 657.9L1052.3 658.1L1052.6 659L1053 659.2L1053.3 658.7L1053.7 658.9L1054 658.3L1054.4 658.5L1054.7 658.6L1055 658.1L1055.4 658.1L1055.7 658.5L1056.1 658.4L1056.4 658.1L1056.8 658.6L1057.1 658.4L1057.4 658.9L1057.8 658.5L1058.1 658.4L1058.5 658.5L1058.8 658.4L1059.2 658.3L1059.5 658.4L1059.8 658.8L1060.2 658.7L1060.5 659L1060.9 657.9L1061.2 658.4L1061.5 658.4L1061.9 658.6L1062.2 658.4L1062.6 658.3L1062.9 658.8L1063.3 658.6L1063.6 658.1L1063.9 659L1064.3 658.9L1064.6 658.3L1065 658.8L1065.3 658.3L1065.7 658.9L1066 658.5L1066.3 658.3L1066.7 658.4L1067 658.3L1067.4 658.6L1067.7 658.6L1068.1 658.6L1068.4 658.4L1068.7 657.3L1069.1 658.6L1069.4 657.9L1069.8 658.7L1070.1 659L1070.5 658.7L1070.8 658.4L1071.1 658.5L1071.5 658.5L1071.8 658.4L1072.2 658.4L1072.5 658.3L1072.9 659L1073.2 658.6L1073.5 658.9L1073.9 658.5L1074.2 658.6L1074.6 658.5L1074.9 658.8L1075.2 658.9L1075.6 658.7L1075.9 658.4L1076.3 658.3L1076.6 659.2L1077 658.5L1077.3 658.5L1077.6 659.1L1078 659L1078.3 658.8L1078.7 658.5L1079 659.4L1079.4 658.8L1079.7 658.8L1080 658.6L1080.4 658.1L1080.7 658.2L1081.1 658.8L1081.4 658.8L1081.8 658.6L1082.1 658.2L1082.4 658.1L1082.8 658.5L1083.1 658.1L1083.5 659L1083.8 659.1L1084.2 659.6L1084.5 659L1084.8 658.4L1085.2 658.4L1085.5 657.5L1085.9 658.5L1086.2 658.6L1086.6 659L1086.9 658.9L1087.2 658.9L1087.6 658.7L1087.9 658.9L1088.3 659.2L1088.6 658.3L1088.9 658.5L1089.3 658.2L1089.6 659.2L1090 659.1L1090.3 658.9L1090.7 658.3L1091 658.8L1091.3 658.6L1091.7 658.7L1092 658.6L1092.4 658.9L1092.7 658.6L1093.1 659L1093.4 658.8L1093.7 658.6L1094.1 658.7L1094.4 658.6L1094.8 659L1095.1 658.6L1095.5 658.8L1095.8 658.6L1096.1 658.2L1096.5 659L1096.8 658.4L1097.2 659L1097.5 658.9L1097.9 658.1L1098.2 658.4L1098.5 658.6L1098.9 658.4L1099.2 658.3L1099.6 659L1099.9 658.7L1100.2 658.9L1100.6 658.6L1100.9 658.9L1101.3 658.5L1101.6 658.7L1102 659L1102.3 658.8L1102.6 658.6L1103 658.4L1103.3 658.8L1103.7 658.9L1104 658.7L1104.4 658.5L1104.7 659L1105 659.6L1105.4 658.7L1105.7 658.9L1106.1 658.9L1106.4 657.9L1106.8 658.8L1107.1 658.5L1107.4 659.3L1107.8 658.7L1108.1 658.5L1108.5 658.7L1108.8 658.8L1109.2 658.6L1109.5 658.8L1109.8 658.3L1110.2 658.7L1110.5 659.1L1110.9 659.5L1111.2 659L1111.6 658.9L1111.9 659.2L1112.2 659.2L1112.6 659.4L1112.9 659.2L1113.3 658.8L1113.6 658.9L1113.9 658.9L1114.3 658.9L1114.6 658.9L1115 658.5L1115.3 658.1L1115.7 658.6L1116 658.1L1116.3 658.8L1116.7 658.8L1117 658.2L1117.4 659.1L1117.7 659.1L1118.1 658.9L1118.4 659.4L1118.7 659.5L1119.1 658.4L1119.4 659.2L1119.8 659L1120.1 659L1120.5 659.2L1120.8 658.6L1121.1 658.6L1121.5 658.6L1121.8 658.6L1122.2 658.8L1122.5 658.3L1122.9 658.5L1123.2 659.1L1123.5 658.8L1123.9 659L1124.2 658.2L1124.6 658.6L1124.9 658.7L1125.2 658.9L1125.6 658.7L1125.9 659.2L1126.3 658.8L1126.6 658.9L1127 658.9L1127.3 659.1L1127.6 658.7L1128 659.3L1128.3 659L1128.7 658.9L1129 658.9L1129.4 659.1L1129.7 659.2L1130 659.2L1130.4 659L1130.7 659.2L1131.1 658.9L1131.4 659.3L1131.8 658.9L1132.1 658.2L1132.4 659.3L1132.8 658.9L1133.1 658.5L1133.5 658.8L1133.8 658.6L1134.2 659.6L1134.5 659L1134.8 658.3L1135.2 659.1L1135.5 658.7L1135.9 659.5L1136.2 658.5L1136.6 658.1L1136.9 658.9L1137.2 658.7L1137.6 658.7L1137.9 658.1L1138.3 659L1138.6 659.4L1138.9 658.1L1139.3 659.2L1139.6 658.5L1140 659.5L1140.3 658.8L1140.7 658.6L1141 659L1141.3 658.7L1141.7 658.3L1142 658.7L1142.4 658.2L1142.7 657.7L1143.1 658.9L1143.4 658L1143.7 657.8L1144.1 658.1L1144.4 657.3L1144.8 657.3L1145.1 657.5L1145.5 657.5L1145.8 657.6L1146.1 657.9L1146.5 657.3L1146.8 657.6L1147.2 657.6L1147.5 657L1147.9 657.5L1148.2 657.1L1148.5 657.8L1148.9 657.7L1149.2 657.6L1149.6 657.2L1149.9 657.8L1150.2 657.6L1150.6 658.2L1150.9 658L1151.3 657.8L1151.6 658.5L1152 658.5L1152.3 658.1L1152.6 658.8L1153 658.4L1153.3 658.4L1153.7 658.6L1154 658.4L1154.4 658.5L1154.7 658.7L1155 659.3L1155.4 659.3L1155.7 658.7L1156.1 659.4L1156.4 658.9L1156.8 659L1157.1 659.2L1157.4 659L1157.8 659.8L1158.1 659L1158.5 658.5L1158.8 659.4L1159.2 658.8L1159.5 658.9L1159.8 657.9L1160.2 659.3L1160.5 659.3L1160.9 659.3L1161.2 659.3L1161.6 659.6L1161.9 659L1162.2 659.3L1162.6 658.7L1162.9 658.9L1163.3 659.4L1163.6 659.1L1163.9 658.5L1164.3 659.1L1164.6 658.9L1165 658.7L1165.3 659.2L1165.7 658.9L1166 658.5L1166.3 658.6L1166.7 659.6L1167 658.5L1167.4 659.1L1167.7 659.2L1168.1 659.2L1168.4 658.6L1168.7 658.9L1169.1 659.1L1169.4 659.3L1169.8 658.8L1170.1 658.6L1170.5 659.4L1170.8 659.4L1171.1 659.2L1171.5 658.8L1171.8 659.2L1172.2 659.1L1172.5 659.3L1172.9 658.6L1173.2 659.1L1173.5 659L1173.9 658.6L1174.2 659.1L1174.6 659L1174.9 658.9L1175.2 659.2L1175.6 658.5L1175.9 659L1176.3 659.2L1176.6 659.1L1177 659.4L1177.3 658.6L1177.6 658.5L1178 659.1L1178.3 659.2L1178.7 659.7L1179 659.2L1179.4 658.7L1179.7 659.3L1180 658.7L1180.4 658.5L1180.7 659.9L1181.1 659.1L1181.4 659.2L1181.8 659.2L1182.1 659.6L1182.4 659.1L1182.8 659.4L1183.1 658.6L1183.5 658.5L1183.8 659.4L1184.2 659.5L1184.5 659.1L1184.8 659L1185.2 659L1185.5 658.7L1185.9 659.4L1186.2 659.1L1186.6 659.1L1186.9 659L1187.2 659.2L1187.6 659L1187.9 659.1L1188.3 658.4L1188.6 659L1188.9 659.6L1189.3 658.6L1189.6 658.7L1190 659.1L1190.3 659.1L1190.7 659L1191 658.2L1191.3 658.9L1191.7 658.3L1192 658.4L1192.4 658.9L1192.7 658.5L1193.1 658.9L1193.4 659.7L1193.7 658.8L1194.1 658.8L1194.4 658.2L1194.8 658.3L1195.1 658.1L1195.5 658.2L1195.8 658L1196.1 658.1L1196.5 658.2L1196.8 657.9L1197.2 657.7L1197.5 657.7L1197.9 658.3L1198.2 658.1L1198.5 658.3L1198.9 658.3L1199.2 657.7L1199.6 658L1199.9 657.2L1200.2 658.3L1200.6 657.8L1200.9 657.2L1201.3 656.7L1201.6 657L1202 656L1202.3 656.1L1202.6 656.3L1203 655.7L1203.3 655L1203.7 654.9L1204 653.5L1204.4 653.2L1204.7 651.9L1205 650.7L1205.4 649.9L1205.7 647.9L1206.1 647.2L1206.4 644.5L1206.8 643.3L1207.1 639.9L1207.4 638L1207.8 634.8L1208.1 632L1208.5 629.6L1208.8 626.9L1209.2 623.3L1209.5 621.3L1209.8 617.9L1210.2 615.8L1210.5 613.9L1210.9 612.3L1211.2 610.4L1211.6 611L1211.9 610.8L1212.2 611.1L1212.6 612.2L1212.9 613.7L1213.3 616L1213.6 619.2L1213.9 621.6L1214.3 624.2L1214.6 627.4L1215 631L1215.3 633.2L1215.7 635.9L1216 639.1L1216.3 641.2L1216.7 643.3L1217 645.1L1217.4 646.6L1217.7 648.3L1218.1 650L1218.4 651.3L1218.7 652.6L1219.1 653.6L1219.4 654.3L1219.8 654.9L1220.1 655L1220.5 655.1L1220.8 656.1L1221.1 656.2L1221.5 656.6L1221.8 657L1222.2 656.8L1222.5 657.1L1222.9 657.6L1223.2 657.8L1223.5 657.6L1223.9 658.1L1224.2 657.9L1224.6 657.7L1224.9 658.2L1225.2 658.9L1225.6 658.1L1225.9 658.8L1226.3 658.9L1226.6 659L1227 658.2L1227.3 659.3L1227.6 658.6L1228 658.5L1228.3 658.6L1228.7 658.9L1229 658.8L1229.4 658.7L1229.7 659.2L1230 658.6L1230.4 658.5L1230.7 659.2L1231.1 659.2L1231.4 659.3L1231.8 658.6L1232.1 659.4L1232.4 659.2L1232.8 659.6L1233.1 658.6L1233.5 659.1L1233.8 659L1234.2 658.5L1234.5 658.9L1234.8 659.5L1235.2 659L1235.5 658.9L1235.9 659.5L1236.2 659.5L1236.6 659.5L1236.9 658.9L1237.2 659.2L1237.6 659.6L1237.9 659L1238.3 659L1238.6 659.5L1238.9 659.8L1239.3 658.9L1239.6 658.4L1240 658.8L1240.3 659L1240.7 659.3L1241 659.5L1241.3 659.3L1241.7 659.1L1242 659.4L1242.4 659L1242.7 659.4L1243.1 659.1L1243.4 660.3L1243.7 659.7L1244.1 659.1L1244.4 659.1L1244.8 659.3L1245.1 658.8L1245.5 659.2L1245.8 659.2L1246.1 659.7L1246.5 659.3L1246.8 659.2L1247.2 659L1247.5 659L1247.9 659.4L1248.2 659.4L1248.5 659.9L1248.9 659.3L1249.2 659.9L1249.6 659.6L1249.9 659.5L1250.3 658.8L1250.6 659.1L1250.9 659.8L1251.3 660L1251.6 659.6L1252 659.8L1252.3 659.4L1252.6 659.4L1253 659.3L1253.3 659.9L1253.7 659.7L1254 659.5L1254.4 659.4L1254.7 659.8L1255 659.7L1255.4 659.3L1255.7 660.2L1256.1 659.7L1256.4 659.6L1256.8 660.1L1257.1 659.9L1257.4 659.6L1257.8 659.8L1258.1 659.2L1258.5 659.4L1258.8 658.8L1259.2 660L1259.5 659L1259.8 659.9L1260.2 659.3L1260.5 659.3L1260.9 659.6L1261.2 659.7L1261.6 659.9L1261.9 660.3L1262.2 659.8L1262.6 660L1262.9 659.4L1263.3 659.9L1263.6 659.7L1263.9 659.5L1264.3 659.6L1264.6 659.6L1265 659.7L1265.3 659.8L1265.7 659.5L1266 659.4L1266.3 659.9L1266.7 659.1L1267 659.5L1267.4 660.2L1267.7 658.7L1268.1 659.5L1268.4 659.9L1268.7 659.1L1269.1 660.6L1269.4 658.8L1269.8 660.2L1270.1 660.3L1270.5 660L1270.8 659.6L1271.1 659.9L1271.5 659.4L1271.8 660L1272.2 659.3L1272.5 659.6L1272.9 660.1L1273.2 659.4L1273.5 659.6L1273.9 659.8L1274.2 659.3L1274.6 660.2L1274.9 659.9L1275.3 659.2L1275.6 659.7L1275.9 659.5L1276.3 659.5L1276.6 659.8L1277 659.5L1277.3 660.1L1277.6 659.5L1278 660.1L1278.3 659.8L1278.7 660.1L1279 659.6L1279.4 659.6L1279.7 659.4L1280 660L1280.4 660.1L1280.7 660.5L1281.1 660.3L1281.4 659.9L1281.8 659.7L1282.1 659.9L1282.4 659.8L1282.8 660.3L1283.1 660.2L1283.5 659.5L1283.8 659.6L1284.2 660.3L1284.5 659.9L1284.8 659.8L1285.2 660.3L1285.5 659.7L1285.9 659.7L1286.2 659.7L1286.6 659.2L1286.9 660.2L1287.2 659.4L1287.6 659.7L1287.9 659.6L1288.3 660.1L1288.6 659.8L1288.9 659.9L1289.3 659.3L1289.6 659.8L1290 659.4L1290.3 660L1290.7 660L1291 659.9L1291.3 660.6L1291.7 660.1L1292 660.1L1292.4 659.9L1292.7 659.8L1293.1 660.2L1293.4 660.3L1293.7 659.4L1294.1 660.3L1294.4 660.1L1294.8 660.2L1295.1 660.1L1295.5 659.5L1295.8 659.5L1296.1 660.6L1296.5 660L1296.8 659.4L1297.2 660L1297.5 659.8L1297.9 659.3L1298.2 659.1L1298.5 659.4L1298.9 660L1299.2 659.9L1299.6 659.9L1299.9 660L1300.3 660.2L1300.6 659.2L1300.9 659.8L1301.3 659.7L1301.6 659.5L1302 659.8L1302.3 659.9L1302.6 659.9L1303 659.5L1303.3 659.8L1303.7 660.7L1304 659.6L1304.4 659.4" fill="none" stroke="#9b3cf6" stroke-width="1.8" stroke-linejoin="round"/>
<path d="M791 725.1L791.3 725.2L791.7 725.1L792 724.6L792.4 725.3L792.7 724.7L793.1 724.6L793.4 724.8L793.7 725L794.1 725.2L794.4 725.2L794.8 725L795.1 725.3L795.5 725L795.8 725.3L796.1 724.5L796.5 724.5L796.8 725.3L797.2 724.5L797.5 724.9L797.8 725L798.2 724.8L798.5 724.9L798.9 725.5L799.2 724.1L799.6 725.3L799.9 725.8L800.2 725L800.6 725L800.9 725.3L801.3 725.7L801.6 724.6L802 725.1L802.3 725L802.6 725.2L803 725.1L803.3 725.3L803.7 724.9L804 725L804.4 724.8L804.7 724.8L805 725L805.4 725L805.7 724.6L806.1 725.6L806.4 725L806.8 724.6L807.1 725.4L807.4 724.8L807.8 725.2L808.1 725L808.5 725.1L808.8 725.1L809.2 724.8L809.5 725.1L809.8 725.8L810.2 724.3L810.5 725.1L810.9 725.2L811.2 724.7L811.5 724.6L811.9 725.8L812.2 724.9L812.6 725.8L812.9 725.2L813.3 725.1L813.6 725.2L813.9 725.3L814.3 725.5L814.6 725.2L815 725.1L815.3 725.1L815.7 725.5L816 725.3L816.3 724.7L816.7 724.8L817 725.2L817.4 724.8L817.7 724.9L818.1 724.7L818.4 724.9L818.7 725.2L819.1 725.4L819.4 725L819.8 725.8L820.1 725L820.5 726.1L820.8 725.4L821.1 725.2L821.5 724.8L821.8 724L822.2 725L822.5 725.1L822.8 725.7L823.2 724.5L823.5 725.7L823.9 724.9L824.2 725.2L824.6 724.1L824.9 725L825.2 724.8L825.6 725.2L825.9 725L826.3 724.5L826.6 725.2L827 725.1L827.3 725.1L827.6 725.2L828 725.2L828.3 724.8L828.7 724.3L829 724.3L829.4 725.2L829.7 724.9L830 724.7L830.4 724.5L830.7 724.6L831.1 724.5L831.4 724.3L831.8 724.1L832.1 725L832.4 724.2L832.8 723.7L833.1 723.1L833.5 723L833.8 722.9L834.2 722.2L834.5 720.8L834.8 719.5L835.2 717.6L835.5 715.2L835.9 713.6L836.2 710.5L836.5 708.4L836.9 704.5L837.2 702.3L837.6 701.1L837.9 700.1L838.3 700.3L838.6 702.1L838.9 704.8L839.3 707.7L839.6 710.4L840 713.6L840.3 716L840.7 717.9L841 719.6L841.3 720.8L841.7 722.1L842 723L842.4 723.3L842.7 723.8L843.1 723.8L843.4 723.6L843.7 723.9L844.1 724.7L844.4 724.6L844.8 725.1L845.1 724.6L845.5 725L845.8 725.2L846.1 725.1L846.5 724.6L846.8 724.8L847.2 724.9L847.5 724.6L847.8 725.1L848.2 725.3L848.5 724.8L848.9 725.7L849.2 724.9L849.6 725L849.9 725L850.2 724.8L850.6 725.2L850.9 725.1L851.3 725.7L851.6 725.3L852 725.3L852.3 725L852.6 724.6L853 725.1L853.3 724.8L853.7 725.5L854 725.2L854.4 725.8L854.7 725.4L855 725.5L855.4 725.3L855.7 725.3L856.1 725.4L856.4 725.5L856.8 725L857.1 725.4L857.4 726.1L857.8 725.2L858.1 725.1L858.5 725L858.8 724.7L859.2 725.7L859.5 725.3L859.8 725.4L860.2 725.9L860.5 726.1L860.9 724.9L861.2 725.6L861.5 725.5L861.9 725.4L862.2 725.4L862.6 725.3L862.9 725.8L863.3 725.5L863.6 725.4L863.9 725.7L864.3 725.6L864.6 725.5L865 725.4L865.3 725.9L865.7 725.5L866 725.3L866.3 725L866.7 725.2L867 724.9L867.4 725.3L867.7 725.4L868.1 724.6L868.4 725.3L868.7 725.5L869.1 725.4L869.4 725L869.8 725.8L870.1 725.1L870.5 724.9L870.8 725L871.1 725.3L871.5 725.7L871.8 725.7L872.2 725.4L872.5 724.9L872.8 725.1L873.2 725L873.5 725.3L873.9 724.7L874.2 725.4L874.6 725.6L874.9 725.3L875.2 725.5L875.6 725L875.9 724.8L876.3 725.1L876.6 725.8L877 725.7L877.3 725.2L877.6 725.8L878 725.2L878.3 725.9L878.7 725.5L879 725.2L879.4 725.6L879.7 725.1L880 725L880.4 724.8L880.7 725.4L881.1 725.3L881.4 725.3L881.8 725.2L882.1 725.9L882.4 725.2L882.8 725.1L883.1 725.8L883.5 725.8L883.8 725.5L884.2 724.7L884.5 725.1L884.8 725.6L885.2 725.3L885.5 725.9L885.9 724.9L886.2 725.6L886.5 725.1L886.9 725.8L887.2 725.3L887.6 725.7L887.9 725.1L888.3 724.8L888.6 724.9L888.9 725.1L889.3 724.9L889.6 725.7L890 725.7L890.3 725.3L890.7 724.9L891 725.2L891.3 724.9L891.7 725.7L892 725.2L892.4 725.2L892.7 724.9L893.1 724.2L893.4 724.6L893.7 724.4L894.1 724.7L894.4 724.5L894.8 724L895.1 723.9L895.5 724.3L895.8 723.1L896.1 722.7L896.5 722.6L896.8 722L897.2 721.6L897.5 721.5L897.9 721.4L898.2 719.8L898.5 719.9L898.9 719.6L899.2 719.3L899.6 719L899.9 718.9L900.2 719.4L900.6 719.1L900.9 719.5L901.3 719.9L901.6 720.3L902 720.7L902.3 721.6L902.6 721.7L903 722.2L903.3 722.6L903.7 722.7L904 723.1L904.4 723.3L904.7 724.1L905 724L905.4 724.1L905.7 724.7L906.1 725L906.4 724.3L906.8 725.6L907.1 725.1L907.4 725.1L907.8 725.6L908.1 725.3L908.5 725.1L908.8 726.1L909.2 724.9L909.5 725.3L909.8 725.7L910.2 725L910.5 725.4L910.9 725.5L911.2 726.3L911.5 725.1L911.9 725.4L912.2 725.7L912.6 725.5L912.9 725L913.3 725.6L913.6 725.5L913.9 725.6L914.3 725.9L914.6 725.8L915 725.6L915.3 725.6L915.7 725.1L916 725.5L916.3 725.6L916.7 725.4L917 725.6L917.4 725.2L917.7 726.1L918.1 726.3L918.4 725.4L918.7 725.7L919.1 725.5L919.4 726L919.8 725.7L920.1 725.6L920.5 725.5L920.8 725.6L921.1 725.2L921.5 725.8L921.8 725.3L922.2 725.8L922.5 725.6L922.9 726L923.2 725.6L923.5 726L923.9 725.3L924.2 725.8L924.6 725.5L924.9 725.7L925.2 725.6L925.6 725.9L925.9 724.9L926.3 725.7L926.6 725.1L927 726L927.3 724.9L927.6 725.3L928 725L928.3 726.2L928.7 725.2L929 725.7L929.4 725.5L929.7 725L930 725.5L930.4 725.9L930.7 725.6L931.1 726L931.4 725.5L931.8 725.7L932.1 725.5L932.4 725.8L932.8 726.3L933.1 725.8L933.5 725.7L933.8 725.5L934.2 725.4L934.5 726.2L934.8 725.3L935.2 725.4L935.5 725.6L935.9 725.5L936.2 726.4L936.5 724.9L936.9 725.8L937.2 725.9L937.6 725.3L937.9 725.5L938.3 725.8L938.6 726.3L938.9 725.4L939.3 725.1L939.6 726L940 726.2L940.3 725.6L940.7 724.9L941 726.2L941.3 725.6L941.7 726.1L942 725.7L942.4 725.6L942.7 725.6L943.1 726.2L943.4 726.2L943.7 725L944.1 725.4L944.4 726.3L944.8 725.6L945.1 725.3L945.5 725.7L945.8 725.7L946.1 725.7L946.5 725.6L946.8 725.6L947.2 725.6L947.5 725.9L947.9 725.5L948.2 725.6L948.5 725.7L948.9 726.2L949.2 725.9L949.6 725.7L949.9 725.9L950.2 725.9L950.6 726.1L950.9 725.9L951.3 726.4L951.6 726.2L952 725.8L952.3 725.6L952.6 726.1L953 726L953.3 725.7L953.7 725.3L954 725.1L954.4 725.9L954.7 726.1L955 726.1L955.4 725.3L955.7 726.2L956.1 725.6L956.4 725.9L956.8 725.9L957.1 725.5L957.4 725.6L957.8 725.1L958.1 725.5L958.5 725.2L958.8 726L959.2 725.8L959.5 726.1L959.8 725.9L960.2 725.6L960.5 725.9L960.9 725.7L961.2 726L961.5 725.9L961.9 725.5L962.2 725.8L962.6 725.8L962.9 725.7L963.3 726.1L963.6 726.4L963.9 725.7L964.3 725.7L964.6 725L965 725.8L965.3 725.7L965.7 725.1L966 725.9L966.3 726L966.7 725.6L967 725.7L967.4 725.5L967.7 726.1L968.1 725.3L968.4 725.7L968.7 726.5L969.1 725.9L969.4 726L969.8 725.8L970.1 725.4L970.5 725.8L970.8 726L971.1 725.5L971.5 726L971.8 726.3L972.2 726.2L972.5 725.3L972.9 725.5L973.2 725.3L973.5 726.3L973.9 726.1L974.2 726.1L974.6 725.6L974.9 725.5L975.2 725.9L975.6 725.9L975.9 725.6L976.3 725.9L976.6 726.1L977 726L977.3 725.5L977.6 725.2L978 725.8L978.3 726L978.7 725.8L979 725.8L979.4 725.7L979.7 726.2L980 725.9L980.4 726L980.7 725.6L981.1 725.7L981.4 726L981.8 725.6L982.1 725.5L982.4 725.8L982.8 726.3L983.1 726L983.5 726.4L983.8 725.9L984.2 725.8L984.5 725.4L984.8 725.7L985.2 726.4L985.5 726.1L985.9 726.2L986.2 726.2L986.5 725.9L986.9 725.9L987.2 726L987.6 726.2L987.9 726.1L988.3 726.1L988.6 726L988.9 725.7L989.3 725.9L989.6 725.6L990 726.3L990.3 725.2L990.7 725.9L991 726.8L991.3 725.8L991.7 725.6L992 726L992.4 726.4L992.7 725.9L993.1 726.2L993.4 726L993.7 725.8L994.1 727.1L994.4 726L994.8 725.8L995.1 725.8L995.5 726.1L995.8 726.1L996.1 726.3L996.5 726L996.8 725.5L997.2 726.2L997.5 725.9L997.9 725.9L998.2 725.5L998.5 725.8L998.9 725.7L999.2 726L999.6 725.5L999.9 726L1000.2 726.1L1000.6 725.6L1000.9 725.8L1001.3 725.7L1001.6 726.3L1002 725.1L1002.3 725.9L1002.6 725.4L1003 725.9L1003.3 726.3L1003.7 725.8L1004 726.1L1004.4 725.7L1004.7 726.7L1005 726.4L1005.4 726.4L1005.7 725.6L1006.1 725.7L1006.4 726.4L1006.8 726L1007.1 726L1007.4 726.2L1007.8 725.6L1008.1 726.3L1008.5 726.1L1008.8 726.2L1009.2 725.8L1009.5 726.2L1009.8 725.8L1010.2 726.4L1010.5 726.5L1010.9 726.4L1011.2 726.2L1011.5 726.3L1011.9 725.1L1012.2 726.4L1012.6 726L1012.9 726.1L1013.3 726L1013.6 725.6L1013.9 725.9L1014.3 726.3L1014.6 726.6L1015 725.9L1015.3 725.8L1015.7 726.6L1016 725.8L1016.3 726.8L1016.7 726.1L1017 725.8L1017.4 726.4L1017.7 726.7L1018.1 725.6L1018.4 726.6L1018.7 726L1019.1 726.6L1019.4 726L1019.8 725.5L1020.1 726.3L1020.5 726.4L1020.8 726.8L1021.1 726.7L1021.5 726.4L1021.8 726L1022.2 725.9L1022.5 726L1022.9 725.8L1023.2 726L1023.5 725.2L1023.9 726.2L1024.2 726.1L1024.6 727L1024.9 726.4L1025.2 726L1025.6 726.3L1025.9 725.7L1026.3 725.9L1026.6 725.5L1027 726.6L1027.3 726.3L1027.6 725.7L1028 726.1L1028.3 726.5L1028.7 726.3L1029 726.3L1029.4 725.8L1029.7 725.9L1030 726.2L1030.4 726.5L1030.7 725.9L1031.1 725.8L1031.4 726.6L1031.8 725.8L1032.1 726.5L1032.4 726.2L1032.8 726.5L1033.1 726.8L1033.5 726.4L1033.8 726.4L1034.2 725.8L1034.5 725.9L1034.8 726.4L1035.2 726.7L1035.5 726.7L1035.9 727L1036.2 726.3L1036.5 726.3L1036.9 726.5L1037.2 726.2L1037.6 726.2L1037.9 725.8L1038.3 726.5L1038.6 725.8L1038.9 726.4L1039.3 725.7L1039.6 726.6L1040 725.8L1040.3 726.5L1040.7 725.6L1041 726L1041.3 726.6L1041.7 725.9L1042 726.2L1042.4 726L1042.7 725.4L1043.1 726.3L1043.4 726.4L1043.7 725.8L1044.1 726.4L1044.4 725.9L1044.8 725.9L1045.1 726.2L1045.5 726L1045.8 727L1046.1 725.7L1046.5 726.5L1046.8 726.6L1047.2 725.5L1047.5 725.6L1047.9 726.4L1048.2 726.1L1048.5 726.4L1048.9 726.6L1049.2 726.1L1049.6 725.9L1049.9 725.3L1050.2 726.3L1050.6 725.9L1050.9 726.4L1051.3 726.3L1051.6 725.8L1052 726.9L1052.3 726.6L1052.6 726.6L1053 725.8L1053.3 726.1L1053.7 726.1L1054 726.1L1054.4 725.9L1054.7 726.4L1055 726.3L1055.4 726.4L1055.7 726.1L1056.1 726.7L1056.4 726.3L1056.8 725.3L1057.1 726.1L1057.4 726.3L1057.8 726.6L1058.1 726.2L1058.5 726.2L1058.8 726.1L1059.2 726.5L1059.5 726.1L1059.8 726.1L1060.2 726L1060.5 726.5L1060.9 726.1L1061.2 725.7L1061.5 726.5L1061.9 726.1L1062.2 726.4L1062.6 726.4L1062.9 726.7L1063.3 726.7L1063.6 726.1L1063.9 726.3L1064.3 725.9L1064.6 726.9L1065 726.5L1065.3 726.8L1065.7 726.2L1066 725.6L1066.3 726.9L1066.7 726.4L1067 726.4L1067.4 726.3L1067.7 726.6L1068.1 726.5L1068.4 725.8L1068.7 726.7L1069.1 726.1L1069.4 726.2L1069.8 726.9L1070.1 726.7L1070.5 726.2L1070.8 725.7L1071.1 726.4L1071.5 726.5L1071.8 726.3L1072.2 725.9L1072.5 726.1L1072.9 725.9L1073.2 726.4L1073.5 726.6L1073.9 726.7L1074.2 726.1L1074.6 726.4L1074.9 726.6L1075.2 726.2L1075.6 726.3L1075.9 727.1L1076.3 726.4L1076.6 726.7L1077 726.2L1077.3 726.4L1077.6 725.8L1078 726.4L1078.3 726.8L1078.7 727.1L1079 726.8L1079.4 726.6L1079.7 726.4L1080 726.2L1080.4 726.3L1080.7 726.6L1081.1 726.1L1081.4 726.7L1081.8 726L1082.1 725.8L1082.4 726L1082.8 725.8L1083.1 725.9L1083.5 726.8L1083.8 726.3L1084.2 726.5L1084.5 726.8L1084.8 726.8L1085.2 726.2L1085.5 726.9L1085.9 726.5L1086.2 726.4L1086.6 726.6L1086.9 725.9L1087.2 726.1L1087.6 726.4L1087.9 726.6L1088.3 726.3L1088.6 726.4L1088.9 726.8L1089.3 726.9L1089.6 726.7L1090 726.9L1090.3 726.3L1090.7 726.3L1091 726.5L1091.3 726.3L1091.7 726.3L1092 727L1092.4 726.4L1092.7 726.1L1093.1 726.6L1093.4 727.1L1093.7 726.5L1094.1 726.9L1094.4 726.3L1094.8 726.3L1095.1 726.2L1095.5 726.4L1095.8 727.1L1096.1 726.1L1096.5 727L1096.8 726.1L1097.2 726.4L1097.5 726.8L1097.9 726.7L1098.2 726.6L1098.5 725.9L1098.9 726.6L1099.2 726.1L1099.6 727.4L1099.9 726.4L1100.2 726.5L1100.6 726.1L1100.9 726.3L1101.3 726L1101.6 726.8L1102 726.4L1102.3 726.7L1102.6 726.2L1103 726.3L1103.3 726.9L1103.7 726.1L1104 725.9L1104.4 726.6L1104.7 726.1L1105 726.3L1105.4 726.8L1105.7 726.2L1106.1 726.8L1106.4 726.3L1106.8 727L1107.1 727L1107.4 726.3L1107.8 726.4L1108.1 726.2L1108.5 726.6L1108.8 726.9L1109.2 726L1109.5 726.8L1109.8 726L1110.2 726.2L1110.5 725.9L1110.9 727.3L1111.2 726.5L1111.6 726.6L1111.9 726.3L1112.2 726.9L1112.6 725.8L1112.9 726.5L1113.3 727.3L1113.6 726.4L1113.9 726.5L1114.3 726.8L1114.6 726.2L1115 726.5L1115.3 726.9L1115.7 726.6L1116 726.7L1116.3 726.4L1116.7 726.6L1117 726.6L1117.4 727L1117.7 726.8L1118.1 726.5L1118.4 725.7L1118.7 726.8L1119.1 726.8L1119.4 726.2L1119.8 725.8L1120.1 726.1L1120.5 726.9L1120.8 726.2L1121.1 726.4L1121.5 726.6L1121.8 727L1122.2 726.5L1122.5 726.5L1122.9 726.4L1123.2 727.1L1123.5 726.9L1123.9 726.5L1124.2 726.1L1124.6 726.3L1124.9 726.8L1125.2 726.3L1125.6 726.9L1125.9 726.7L1126.3 726.7L1126.6 726.8L1127 726.7L1127.3 726.3L1127.6 726.5L1128 727.4L1128.3 726.1L1128.7 726.4L1129 726.9L1129.4 726.5L1129.7 726.3L1130 726.1L1130.4 726.8L1130.7 726.9L1131.1 727.1L1131.4 726.6L1131.8 726.9L1132.1 726.2L1132.4 726.6L1132.8 726.3L1133.1 726.6L1133.5 726.8L1133.8 726.9L1134.2 726.2L1134.5 727L1134.8 726.4L1135.2 726.2L1135.5 726.5L1135.9 726L1136.2 726.5L1136.6 726.6L1136.9 726.5L1137.2 726.7L1137.6 726.4L1137.9 726.5L1138.3 726L1138.6 726.5L1138.9 726.2L1139.3 726.3L1139.6 726.4L1140 726.4L1140.3 725.8L1140.7 725.8L1141 726.2L1141.3 726.4L1141.7 726.3L1142 726.4L1142.4 726.5L1142.7 726.1L1143.1 725.9L1143.4 725.4L1143.7 725.4L1144.1 725.5L1144.4 725.6L1144.8 725.5L1145.1 725.4L1145.5 725.3L1145.8 725.5L1146.1 725.2L1146.5 725.2L1146.8 725.2L1147.2 724.9L1147.5 724.7L1147.9 725.2L1148.2 725.2L1148.5 725.1L1148.9 725L1149.2 726L1149.6 725.1L1149.9 725.3L1150.2 725.6L1150.6 725.2L1150.9 725.7L1151.3 726.4L1151.6 726.2L1152 726.1L1152.3 726.2L1152.6 726.1L1153 726.5L1153.3 726.1L1153.7 726.1L1154 726.3L1154.4 726.7L1154.7 726.5L1155 726.6L1155.4 725.7L1155.7 726.9L1156.1 727.3L1156.4 727L1156.8 726.4L1157.1 726.2L1157.4 726.7L1157.8 726.2L1158.1 726.8L1158.5 726.4L1158.8 726.9L1159.2 727.1L1159.5 725.9L1159.8 726.7L1160.2 726.4L1160.5 726.1L1160.9 726.4L1161.2 726.5L1161.6 727L1161.9 726.1L1162.2 727L1162.6 727.3L1162.9 726.8L1163.3 726.8L1163.6 726.6L1163.9 726.2L1164.3 726.8L1164.6 726.8L1165 726.9L1165.3 727.5L1165.7 726.9L1166 726.8L1166.3 727.2L1166.7 726.2L1167 726.2L1167.4 726.5L1167.7 726.4L1168.1 726.9L1168.4 726.5L1168.7 727.2L1169.1 727.2L1169.4 726.9L1169.8 726.5L1170.1 726.9L1170.5 726.9L1170.8 726.3L1171.1 726.8L1171.5 726.9L1171.8 726.7L1172.2 727.2L1172.5 727.1L1172.9 726.3L1173.2 726.7L1173.5 726.3L1173.9 726.8L1174.2 726.3L1174.6 726.9L1174.9 726.7L1175.2 726.9L1175.6 726.6L1175.9 726.1L1176.3 727.2L1176.6 726.5L1177 727.1L1177.3 726.7L1177.6 726.8L1178 727.2L1178.3 726.7L1178.7 727.1L1179 726.1L1179.4 726.9L1179.7 726.5L1180 726.5L1180.4 726.6L1180.7 726.7L1181.1 727.1L1181.4 725.9L1181.8 726.5L1182.1 726.3L1182.4 726.9L1182.8 726.4L1183.1 726.7L1183.5 726.4L1183.8 726.7L1184.2 726.8L1184.5 726.3L1184.8 726.5L1185.2 726L1185.5 726.5L1185.9 726.7L1186.2 726.2L1186.6 726.8L1186.9 725.7L1187.2 725.7L1187.6 725.9L1187.9 726.2L1188.3 726.3L1188.6 726.3L1188.9 726.3L1189.3 726.5L1189.6 726.1L1190 725.8L1190.3 725.8L1190.7 727L1191 725.4L1191.3 726.1L1191.7 726.7L1192 726.3L1192.4 725.8L1192.7 726.1L1193.1 726.3L1193.4 726.4L1193.7 725.7L1194.1 726.2L1194.4 726L1194.8 726.2L1195.1 726.3L1195.5 725.6L1195.8 725.2L1196.1 725.8L1196.5 726.2L1196.8 725.8L1197.2 725.6L1197.5 726.3L1197.9 725L1198.2 725.6L1198.5 725L1198.9 725.1L1199.2 725L1199.6 725.4L1199.9 724.4L1200.2 724.4L1200.6 723.9L1200.9 724.4L1201.3 723.9L1201.6 723.9L1202 723.1L1202.3 722.9L1202.6 723L1203 722L1203.3 721.7L1203.7 720.9L1204 719.7L1204.4 718.2L1204.7 717.8L1205 716.1L1205.4 714.7L1205.7 711.7L1206.1 709.6L1206.4 707L1206.8 704.7L1207.1 702.4L1207.4 699L1207.8 695.4L1208.1 691.8L1208.5 688.3L1208.8 684.1L1209.2 680.5L1209.5 676.7L1209.8 672.4L1210.2 669.9L1210.5 667.8L1210.9 665.1L1211.2 663.7L1211.6 662.9L1211.9 663L1212.2 664.5L1212.6 665.7L1212.9 667.8L1213.3 669.9L1213.6 674.1L1213.9 677.1L1214.3 680.9L1214.6 685.7L1215 689.5L1215.3 692.3L1215.7 696.8L1216 700.1L1216.3 702.8L1216.7 706.2L1217 708L1217.4 710.5L1217.7 712.6L1218.1 714.5L1218.4 716.9L1218.7 717.5L1219.1 718.7L1219.4 719.8L1219.8 721.1L1220.1 721.6L1220.5 722.7L1220.8 722.6L1221.1 722.8L1221.5 723.5L1221.8 724L1222.2 723.9L1222.5 724.5L1222.9 725.2L1223.2 724.6L1223.5 724.9L1223.9 725.5L1224.2 724.9L1224.6 725L1224.9 725L1225.2 725.6L1225.6 725.7L1225.9 725.5L1226.3 725.7L1226.6 726.2L1227 726.1L1227.3 725.3L1227.6 725.9L1228 726L1228.3 726.2L1228.7 726L1229 725.8L1229.4 726L1229.7 725.5L1230 726.2L1230.4 726L1230.7 726.4L1231.1 725.9L1231.4 726.2L1231.8 726L1232.1 726L1232.4 726.6L1232.8 726.3L1233.1 726.6L1233.5 726.1L1233.8 726.5L1234.2 725.9L1234.5 726.4L1234.8 726.4L1235.2 726.8L1235.5 726.6L1235.9 726.5L1236.2 726.9L1236.6 726.7L1236.9 726.8L1237.2 726.9L1237.6 726.7L1237.9 726.6L1238.3 726.8L1238.6 726.6L1238.9 726.9L1239.3 727.1L1239.6 727L1240 726.6L1240.3 726.3L1240.7 726.8L1241 726.8L1241.3 727.2L1241.7 726.7L1242 726.8L1242.4 727.1L1242.7 726.7L1243.1 726.8L1243.4 727.5L1243.7 727.4L1244.1 727.1L1244.4 727L1244.8 726.6L1245.1 727.1L1245.5 726.9L1245.8 727L1246.1 726.7L1246.5 726.9L1246.8 726.9L1247.2 727.1L1247.5 727.4L1247.9 727.1L1248.2 726.4L1248.5 726.6L1248.9 726.4L1249.2 726.7L1249.6 727.2L1249.9 727.1L1250.3 726.8L1250.6 727.1L1250.9 726.7L1251.3 726.5L1251.6 726.5L1252 726.7L1252.3 727.5L1252.6 726.6L1253 727.5L1253.3 727.5L1253.7 727L1254 727L1254.4 726.8L1254.7 727.1L1255 727.3L1255.4 727.1L1255.7 727.4L1256.1 727.5L1256.4 727.2L1256.8 727.2L1257.1 727.1L1257.4 727.2L1257.8 726.7L1258.1 727.2L1258.5 727.2L1258.8 726.8L1259.2 727.9L1259.5 726.8L1259.8 726.8L1260.2 727.2L1260.5 726.5L1260.9 726.9L1261.2 726.6L1261.6 726.8L1261.9 727.1L1262.2 727.3L1262.6 727.5L1262.9 727.4L1263.3 727.6L1263.6 727.4L1263.9 727L1264.3 727.6L1264.6 727L1265 727L1265.3 727.7L1265.7 727.5L1266 727.3L1266.3 727.4L1266.7 727.5L1267 726.7L1267.4 727.2L1267.7 726.8L1268.1 727.2L1268.4 727L1268.7 727.7L1269.1 727.4L1269.4 726.9L1269.8 727.2L1270.1 726.8L1270.5 727.2L1270.8 727.4L1271.1 727.3L1271.5 726.6L1271.8 727.1L1272.2 727.4L1272.5 727.3L1272.9 727.6L1273.2 726.8L1273.5 727.4L1273.9 727L1274.2 727.3L1274.6 727.4L1274.9 727.5L1275.3 727.1L1275.6 727.3L1275.9 726.9L1276.3 726.8L1276.6 727.5L1277 727.2L1277.3 726.7L1277.6 727L1278 727.3L1278.3 727.8L1278.7 727.6L1279 727.6L1279.4 726.7L1279.7 727.3L1280 727.5L1280.4 727.4L1280.7 727.4L1281.1 727.2L1281.4 727.9L1281.8 727.8L1282.1 727.3L1282.4 727L1282.8 728L1283.1 727.1L1283.5 727.7L1283.8 728L1284.2 727L1284.5 727.4L1284.8 727.2L1285.2 727.5L1285.5 727.4L1285.9 728L1286.2 727.5L1286.6 727.3L1286.9 727.7L1287.2 727.2L1287.6 727.2L1287.9 728.1L1288.3 727.1L1288.6 727.2L1288.9 727.4L1289.3 727L1289.6 726.6L1290 727.7L1290.3 727.1L1290.7 727.2L1291 727.2L1291.3 727L1291.7 727L1292 727.4L1292.4 728.2L1292.7 727.6L1293.1 727.6L1293.4 726.8L1293.7 727.4L1294.1 727L1294.4 727.7L1294.8 727.3L1295.1 727.4L1295.5 727.4L1295.8 727.2L1296.1 726.9L1296.5 727.6L1296.8 726.9L1297.2 727L1297.5 727.3L1297.9 727.2L1298.2 727.5L1298.5 727.8L1298.9 727.5L1299.2 727.5L1299.6 727.4L1299.9 727.7L1300.3 726.8L1300.6 727.5L1300.9 727.1L1301.3 727L1301.6 727.4L1302 727.3L1302.3 727.6L1302.6 727.8L1303 726.6L1303.3 727.4L1303.7 728.1L1304 727.7L1304.4 727.9" fill="none" stroke="#5a74f2" stroke-width="1.8" stroke-linejoin="round"/>
<path d="M791 781L791.3 780.5L791.7 780.6L792 781.2L792.4 781.3L792.7 780.7L793.1 780.9L793.4 781.1L793.7 780.4L794.1 780.9L794.4 781.5L794.8 781.7L795.1 780.9L795.5 781.6L795.8 780.8L796.1 780.7L796.5 780.2L796.8 781.3L797.2 780.9L797.5 781.8L797.8 781.1L798.2 781.1L798.5 780.4L798.9 781.5L799.2 780.9L799.6 780.9L799.9 780.2L800.2 781.3L800.6 781.4L800.9 780.8L801.3 781L801.6 781.2L802 781.4L802.3 781.1L802.6 781.6L803 780.9L803.3 780.8L803.7 780.9L804 780.1L804.4 780.7L804.7 781.4L805 781.1L805.4 780.7L805.7 781.2L806.1 780.3L806.4 780.9L806.8 781.2L807.1 781.3L807.4 780.8L807.8 781.4L808.1 781.7L808.5 780.9L808.8 781.3L809.2 780.5L809.5 780.4L809.8 781.3L810.2 781.1L810.5 781.1L810.9 780.8L811.2 780.9L811.5 781.3L811.9 781.7L812.2 781L812.6 780.5L812.9 781.5L813.3 781.3L813.6 781.3L813.9 781.1L814.3 781.9L814.6 781.1L815 781.2L815.3 780.4L815.7 780.9L816 780.8L816.3 781L816.7 781.2L817 780.8L817.4 781.7L817.7 780.7L818.1 780.9L818.4 781.1L818.7 780.6L819.1 781.2L819.4 781.3L819.8 780.9L820.1 781.7L820.5 781.1L820.8 781.1L821.1 780.7L821.5 780.4L821.8 780.8L822.2 780.9L822.5 780.9L822.8 781.3L823.2 780.2L823.5 780.6L823.9 780.4L824.2 781.5L824.6 780.8L824.9 780.8L825.2 780.6L825.6 781.3L825.9 780.8L826.3 781L826.6 780.2L827 781.3L827.3 781L827.6 781.1L828 781.3L828.3 780.8L828.7 780.8L829 781.1L829.4 780.9L829.7 780.7L830 780.7L830.4 780.5L830.7 780.9L831.1 780.9L831.4 780.5L831.8 781.1L832.1 779.8L832.4 780.1L832.8 780.6L833.1 779.6L833.5 778.8L833.8 779.3L834.2 778.3L834.5 776.7L834.8 776.1L835.2 773.9L835.5 771.8L835.9 769.8L836.2 767.1L836.5 764.2L836.9 761.9L837.2 759.4L837.6 758.3L837.9 757.7L838.3 758.6L838.6 759.7L838.9 761.6L839.3 764.2L839.6 767.3L840 770.5L840.3 772.6L840.7 774.1L841 776.3L841.3 776.8L841.7 778.5L842 778.8L842.4 779.7L842.7 780L843.1 779.9L843.4 780.4L843.7 780L844.1 780.5L844.4 781L844.8 782.1L845.1 780.9L845.5 780.8L845.8 780.4L846.1 781.2L846.5 780.3L846.8 780.6L847.2 781.1L847.5 780.5L847.8 781.5L848.2 781.4L848.5 780.8L848.9 780.9L849.2 780.6L849.6 780.6L849.9 781.3L850.2 781.3L850.6 781.2L850.9 781.2L851.3 780.9L851.6 781.3L852 780.6L852.3 781.2L852.6 781.7L853 781.7L853.3 781L853.7 781.1L854 781.7L854.4 781.9L854.7 780.7L855 781.1L855.4 781.3L855.7 781.7L856.1 781L856.4 781.5L856.8 781.2L857.1 782.1L857.4 781.4L857.8 781.2L858.1 781.2L858.5 781.7L858.8 781.5L859.2 780.9L859.5 781.4L859.8 780.8L860.2 781L860.5 780.9L860.9 780.8L861.2 781.1L861.5 781L861.9 781.5L862.2 781.6L862.6 781.2L862.9 780.9L863.3 781.6L863.6 780.6L863.9 780.7L864.3 781.6L864.6 781.6L865 781.7L865.3 781.3L865.7 780.9L866 781.2L866.3 781.6L866.7 781.1L867 781.1L867.4 780.9L867.7 781L868.1 781.7L868.4 781.5L868.7 781L869.1 781L869.4 781.2L869.8 781.6L870.1 781L870.5 781.3L870.8 780.6L871.1 781L871.5 781.5L871.8 781.7L872.2 781L872.5 781.1L872.8 781.7L873.2 781.3L873.5 781.2L873.9 781.6L874.2 781.5L874.6 781.8L874.9 781.7L875.2 781.2L875.6 781.4L875.9 781.4L876.3 780.9L876.6 781.1L877 781.8L877.3 780.9L877.6 781.8L878 781.5L878.3 781.4L878.7 781.6L879 781.6L879.4 781.9L879.7 781.3L880 781.4L880.4 781.3L880.7 782.1L881.1 781.8L881.4 781.1L881.8 781.3L882.1 781.2L882.4 781.4L882.8 781.5L883.1 782.2L883.5 780.8L883.8 781.8L884.2 781.6L884.5 781.2L884.8 781.4L885.2 781.3L885.5 781.4L885.9 781.8L886.2 780.9L886.5 781.9L886.9 781.3L887.2 781.9L887.6 781.6L887.9 781.8L888.3 781.6L888.6 781.8L888.9 781.4L889.3 781.1L889.6 781.6L890 781.6L890.3 782.1L890.7 780.6L891 781.2L891.3 781.7L891.7 780.8L892 781.2L892.4 781.9L892.7 781.6L893.1 780.8L893.4 781.5L893.7 781.3L894.1 781L894.4 780.7L894.8 780.5L895.1 779.9L895.5 779.8L895.8 779.9L896.1 779.4L896.5 779.6L896.8 778.5L897.2 777.3L897.5 777.6L897.9 777.4L898.2 777L898.5 776.5L898.9 775.8L899.2 776.4L899.6 775.5L899.9 775.9L900.2 775.6L900.6 775.4L900.9 776.6L901.3 775.5L901.6 776.5L902 777.4L902.3 777.5L902.6 778.4L903 778.5L903.3 778.8L903.7 780.1L904 779.6L904.4 779.9L904.7 779.8L905 780.2L905.4 780.9L905.7 781L906.1 780.9L906.4 780.8L906.8 781.4L907.1 780.6L907.4 781.2L907.8 781.2L908.1 781.1L908.5 781.4L908.8 781.2L909.2 781.2L909.5 782.1L909.8 781.7L910.2 781.9L910.5 781.5L910.9 781.9L911.2 781.8L911.5 782L911.9 782.4L912.2 781.5L912.6 781.7L912.9 781.6L913.3 780.4L913.6 781.1L913.9 781.6L914.3 781.8L914.6 781.4L915 782L915.3 782.1L915.7 781.5L916 782.1L916.3 782.3L916.7 781.8L917 781.3L917.4 782.2L917.7 781.6L918.1 781.5L918.4 781.7L918.7 781.5L919.1 782.1L919.4 782L919.8 782.1L920.1 781.9L920.5 781.4L920.8 781.6L921.1 782L921.5 781.6L921.8 782.7L922.2 781.6L922.5 781.5L922.9 782.1L923.2 782L923.5 781.7L923.9 781.7L924.2 781.9L924.6 782L924.9 782L925.2 781.6L925.6 781.9L925.9 782L926.3 782L926.6 780.7L927 781.4L927.3 781.5L927.6 781.7L928 781.8L928.3 782.1L928.7 782L929 781.7L929.4 781.8L929.7 782.4L930 781.6L930.4 781.9L930.7 782.3L931.1 781.9L931.4 781.1L931.8 781.9L932.1 781.7L932.4 781.8L932.8 782.2L933.1 782L933.5 781.7L933.8 782.1L934.2 782L934.5 781.9L934.8 781.9L935.2 781.9L935.5 781.7L935.9 781.7L936.2 781.8L936.5 781.5L936.9 781.4L937.2 782.3L937.6 781.8L937.9 781.8L938.3 781.8L938.6 781.8L938.9 781.9L939.3 781.9L939.6 781.6L940 782.2L940.3 781.6L940.7 782.2L941 781.2L941.3 781.5L941.7 782.2L942 781.8L942.4 781.6L942.7 782L943.1 781.5L943.4 781.9L943.7 781.1L944.1 781.7L944.4 781.7L944.8 782.1L945.1 782.2L945.5 781.6L945.8 782.5L946.1 781.7L946.5 781.2L946.8 781.1L947.2 782.4L947.5 781.9L947.9 781.7L948.2 781.6L948.5 781.5L948.9 782.4L949.2 781.9L949.6 782.5L949.9 781.8L950.2 781.1L950.6 782.2L950.9 781.8L951.3 781.8L951.6 782.5L952 781.8L952.3 782.3L952.6 781.9L953 781.7L953.3 782.1L953.7 781.7L954 782.4L954.4 782.3L954.7 782L955 782.2L955.4 782.1L955.7 781.9L956.1 782.3L956.4 781.9L956.8 782.2L957.1 781.6L957.4 782L957.8 782.1L958.1 781.7L958.5 781.8L958.8 781.8L959.2 782.2L959.5 781.7L959.8 782.1L960.2 782.5L960.5 782.1L960.9 781.4L961.2 782L961.5 782.4L961.9 781.9L962.2 782.4L962.6 782.2L962.9 782.1L963.3 781.9L963.6 781.8L963.9 781.9L964.3 782L964.6 782.2L965 782.2L965.3 781.9L965.7 782L966 782.2L966.3 781.4L966.7 781.8L967 781.7L967.4 782L967.7 781.9L968.1 781.9L968.4 781.7L968.7 782.3L969.1 782.1L969.4 781.5L969.8 782L970.1 781.6L970.5 782.6L970.8 781.9L971.1 781.9L971.5 782.1L971.8 782L972.2 782L972.5 782.6L972.9 782.1L973.2 782.4L973.5 782.5L973.9 781.7L974.2 782.7L974.6 782.3L974.9 782.4L975.2 781.8L975.6 782.4L975.9 782.2L976.3 781.9L976.6 782.9L977 782.3L977.3 782L977.6 782.2L978 782.4L978.3 782.5L978.7 782.3L979 782.5L979.4 782.6L979.7 781.7L980 781.9L980.4 781.8L980.7 782.1L981.1 782.6L981.4 782.3L981.8 781.7L982.1 782L982.4 782.5L982.8 781.9L983.1 782.1L983.5 782.2L983.8 781.5L984.2 782.4L984.5 782.2L984.8 782.3L985.2 781.8L985.5 781.9L985.9 781.9L986.2 782.2L986.5 782.2L986.9 782.2L987.2 782.8L987.6 782.6L987.9 781.9L988.3 781.9L988.6 782.8L988.9 782L989.3 782.6L989.6 782.7L990 782L990.3 782.1L990.7 782.2L991 781.9L991.3 781.8L991.7 782L992 782.5L992.4 782L992.7 782.1L993.1 782L993.4 781.7L993.7 782.7L994.1 781.4L994.4 782L994.8 782.4L995.1 781.7L995.5 782.4L995.8 782.6L996.1 781.9L996.5 782.3L996.8 781.8L997.2 782.4L997.5 782.2L997.9 782.3L998.2 782.7L998.5 782.4L998.9 782.7L999.2 782.4L999.6 781.8L999.9 782.3L1000.2 782.4L1000.6 781.7L1000.9 782.7L1001.3 782.2L1001.6 782.4L1002 781.9L1002.3 782.3L1002.6 782.3L1003 782.1L1003.3 782.3L1003.7 781.5L1004 782.7L1004.4 781.9L1004.7 781.5L1005 781.9L1005.4 782L1005.7 782.4L1006.1 781.9L1006.4 782.4L1006.8 781.9L1007.1 783L1007.4 782.5L1007.8 782.9L1008.1 781.9L1008.5 782.5L1008.8 781.9L1009.2 782.5L1009.5 782.5L1009.8 781.7L1010.2 781.9L1010.5 781.9L1010.9 781.8L1011.2 782L1011.5 781.9L1011.9 781.8L1012.2 782.3L1012.6 782.5L1012.9 781.8L1013.3 782.1L1013.6 782.3L1013.9 782.2L1014.3 782.1L1014.6 782.6L1015 782.6L1015.3 782.5L1015.7 782.2L1016 783L1016.3 782.9L1016.7 782.2L1017 782.3L1017.4 782.7L1017.7 782L1018.1 782.5L1018.4 782.3L1018.7 782.1L1019.1 782.2L1019.4 781.8L1019.8 782.1L1020.1 781.6L1020.5 783.1L1020.8 782.9L1021.1 782.8L1021.5 782.4L1021.8 782.7L1022.2 782.8L1022.5 782.7L1022.9 782.7L1023.2 782L1023.5 782.5L1023.9 782.2L1024.2 781.9L1024.6 782L1024.9 782.5L1025.2 782.7L1025.6 781.9L1025.9 783L1026.3 782.9L1026.6 782.2L1027 782.2L1027.3 782.3L1027.6 782.7L1028 782.2L1028.3 782L1028.7 782.5L1029 781.7L1029.4 782.4L1029.7 782.8L1030 782.5L1030.4 782.7L1030.7 782.6L1031.1 782.6L1031.4 782.4L1031.8 782.1L1032.1 782.3L1032.4 782.4L1032.8 782.8L1033.1 783L1033.5 782.6L1033.8 782.1L1034.2 782.2L1034.5 782.3L1034.8 782.9L1035.2 782.5L1035.5 782.4L1035.9 782.2L1036.2 782.7L1036.5 782.5L1036.9 782.4L1037.2 782.5L1037.6 783L1037.9 782.4L1038.3 783L1038.6 782.9L1038.9 782.5L1039.3 782.7L1039.6 782.4L1040 782.2L1040.3 782.4L1040.7 782.1L1041 782.6L1041.3 782.5L1041.7 782.7L1042 782.7L1042.4 781.4L1042.7 782.6L1043.1 781.8L1043.4 782.5L1043.7 782.2L1044.1 782.5L1044.4 782.9L1044.8 781.9L1045.1 782.5L1045.5 782.4L1045.8 781.8L1046.1 782.7L1046.5 782.5L1046.8 782.3L1047.2 782.2L1047.5 783.6L1047.9 782.4L1048.2 781.9L1048.5 782.2L1048.9 782.4L1049.2 782.4L1049.6 782.5L1049.9 782.1L1050.2 782.7L1050.6 782.3L1050.9 782L1051.3 782.2L1051.6 782.4L1052 782.8L1052.3 782.7L1052.6 782.4L1053 782.5L1053.3 782.6L1053.7 783.2L1054 782.3L1054.4 782.7L1054.7 782.8L1055 782.2L1055.4 782.6L1055.7 782.6L1056.1 782.4L1056.4 782.7L1056.8 782.9L1057.1 782.9L1057.4 782.5L1057.8 782.6L1058.1 783.4L1058.5 782.2L1058.8 782.6L1059.2 782.9L1059.5 782.6L1059.8 782.8L1060.2 782.6L1060.5 782.8L1060.9 783L1061.2 782.5L1061.5 782.6L1061.9 782.5L1062.2 782.4L1062.6 782.6L1062.9 782.2L1063.3 782.8L1063.6 783.2L1063.9 783.2L1064.3 783L1064.6 782.2L1065 783.1L1065.3 782.3L1065.7 782.6L1066 783.2L1066.3 782.2L1066.7 782.9L1067 782.7L1067.4 782.5L1067.7 782.3L1068.1 782.8L1068.4 782.4L1068.7 783L1069.1 783L1069.4 782.1L1069.8 782.4L1070.1 782.5L1070.5 782.2L1070.8 782.2L1071.1 782.7L1071.5 782.5L1071.8 782L1072.2 782.4L1072.5 782.8L1072.9 782.2L1073.2 782.3L1073.5 783.2L1073.9 783.1L1074.2 782.1L1074.6 782.2L1074.9 782.8L1075.2 782.2L1075.6 782.6L1075.9 782.5L1076.3 782.8L1076.6 781.8L1077 781.9L1077.3 782.2L1077.6 783L1078 782.6L1078.3 782.1L1078.7 782.8L1079 782.9L1079.4 782.6L1079.7 782.6L1080 782.8L1080.4 783.1L1080.7 782.7L1081.1 782.9L1081.4 782.7L1081.8 782.5L1082.1 782.4L1082.4 782.8L1082.8 782.6L1083.1 782.6L1083.5 783L1083.8 782.9L1084.2 783L1084.5 782.1L1084.8 782.9L1085.2 782.5L1085.5 782.4L1085.9 782.4L1086.2 783.1L1086.6 783L1086.9 782.5L1087.2 782.3L1087.6 782.7L1087.9 782.6L1088.3 783.3L1088.6 782.2L1088.9 782.1L1089.3 782.6L1089.6 782.7L1090 782.8L1090.3 783L1090.7 783.5L1091 782.6L1091.3 782.5L1091.7 782.1L1092 782.8L1092.4 783L1092.7 782.6L1093.1 783.2L1093.4 782.8L1093.7 783.3L1094.1 782.9L1094.4 782.4L1094.8 782.5L1095.1 782.2L1095.5 782.1L1095.8 782.8L1096.1 783.1L1096.5 783.4L1096.8 782.7L1097.2 782.7L1097.5 782.4L1097.9 783.1L1098.2 782.9L1098.5 782.6L1098.9 783L1099.2 783L1099.6 782.1L1099.9 783L1100.2 782.8L1100.6 782.6L1100.9 782.6L1101.3 783.4L1101.6 783.3L1102 783.4L1102.3 782.4L1102.6 782.6L1103 783.1L1103.3 782.4L1103.7 782.5L1104 782.2L1104.4 783.5L1104.7 783.2L1105 783L1105.4 782.9L1105.7 782.7L1106.1 782.7L1106.4 783L1106.8 782.6L1107.1 783.2L1107.4 782.6L1107.8 782.5L1108.1 783.3L1108.5 782.8L1108.8 783L1109.2 782.7L1109.5 782L1109.8 783L1110.2 782.4L1110.5 783.2L1110.9 782.3L1111.2 782.2L1111.6 782.9L1111.9 783L1112.2 782.9L1112.6 782.4L1112.9 783.2L1113.3 782.3L1113.6 782.7L1113.9 782.6L1114.3 782.7L1114.6 783.2L1115 782.6L1115.3 783.1L1115.7 783.1L1116 782.3L1116.3 782.5L1116.7 782.7L1117 782.7L1117.4 783L1117.7 782.2L1118.1 783.1L1118.4 783.1L1118.7 782.8L1119.1 782.4L1119.4 782.9L1119.8 782.7L1120.1 783.1L1120.5 782.8L1120.8 783.1L1121.1 782.7L1121.5 783.4L1121.8 782.1L1122.2 782.5L1122.5 783.1L1122.9 782.4L1123.2 783.1L1123.5 782.5L1123.9 782.9L1124.2 782.6L1124.6 782.7L1124.9 783L1125.2 782.9L1125.6 782.8L1125.9 783.7L1126.3 782.9L1126.6 782.6L1127 783.2L1127.3 783.2L1127.6 783.3L1128 783.5L1128.3 782.6L1128.7 783.3L1129 783.3L1129.4 782.9L1129.7 783L1130 781.9L1130.4 782.7L1130.7 783.5L1131.1 782.3L1131.4 782.7L1131.8 783L1132.1 783.1L1132.4 783.5L1132.8 782.3L1133.1 782.9L1133.5 783.2L1133.8 782.4L1134.2 782.9L1134.5 783.6L1134.8 783.4L1135.2 783.1L1135.5 782L1135.9 782.8L1136.2 783L1136.6 782.8L1136.9 782.9L1137.2 784L1137.6 782.8L1137.9 782.5L1138.3 782.9L1138.6 782.7L1138.9 782.7L1139.3 782.8L1139.6 783L1140 782.8L1140.3 782.3L1140.7 782.6L1141 782.8L1141.3 782.4L1141.7 782.9L1142 782.7L1142.4 782L1142.7 782.4L1143.1 782.9L1143.4 782.7L1143.7 782.1L1144.1 782.3L1144.4 781.7L1144.8 781.3L1145.1 781.9L1145.5 781.8L1145.8 781.8L1146.1 781.5L1146.5 781.6L1146.8 781.3L1147.2 781.6L1147.5 781.7L1147.9 781.4L1148.2 781.7L1148.5 780.9L1148.9 781.3L1149.2 782.1L1149.6 782.3L1149.9 781.9L1150.2 781.8L1150.6 781.5L1150.9 782.2L1151.3 782.4L1151.6 781.7L1152 782.5L1152.3 782.5L1152.6 782.6L1153 782.1L1153.3 782.7L1153.7 782.1L1154 783.2L1154.4 782.8L1154.7 782.3L1155 783.3L1155.4 783.2L1155.7 782.6L1156.1 783.6L1156.4 782.5L1156.8 783L1157.1 783.3L1157.4 782.1L1157.8 783.3L1158.1 782.9L1158.5 783L1158.8 782.6L1159.2 783.1L1159.5 782.6L1159.8 782.7L1160.2 782.8L1160.5 782.6L1160.9 783.6L1161.2 782.5L1161.6 782.7L1161.9 782.9L1162.2 783L1162.6 783.3L1162.9 783.3L1163.3 782.9L1163.6 782.9L1163.9 783L1164.3 783.3L1164.6 783.3L1165 782.9L1165.3 782.3L1165.7 783.8L1166 783.4L1166.3 783.1L1166.7 783.2L1167 782.9L1167.4 782.7L1167.7 782.9L1168.1 783L1168.4 782.8L1168.7 782.5L1169.1 782.9L1169.4 783.2L1169.8 782.9L1170.1 783L1170.5 782.3L1170.8 783L1171.1 783L1171.5 782.6L1171.8 782.4L1172.2 783.2L1172.5 782.8L1172.9 783.2L1173.2 782.9L1173.5 783.3L1173.9 782.9L1174.2 782.5L1174.6 783L1174.9 782.9L1175.2 783.3L1175.6 782.9L1175.9 782.9L1176.3 783.3L1176.6 783.4L1177 783.3L1177.3 783.4L1177.6 783.2L1178 783.3L1178.3 783.3L1178.7 783.2L1179 783L1179.4 783.1L1179.7 783.8L1180 783L1180.4 782.9L1180.7 782.9L1181.1 783L1181.4 783.1L1181.8 782.6L1182.1 782.3L1182.4 783.1L1182.8 782.4L1183.1 783.1L1183.5 783L1183.8 783.4L1184.2 783.5L1184.5 783.1L1184.8 782.7L1185.2 782.5L1185.5 782.6L1185.9 782.9L1186.2 782.2L1186.6 782.9L1186.9 782.9L1187.2 783.1L1187.6 782.7L1187.9 782.9L1188.3 782.6L1188.6 782.7L1188.9 782.2L1189.3 782.8L1189.6 783.3L1190 782.8L1190.3 782.9L1190.7 782.4L1191 783.2L1191.3 782.4L1191.7 783L1192 782.7L1192.4 782.3L1192.7 783L1193.1 782.6L1193.4 782.6L1193.7 782.7L1194.1 782.5L1194.4 782.4L1194.8 782.6L1195.1 782.3L1195.5 782.4L1195.8 782.1L1196.1 781.8L1196.5 782L1196.8 782.1L1197.2 782.2L1197.5 782.5L1197.9 781.5L1198.2 782.1L1198.5 781.2L1198.9 781.5L1199.2 781.6L1199.6 780.9L1199.9 780.9L1200.2 781.5L1200.6 781.4L1200.9 781.1L1201.3 780.7L1201.6 781.5L1202 780.5L1202.3 779.9L1202.6 780.5L1203 779.7L1203.3 778.8L1203.7 778.7L1204 777.7L1204.4 777L1204.7 775.8L1205 774.2L1205.4 773.6L1205.7 771.7L1206.1 769.5L1206.4 767.7L1206.8 766.1L1207.1 763.2L1207.4 760.8L1207.8 758.2L1208.1 755.1L1208.5 751.5L1208.8 749.2L1209.2 746.2L1209.5 743.2L1209.8 740.7L1210.2 737.7L1210.5 735.7L1210.9 734.3L1211.2 732.4L1211.6 732.6L1211.9 732.7L1212.2 733.1L1212.6 734.8L1212.9 736.3L1213.3 738L1213.6 741.4L1213.9 744L1214.3 747L1214.6 750L1215 753.5L1215.3 756.2L1215.7 758.6L1216 761.8L1216.3 764.4L1216.7 766.2L1217 768.5L1217.4 770.4L1217.7 772L1218.1 773.8L1218.4 775.4L1218.7 776.8L1219.1 777.5L1219.4 778.3L1219.8 779L1220.1 779.7L1220.5 779.6L1220.8 780.3L1221.1 780.6L1221.5 780.7L1221.8 780.8L1222.2 781L1222.5 781.3L1222.9 781.1L1223.2 781.8L1223.5 781.8L1223.9 781.9L1224.2 782.1L1224.6 782.3L1224.9 781.9L1225.2 782.2L1225.6 781.7L1225.9 781.5L1226.3 781.7L1226.6 783L1227 781.8L1227.3 782.7L1227.6 783.1L1228 782.4L1228.3 783.2L1228.7 783.3L1229 783L1229.4 783.6L1229.7 783L1230 782.6L1230.4 783L1230.7 782.7L1231.1 782.4L1231.4 782.5L1231.8 783.7L1232.1 782.8L1232.4 783L1232.8 782.8L1233.1 783.1L1233.5 783L1233.8 782.9L1234.2 782.7L1234.5 782.6L1234.8 782.9L1235.2 783.2L1235.5 783.9L1235.9 783.5L1236.2 783.8L1236.6 783.4L1236.9 783.2L1237.2 782.7L1237.6 783.2L1237.9 782.5L1238.3 783.1L1238.6 783.8L1238.9 783.4L1239.3 783.7L1239.6 783.2L1240 782.8L1240.3 783.1L1240.7 783.2L1241 783.8L1241.3 784L1241.7 783.1L1242 783.2L1242.4 783.3L1242.7 783.3L1243.1 782.9L1243.4 783.4L1243.7 783.5L1244.1 783.5L1244.4 783L1244.8 783.4L1245.1 782.8L1245.5 783.8L1245.8 783.1L1246.1 783.3L1246.5 783.3L1246.8 783.3L1247.2 783.1L1247.5 782.9L1247.9 784.1L1248.2 783.6L1248.5 783.6L1248.9 784.2L1249.2 783.5L1249.6 783.7L1249.9 783.5L1250.3 783.9L1250.6 783.7L1250.9 783.6L1251.3 783.4L1251.6 783.6L1252 783.9L1252.3 782.8L1252.6 783.5L1253 783.4L1253.3 783.5L1253.7 782.9L1254 783.8L1254.4 783.3L1254.7 783.5L1255 783.4L1255.4 783L1255.7 783.4L1256.1 782.9L1256.4 783.3L1256.8 783.5L1257.1 783.6L1257.4 783.6L1257.8 783.6L1258.1 784.4L1258.5 783.8L1258.8 783.2L1259.2 783.4L1259.5 783.4L1259.8 783.6L1260.2 783.4L1260.5 783.3L1260.9 784.2L1261.2 783.7L1261.6 783.5L1261.9 783.6L1262.2 783.6L1262.6 784.2L1262.9 783.8L1263.3 784.1L1263.6 782.6L1263.9 783.8L1264.3 784.1L1264.6 784.4L1265 783.7L1265.3 783.1L1265.7 783.9L1266 783.5L1266.3 783.1L1266.7 783.5L1267 784.1L1267.4 784.1L1267.7 784L1268.1 783.3L1268.4 784.6L1268.7 783.3L1269.1 783.7L1269.4 783.2L1269.8 784.2L1270.1 783.9L1270.5 784L1270.8 783.8L1271.1 783.7L1271.5 783.8L1271.8 783.1L1272.2 784.1L1272.5 784.1L1272.9 783.6L1273.2 783.8L1273.5 783.9L1273.9 784.3L1274.2 783.9L1274.6 783.8L1274.9 783.6L1275.3 783.3L1275.6 783.6L1275.9 783.8L1276.3 783.7L1276.6 783.8L1277 784.1L1277.3 783.9L1277.6 783.9L1278 784L1278.3 783.9L1278.7 783.8L1279 784L1279.4 783.2L1279.7 784.3L1280 783.4L1280.4 784.1L1280.7 783.8L1281.1 784.2L1281.4 783.8L1281.8 783.5L1282.1 784.2L1282.4 783.9L1282.8 783.9L1283.1 783.9L1283.5 784.2L1283.8 784.1L1284.2 783.9L1284.5 783.3L1284.8 783.7L1285.2 783.9L1285.5 784.5L1285.9 784L1286.2 783.8L1286.6 784.3L1286.9 783.8L1287.2 783.9L1287.6 783.9L1287.9 783.4L1288.3 784.2L1288.6 784L1288.9 783.8L1289.3 783.5L1289.6 784L1290 784.4L1290.3 783.7L1290.7 783.5L1291 784L1291.3 783.3L1291.7 783.1L1292 783.7L1292.4 783.7L1292.7 783.8L1293.1 783.7L1293.4 784L1293.7 783.8L1294.1 783.7L1294.4 783.8L1294.8 784.1L1295.1 784.3L1295.5 784.2L1295.8 784.2L1296.1 782.8L1296.5 783.6L1296.8 783.8L1297.2 784L1297.5 783.4L1297.9 784.4L1298.2 784.1L1298.5 783.7L1298.9 784L1299.2 783.8L1299.6 783.7L1299.9 784.1L1300.3 783.8L1300.6 783.5L1300.9 783.7L1301.3 783.9L1301.6 783.6L1302 784.4L1302.3 783.6L1302.6 784.6L1303 784.3L1303.3 783.7L1303.7 784L1304 784.4L1304.4 783.9" fill="none" stroke="#5a9a1c" stroke-width="1.8" stroke-linejoin="round"/>
<path d="M791 837.1L791.3 837.5L791.7 838.2L792 837L792.4 837.7L792.7 837.5L793.1 837.5L793.4 837.4L793.7 837.4L794.1 837.9L794.4 837.7L794.8 837.2L795.1 838.1L795.5 837.1L795.8 837.8L796.1 837.6L796.5 838L796.8 837.7L797.2 837.9L797.5 837.5L797.8 837.9L798.2 837.7L798.5 838.3L798.9 837.3L799.2 838L799.6 837.7L799.9 837.6L800.2 837.4L800.6 837.7L800.9 837L801.3 837.1L801.6 837.8L802 837L802.3 838.1L802.6 837.5L803 837.7L803.3 837.6L803.7 837.7L804 837.5L804.4 837.5L804.7 837.5L805 838L805.4 838L805.7 838L806.1 837.7L806.4 837.5L806.8 837L807.1 837.8L807.4 837.9L807.8 837.5L808.1 837.9L808.5 838.1L808.8 837.6L809.2 838L809.5 837.7L809.8 837L810.2 837.4L810.5 837.5L810.9 837.8L811.2 837.3L811.5 837.5L811.9 837.3L812.2 837.6L812.6 837.6L812.9 838L813.3 837.9L813.6 837.7L813.9 837.7L814.3 837.7L814.6 837.7L815 838.2L815.3 836.8L815.7 837.6L816 837.7L816.3 838L816.7 837.2L817 837.7L817.4 837.9L817.7 837.5L818.1 837L818.4 837.5L818.7 837.2L819.1 837.8L819.4 837.3L819.8 838.2L820.1 837.7L820.5 837.3L820.8 837.4L821.1 837.2L821.5 837.7L821.8 838.1L822.2 837.5L822.5 837.9L822.8 837.3L823.2 837.7L823.5 838.4L823.9 837.1L824.2 838L824.6 838L824.9 836.9L825.2 837.1L825.6 837.2L825.9 837.9L826.3 837.4L826.6 837.5L827 837.7L827.3 837.5L827.6 837.6L828 837.3L828.3 837.8L828.7 837.1L829 838L829.4 837.2L829.7 837L830 837.5L830.4 837.4L830.7 836.5L831.1 837.2L831.4 836.6L831.8 836.7L832.1 837.2L832.4 836.5L832.8 836.7L833.1 836.2L833.5 836.6L833.8 835.4L834.2 834.3L834.5 833.3L834.8 832.1L835.2 830.9L835.5 828.8L835.9 826.8L836.2 824L836.5 821.2L836.9 818.7L837.2 816.3L837.6 815L837.9 814.6L838.3 815.2L838.6 816.2L838.9 818L839.3 821L839.6 824.1L840 825.7L840.3 828.7L840.7 831L841 832.3L841.3 833.4L841.7 835.4L842 836L842.4 835.9L842.7 836.8L843.1 837.1L843.4 836.4L843.7 837.9L844.1 836.7L844.4 837.1L844.8 836.8L845.1 837.3L845.5 836.9L845.8 837.4L846.1 837.8L846.5 837.5L846.8 837.4L847.2 838.1L847.5 837.2L847.8 837.9L848.2 837.5L848.5 837.7L848.9 837.7L849.2 837.7L849.6 837.7L849.9 837.4L850.2 837.5L850.6 837.9L850.9 837.7L851.3 837.3L851.6 837.5L852 837.5L852.3 837.7L852.6 837.8L853 837.8L853.3 837.6L853.7 837.8L854 837.3L854.4 836.8L854.7 837.8L855 837.2L855.4 837.5L855.7 837.4L856.1 838.1L856.4 837.4L856.8 838L857.1 837.7L857.4 837.4L857.8 837.3L858.1 838L858.5 838L858.8 838.2L859.2 838.5L859.5 838L859.8 838L860.2 837.9L860.5 837.9L860.9 837.8L861.2 837.6L861.5 838.6L861.9 837.3L862.2 838L862.6 838.1L862.9 838L863.3 837.6L863.6 837.9L863.9 837.8L864.3 837.6L864.6 837.9L865 837.8L865.3 837.8L865.7 838.2L866 837.6L866.3 838.1L866.7 837.7L867 838.1L867.4 838L867.7 838L868.1 837.6L868.4 837.7L868.7 837.7L869.1 838L869.4 838.2L869.8 838.4L870.1 837.8L870.5 838L870.8 837.4L871.1 837.2L871.5 837.7L871.8 837.8L872.2 837.5L872.5 837.4L872.8 838.2L873.2 837.7L873.5 837.4L873.9 838.8L874.2 838.1L874.6 837.9L874.9 838.2L875.2 837.7L875.6 838.6L875.9 837.5L876.3 837.6L876.6 838L877 837.7L877.3 838.5L877.6 837.5L878 837.8L878.3 838.1L878.7 838.2L879 838.4L879.4 838.1L879.7 838.8L880 837.9L880.4 838.1L880.7 838.3L881.1 837.9L881.4 837.9L881.8 837.9L882.1 837.8L882.4 837.6L882.8 837.8L883.1 837.5L883.5 838.2L883.8 837.5L884.2 838.7L884.5 838.6L884.8 838.4L885.2 837.9L885.5 837.8L885.9 838.4L886.2 838.1L886.5 838.2L886.9 837.8L887.2 838.4L887.6 837.7L887.9 838L888.3 837.4L888.6 837.8L888.9 838.2L889.3 837.8L889.6 837.8L890 838.2L890.3 837.9L890.7 838.4L891 837.1L891.3 838.1L891.7 838L892 837.3L892.4 837.3L892.7 838L893.1 837.3L893.4 837.4L893.7 837.7L894.1 837.2L894.4 837.4L894.8 836.7L895.1 836.9L895.5 836.9L895.8 836.4L896.1 835.2L896.5 835.8L896.8 835.2L897.2 834.4L897.5 834.8L897.9 833.3L898.2 834.1L898.5 832.8L898.9 833.3L899.2 832.4L899.6 831.8L899.9 832.2L900.2 832.4L900.6 832.6L900.9 833L901.3 832.7L901.6 833.6L902 834.1L902.3 834.2L902.6 834.4L903 834.8L903.3 835.8L903.7 836.2L904 836L904.4 836.1L904.7 837.2L905 836.5L905.4 837.3L905.7 837.1L906.1 836.9L906.4 837.7L906.8 837.7L907.1 838.3L907.4 838.7L907.8 837.9L908.1 838.3L908.5 838.4L908.8 837.8L909.2 837.7L909.5 838.6L909.8 838L910.2 838.1L910.5 838L910.9 838.1L911.2 837.9L911.5 838.4L911.9 838.6L912.2 838L912.6 837.7L912.9 838.2L913.3 837.7L913.6 838L913.9 838.6L914.3 839L914.6 838.4L915 837.9L915.3 838.5L915.7 837.5L916 838L916.3 838.8L916.7 838.5L917 837.8L917.4 837.7L917.7 838.6L918.1 838.3L918.4 838.1L918.7 838.4L919.1 838.1L919.4 837.6L919.8 838.6L920.1 838.1L920.5 838L920.8 837.8L921.1 838.4L921.5 838L921.8 838.5L922.2 838.2L922.5 838.7L922.9 838.2L923.2 838.1L923.5 837.7L923.9 838L924.2 838.6L924.6 839.4L924.9 837.9L925.2 838L925.6 838.5L925.9 838.5L926.3 838.1L926.6 838.4L927 837.8L927.3 838.3L927.6 838.7L928 839L928.3 838.3L928.7 838.3L929 838.5L929.4 838.8L929.7 838.6L930 838.1L930.4 838.5L930.7 838.7L931.1 838.2L931.4 837.9L931.8 838.6L932.1 838.5L932.4 838.8L932.8 838.5L933.1 838.2L933.5 838.3L933.8 838.1L934.2 838.1L934.5 838.2L934.8 838.3L935.2 838.8L935.5 838L935.9 838.4L936.2 838.2L936.5 839L936.9 838.5L937.2 838.3L937.6 838.7L937.9 838.5L938.3 838.3L938.6 839L938.9 838.7L939.3 839.1L939.6 838.9L940 838.7L940.3 838.5L940.7 838.1L941 838.7L941.3 838.5L941.7 838.7L942 838.5L942.4 838.3L942.7 838.2L943.1 838.7L943.4 839L943.7 838.4L944.1 838.7L944.4 839L944.8 838.2L945.1 838.4L945.5 838.1L945.8 838.9L946.1 838.6L946.5 838.4L946.8 838L947.2 838.5L947.5 838.9L947.9 838.4L948.2 838.4L948.5 838.8L948.9 838.1L949.2 838.6L949.6 838.8L949.9 838.3L950.2 838.3L950.6 838.6L950.9 838.5L951.3 838.5L951.6 838.6L952 838.6L952.3 838.3L952.6 838.3L953 838.7L953.3 839L953.7 839.1L954 838.3L954.4 839L954.7 838.9L955 838.6L955.4 838.8L955.7 838.9L956.1 839.2L956.4 838.2L956.8 838.8L957.1 838.6L957.4 838.5L957.8 839L958.1 838.9L958.5 838.3L958.8 838.5L959.2 838.7L959.5 838.1L959.8 838.9L960.2 838.6L960.5 838.7L960.9 838.8L961.2 839.3L961.5 838.7L961.9 838.5L962.2 839.2L962.6 838.5L962.9 838.5L963.3 838.2L963.6 839L963.9 838.8L964.3 838.8L964.6 838.7L965 838.6L965.3 838.4L965.7 838.4L966 838.8L966.3 838.7L966.7 839.2L967 838.4L967.4 838.5L967.7 838.3L968.1 839.2L968.4 838.3L968.7 839L969.1 839.2L969.4 838.6L969.8 838.9L970.1 838L970.5 838.6L970.8 838.1L971.1 838.8L971.5 838.7L971.8 838.4L972.2 839L972.5 838.8L972.9 838.5L973.2 838.5L973.5 838.2L973.9 838.7L974.2 839.5L974.6 838.5L974.9 838.9L975.2 838.5L975.6 839L975.9 838.9L976.3 838.7L976.6 838.1L977 838.6L977.3 839.2L977.6 838.7L978 839L978.3 838.6L978.7 838.1L979 838.9L979.4 838.9L979.7 838.6L980 838.6L980.4 838.9L980.7 838.6L981.1 838.9L981.4 838.7L981.8 838L982.1 838.7L982.4 838.6L982.8 838.5L983.1 838.9L983.5 838.6L983.8 839L984.2 839.2L984.5 838.9L984.8 838.3L985.2 838.6L985.5 839.1L985.9 838.7L986.2 838.5L986.5 838.8L986.9 839L987.2 838.9L987.6 839L987.9 838.5L988.3 838.7L988.6 838.7L988.9 838.8L989.3 838.1L989.6 838.8L990 838.4L990.3 839.3L990.7 839.4L991 839.4L991.3 839.1L991.7 838.7L992 839.2L992.4 838.8L992.7 839.1L993.1 838.5L993.4 838.7L993.7 839L994.1 839.5L994.4 838.9L994.8 839.7L995.1 839.8L995.5 838.4L995.8 838.9L996.1 838.6L996.5 838.8L996.8 838.7L997.2 838.9L997.5 839.2L997.9 839.2L998.2 839L998.5 838.9L998.9 838.9L999.2 838.9L999.6 839.1L999.9 838.9L1000.2 839.1L1000.6 838.5L1000.9 839.2L1001.3 839.5L1001.6 839L1002 838.4L1002.3 839.4L1002.6 838.8L1003 837.9L1003.3 838.9L1003.7 839.1L1004 839.1L1004.4 839.4L1004.7 839.2L1005 839L1005.4 838.3L1005.7 838.6L1006.1 839L1006.4 839.2L1006.8 838.6L1007.1 838.7L1007.4 839.1L1007.8 838.3L1008.1 838.3L1008.5 838.9L1008.8 839.1L1009.2 838.8L1009.5 838.2L1009.8 839L1010.2 838.5L1010.5 839.2L1010.9 838.9L1011.2 839.1L1011.5 839.2L1011.9 838.8L1012.2 839.3L1012.6 839.4L1012.9 839.1L1013.3 839.5L1013.6 838.8L1013.9 839.3L1014.3 839.1L1014.6 838.7L1015 839L1015.3 838.8L1015.7 838.8L1016 839L1016.3 839.4L1016.7 838.9L1017 839.1L1017.4 838.5L1017.7 839.1L1018.1 839.4L1018.4 839.3L1018.7 839.2L1019.1 838.9L1019.4 838.7L1019.8 839L1020.1 838.6L1020.5 838.6L1020.8 839.4L1021.1 838.7L1021.5 839.7L1021.8 838.6L1022.2 839.2L1022.5 838.7L1022.9 839.1L1023.2 838.7L1023.5 839.1L1023.9 839L1024.2 838.9L1024.6 839.3L1024.9 839.6L1025.2 838.9L1025.6 839.4L1025.9 839.1L1026.3 839.1L1026.6 839.9L1027 838.3L1027.3 838.9L1027.6 838.5L1028 839L1028.3 839L1028.7 840.4L1029 839.2L1029.4 839.7L1029.7 839.6L1030 839L1030.4 839.3L1030.7 839.7L1031.1 839.2L1031.4 839.2L1031.8 839.3L1032.1 838.6L1032.4 838.8L1032.8 839.3L1033.1 839.3L1033.5 838.8L1033.8 839L1034.2 839.1L1034.5 839.1L1034.8 839.4L1035.2 839.2L1035.5 839.2L1035.9 838.7L1036.2 838.8L1036.5 839.3L1036.9 838.6L1037.2 839.3L1037.6 838.9L1037.9 838.9L1038.3 839.4L1038.6 838.9L1038.9 838.9L1039.3 838.9L1039.6 839.2L1040 840.1L1040.3 838.4L1040.7 839.2L1041 839.1L1041.3 839.5L1041.7 839.1L1042 838.3L1042.4 839.7L1042.7 838.8L1043.1 839.2L1043.4 838.7L1043.7 838.8L1044.1 839L1044.4 839.5L1044.8 839.5L1045.1 839L1045.5 839.4L1045.8 839.1L1046.1 839.3L1046.5 839.3L1046.8 839.4L1047.2 839L1047.5 839.2L1047.9 839.3L1048.2 839.3L1048.5 839L1048.9 839.8L1049.2 839.1L1049.6 839.5L1049.9 839.3L1050.2 839.7L1050.6 838.5L1050.9 840L1051.3 839.2L1051.6 838.8L1052 839.3L1052.3 840L1052.6 839.4L1053 838.8L1053.3 839.1L1053.7 839.7L1054 838.8L1054.4 839.2L1054.7 839.2L1055 840L1055.4 839.2L1055.7 839.7L1056.1 839L1056.4 839L1056.8 839.6L1057.1 839.5L1057.4 838.7L1057.8 839.5L1058.1 839.5L1058.5 839.1L1058.8 839.4L1059.2 839.4L1059.5 839.1L1059.8 839.1L1060.2 839.1L1060.5 839.2L1060.9 838.9L1061.2 839.3L1061.5 838.8L1061.9 839.3L1062.2 839.3L1062.6 839L1062.9 839.6L1063.3 840L1063.6 839.8L1063.9 838.9L1064.3 839.8L1064.6 839.4L1065 839.3L1065.3 839.1L1065.7 839.3L1066 839.8L1066.3 839.5L1066.7 839.2L1067 839.1L1067.4 839.2L1067.7 839.6L1068.1 840L1068.4 839L1068.7 839.4L1069.1 839.2L1069.4 839.1L1069.8 839.5L1070.1 839.6L1070.5 838.9L1070.8 839L1071.1 839.8L1071.5 839.5L1071.8 839.6L1072.2 839.2L1072.5 839.3L1072.9 839.6L1073.2 839.2L1073.5 839L1073.9 839.4L1074.2 839.7L1074.6 839L1074.9 839.8L1075.2 839.7L1075.6 839.1L1075.9 839.4L1076.3 839.4L1076.6 839.6L1077 839.7L1077.3 839L1077.6 839L1078 839.8L1078.3 839.5L1078.7 839.6L1079 839.5L1079.4 840L1079.7 839L1080 839.8L1080.4 839.2L1080.7 839.7L1081.1 839.9L1081.4 839L1081.8 839.6L1082.1 839.4L1082.4 839.4L1082.8 839.5L1083.1 839.1L1083.5 839.1L1083.8 839.7L1084.2 839.8L1084.5 839.3L1084.8 839L1085.2 840.3L1085.5 839.9L1085.9 839.6L1086.2 839.1L1086.6 839.3L1086.9 839.6L1087.2 839.2L1087.6 840L1087.9 839.5L1088.3 839.6L1088.6 839.1L1088.9 839.2L1089.3 839.2L1089.6 839.6L1090 839.4L1090.3 839.4L1090.7 839.6L1091 839.6L1091.3 840L1091.7 839.4L1092 839.2L1092.4 839.5L1092.7 840L1093.1 839.3L1093.4 839.5L1093.7 839.4L1094.1 839.7L1094.4 839.6L1094.8 839.3L1095.1 839.5L1095.5 839.9L1095.8 839.9L1096.1 839.9L1096.5 839.8L1096.8 839.4L1097.2 839.4L1097.5 839.9L1097.9 839.2L1098.2 839.5L1098.5 838.9L1098.9 839.4L1099.2 839.3L1099.6 839.2L1099.9 839.8L1100.2 839.3L1100.6 839.4L1100.9 839.5L1101.3 839.3L1101.6 840.1L1102 839.4L1102.3 839.7L1102.6 839.1L1103 839.4L1103.3 839.5L1103.7 839.5L1104 839.4L1104.4 839.6L1104.7 840.1L1105 839.6L1105.4 839.6L1105.7 839.5L1106.1 840.5L1106.4 840.2L1106.8 839.8L1107.1 839.9L1107.4 839.4L1107.8 839.6L1108.1 839.7L1108.5 839.7L1108.8 839.3L1109.2 839.4L1109.5 839.8L1109.8 839.7L1110.2 838.9L1110.5 839.7L1110.9 840.1L1111.2 839.4L1111.6 839.7L1111.9 839.1L1112.2 839.9L1112.6 839.3L1112.9 839.2L1113.3 839.5L1113.6 840.5L1113.9 839.4L1114.3 839.2L1114.6 839.8L1115 839.7L1115.3 840.2L1115.7 839.2L1116 839.1L1116.3 839.6L1116.7 839.8L1117 839.8L1117.4 840L1117.7 839.2L1118.1 839.4L1118.4 839.6L1118.7 840L1119.1 839.8L1119.4 839.5L1119.8 839.3L1120.1 840L1120.5 840L1120.8 840.6L1121.1 839.6L1121.5 840.3L1121.8 839.3L1122.2 839.5L1122.5 839.5L1122.9 839.5L1123.2 839.4L1123.5 839.5L1123.9 839.7L1124.2 839.6L1124.6 839.9L1124.9 839.7L1125.2 839.7L1125.6 840.2L1125.9 839.8L1126.3 839.8L1126.6 839.7L1127 839.7L1127.3 839.9L1127.6 839.4L1128 840.1L1128.3 840.3L1128.7 840.1L1129 839.6L1129.4 839.2L1129.7 839.6L1130 839.8L1130.4 840L1130.7 839.7L1131.1 839.6L1131.4 840.3L1131.8 839.5L1132.1 840.1L1132.4 840L1132.8 839.3L1133.1 839.8L1133.5 839.5L1133.8 839.4L1134.2 839.1L1134.5 839.2L1134.8 839.9L1135.2 839.6L1135.5 839.8L1135.9 839.4L1136.2 839.6L1136.6 839.6L1136.9 839.2L1137.2 839.1L1137.6 839.8L1137.9 839.7L1138.3 839.3L1138.6 839.6L1138.9 839.9L1139.3 840.2L1139.6 839.3L1140 839.8L1140.3 840.3L1140.7 839.5L1141 839.9L1141.3 838.5L1141.7 839.8L1142 839.3L1142.4 838.6L1142.7 839.4L1143.1 839.4L1143.4 839.4L1143.7 839.3L1144.1 838.8L1144.4 838.5L1144.8 838.5L1145.1 838.6L1145.5 838.6L1145.8 838.3L1146.1 838.4L1146.5 838.6L1146.8 838.4L1147.2 839L1147.5 839L1147.9 837.9L1148.2 838.1L1148.5 837.9L1148.9 838L1149.2 838.6L1149.6 838.2L1149.9 838.2L1150.2 838.6L1150.6 839.1L1150.9 838.7L1151.3 838.8L1151.6 839.4L1152 839.3L1152.3 839.4L1152.6 839.6L1153 839L1153.3 839.5L1153.7 839.2L1154 839.9L1154.4 839.8L1154.7 839.2L1155 840.1L1155.4 839.3L1155.7 840.1L1156.1 839.8L1156.4 839.4L1156.8 839.4L1157.1 839.7L1157.4 839.8L1157.8 839.6L1158.1 840L1158.5 839.3L1158.8 839.8L1159.2 839.8L1159.5 839.2L1159.8 839.9L1160.2 839.4L1160.5 839L1160.9 839.6L1161.2 839.8L1161.6 840.2L1161.9 839.7L1162.2 840.4L1162.6 840.4L1162.9 840.3L1163.3 840.3L1163.6 840L1163.9 839.7L1164.3 840.1L1164.6 840.2L1165 840L1165.3 839.8L1165.7 839.4L1166 840.1L1166.3 840L1166.7 839.4L1167 839.9L1167.4 840.1L1167.7 839.9L1168.1 840.2L1168.4 840.2L1168.7 839.4L1169.1 839.8L1169.4 840.1L1169.8 840.2L1170.1 840.4L1170.5 839.2L1170.8 839.9L1171.1 840.2L1171.5 840.3L1171.8 840.5L1172.2 839.6L1172.5 839.8L1172.9 839.5L1173.2 840.2L1173.5 839.4L1173.9 840.3L1174.2 840.2L1174.6 840.1L1174.9 839.2L1175.2 839.7L1175.6 840.2L1175.9 839.4L1176.3 839.8L1176.6 839.9L1177 840.2L1177.3 840L1177.6 840L1178 839.7L1178.3 839.9L1178.7 839.8L1179 840.1L1179.4 839.8L1179.7 840.2L1180 839.3L1180.4 840.3L1180.7 839.8L1181.1 840.3L1181.4 839.9L1181.8 840.2L1182.1 840.4L1182.4 839.7L1182.8 839.9L1183.1 839.8L1183.5 839.9L1183.8 839.3L1184.2 839.8L1184.5 839.7L1184.8 839.5L1185.2 839.7L1185.5 839.3L1185.9 840.3L1186.2 839.9L1186.6 840.4L1186.9 839.5L1187.2 839.4L1187.6 839.8L1187.9 839.2L1188.3 839.8L1188.6 839.5L1188.9 839.6L1189.3 839.8L1189.6 839.7L1190 840.3L1190.3 839.9L1190.7 839.2L1191 840L1191.3 839.1L1191.7 839.6L1192 839.1L1192.4 839.3L1192.7 840L1193.1 839.3L1193.4 839.3L1193.7 839.3L1194.1 839.3L1194.4 839.9L1194.8 839L1195.1 838.9L1195.5 839.5L1195.8 838.7L1196.1 839.1L1196.5 839.6L1196.8 839.1L1197.2 838.9L1197.5 838.8L1197.9 838.7L1198.2 838.7L1198.5 838.9L1198.9 839.2L1199.2 839L1199.6 838.4L1199.9 838.3L1200.2 838.6L1200.6 837.6L1200.9 838L1201.3 837.8L1201.6 837.3L1202 837.1L1202.3 837.3L1202.6 836.3L1203 836.1L1203.3 835.7L1203.7 835.3L1204 834.1L1204.4 834.1L1204.7 832.7L1205 831.5L1205.4 830.2L1205.7 828.5L1206.1 826.7L1206.4 825.5L1206.8 823L1207.1 820.6L1207.4 818.4L1207.8 815.1L1208.1 812.7L1208.5 809.5L1208.8 806.2L1209.2 803.8L1209.5 800.1L1209.8 798.1L1210.2 795.1L1210.5 793.4L1210.9 792L1211.2 790.6L1211.6 789.7L1211.9 790L1212.2 790.6L1212.6 791.6L1212.9 793.5L1213.3 796.1L1213.6 798.9L1213.9 800.9L1214.3 804.4L1214.6 807.7L1215 810.5L1215.3 813.1L1215.7 816.6L1216 818.5L1216.3 821.6L1216.7 824.3L1217 825.1L1217.4 827.8L1217.7 829.4L1218.1 830.9L1218.4 831.8L1218.7 833.1L1219.1 833.6L1219.4 835L1219.8 835.8L1220.1 835.9L1220.5 836.3L1220.8 836.9L1221.1 837.4L1221.5 837.7L1221.8 837.9L1222.2 838.1L1222.5 837.8L1222.9 837.5L1223.2 838.8L1223.5 839.2L1223.9 838.3L1224.2 838.6L1224.6 839.1L1224.9 839.4L1225.2 839.3L1225.6 839.6L1225.9 839.2L1226.3 839.4L1226.6 839.5L1227 839.2L1227.3 839.8L1227.6 839.7L1228 839.8L1228.3 839.4L1228.7 839.9L1229 839.3L1229.4 839.8L1229.7 838.8L1230 839.4L1230.4 840L1230.7 839.6L1231.1 839.9L1231.4 839.3L1231.8 840.4L1232.1 840.1L1232.4 839.9L1232.8 840L1233.1 840L1233.5 840.4L1233.8 840L1234.2 839.5L1234.5 839.9L1234.8 840.5L1235.2 840.2L1235.5 839.9L1235.9 840.3L1236.2 840.1L1236.6 840.3L1236.9 839.6L1237.2 839.8L1237.6 840.4L1237.9 840.1L1238.3 840.3L1238.6 840.8L1238.9 840.1L1239.3 840.3L1239.6 840L1240 840L1240.3 840.2L1240.7 839.7L1241 839.5L1241.3 840.7L1241.7 840.2L1242 840.6L1242.4 840.3L1242.7 840.3L1243.1 840.5L1243.4 840.5L1243.7 839.9L1244.1 840.7L1244.4 840L1244.8 840.4L1245.1 841.2L1245.5 840.4L1245.8 840.9L1246.1 840.2L1246.5 840.6L1246.8 840.4L1247.2 840.5L1247.5 840.1L1247.9 840.1L1248.2 840.5L1248.5 839.9L1248.9 840.1L1249.2 840.6L1249.6 840.2L1249.9 840.1L1250.3 840L1250.6 840.5L1250.9 840.3L1251.3 840.5L1251.6 840.4L1252 841.1L1252.3 840.3L1252.6 839.8L1253 840.5L1253.3 840.5L1253.7 840.5L1254 839.9L1254.4 840.9L1254.7 840.5L1255 840.5L1255.4 840L1255.7 840.7L1256.1 840.5L1256.4 841L1256.8 840.4L1257.1 840.1L1257.4 840.6L1257.8 840.2L1258.1 840.7L1258.5 840.2L1258.8 840.5L1259.2 840.5L1259.5 840.5L1259.8 840.4L1260.2 840.3L1260.5 840.5L1260.9 840.4L1261.2 840.6L1261.6 840.5L1261.9 839.8L1262.2 840.6L1262.6 841.1L1262.9 840.7L1263.3 840.8L1263.6 840.7L1263.9 840.4L1264.3 840.1L1264.6 840.9L1265 841L1265.3 840.8L1265.7 840.8L1266 840.7L1266.3 840.6L1266.7 840.7L1267 840.6L1267.4 840.7L1267.7 840.3L1268.1 840.4L1268.4 840.8L1268.7 840.5L1269.1 839.8L1269.4 840.7L1269.8 839.9L1270.1 841.3L1270.5 840.9L1270.8 840.9L1271.1 840.4L1271.5 840.3L1271.8 840.6L1272.2 840.7L1272.5 840.4L1272.9 840.7L1273.2 840.9L1273.5 840.9L1273.9 840.3L1274.2 840L1274.6 840.7L1274.9 840.5L1275.3 840.9L1275.6 841.3L1275.9 841.3L1276.3 840.8L1276.6 841.1L1277 841.3L1277.3 840.7L1277.6 840.8L1278 841L1278.3 840.7L1278.7 840.6L1279 840.5L1279.4 840.7L1279.7 840.5L1280 841L1280.4 840.6L1280.7 841.2L1281.1 841.2L1281.4 840.3L1281.8 841.1L1282.1 840.6L1282.4 841.2L1282.8 840.9L1283.1 840.8L1283.5 841L1283.8 840.6L1284.2 840.9L1284.5 840.9L1284.8 840.7L1285.2 840.9L1285.5 840.5L1285.9 841L1286.2 840.4L1286.6 841L1286.9 841L1287.2 841L1287.6 840.6L1287.9 841.8L1288.3 840.7L1288.6 840.9L1288.9 840.6L1289.3 841.3L1289.6 840.7L1290 841.2L1290.3 840.5L1290.7 840.9L1291 840.7L1291.3 841.2L1291.7 840.8L1292 840.6L1292.4 841L1292.7 840.5L1293.1 840.5L1293.4 841.1L1293.7 840.2L1294.1 841.1L1294.4 840.7L1294.8 840.6L1295.1 841L1295.5 841.1L1295.8 840.7L1296.1 840.8L1296.5 841.2L1296.8 841.1L1297.2 840.9L1297.5 840.6L1297.9 840.6L1298.2 840.7L1298.5 841.1L1298.9 841.1L1299.2 841L1299.6 841.4L1299.9 840.8L1300.3 840.8L1300.6 840.8L1300.9 841.6L1301.3 840.3L1301.6 841L1302 841.1L1302.3 841L1302.6 841.7L1303 841.3L1303.3 841.2L1303.7 840.7L1304 841.1L1304.4 840.8" fill="none" stroke="#f4a467" stroke-width="1.8" stroke-linejoin="round"/>
<path d="M791 895L791.3 895L791.7 894.8L792 895.2L792.4 895.5L792.7 895.3L793.1 895.1L793.4 894.4L793.7 895.3L794.1 895.3L794.4 894.9L794.8 894.8L795.1 895.2L795.5 894.7L795.8 895.3L796.1 894.7L796.5 894.7L796.8 895L797.2 894.5L797.5 895L797.8 895.2L798.2 894.6L798.5 895.3L798.9 894.8L799.2 895.2L799.6 895.1L799.9 894.9L800.2 894.9L800.6 894.5L800.9 894.8L801.3 894.8L801.6 895.6L802 895.4L802.3 894.6L802.6 895.3L803 895.1L803.3 894.9L803.7 895.2L804 895.3L804.4 894.9L804.7 895L805 895.1L805.4 894.7L805.7 895.1L806.1 895L806.4 894.8L806.8 894.8L807.1 895.2L807.4 895.4L807.8 895.2L808.1 894.8L808.5 895.3L808.8 895.1L809.2 895.3L809.5 895.5L809.8 894.8L810.2 895L810.5 894.9L810.9 894.8L811.2 895.7L811.5 895.4L811.9 894.5L812.2 895.2L812.6 894.9L812.9 895.5L813.3 895.1L813.6 895L813.9 895.1L814.3 895.2L814.6 895.1L815 895L815.3 895.1L815.7 895.3L816 894.7L816.3 895.1L816.7 895.1L817 894.9L817.4 895.3L817.7 894.7L818.1 895L818.4 894.8L818.7 895.3L819.1 894.9L819.4 895.1L819.8 895.2L820.1 894.6L820.5 895.2L820.8 894.8L821.1 895L821.5 895L821.8 895.3L822.2 895.3L822.5 895.7L822.8 895.1L823.2 894.9L823.5 894.9L823.9 895.3L824.2 895.6L824.6 895.2L824.9 894.9L825.2 895.1L825.6 895.1L825.9 895L826.3 894.8L826.6 894.2L827 894.8L827.3 895.3L827.6 895L828 894.2L828.3 894.9L828.7 894.3L829 895.5L829.4 894.9L829.7 894.4L830 895L830.4 894.5L830.7 894.9L831.1 894.6L831.4 894.2L831.8 894.7L832.1 893.9L832.4 894.7L832.8 894.1L833.1 893.5L833.5 892.9L833.8 893.5L834.2 892.7L834.5 890.9L834.8 890.6L835.2 888.5L835.5 886.4L835.9 884.2L836.2 881.6L836.5 879.5L836.9 876.5L837.2 873.7L837.6 873.5L837.9 872.6L838.3 872.5L838.6 874.2L838.9 876.2L839.3 879.1L839.6 881.9L840 884.3L840.3 886.4L840.7 888.2L841 890.4L841.3 891.3L841.7 893L842 892.8L842.4 893.8L842.7 893.9L843.1 893.9L843.4 894.8L843.7 894.5L844.1 894.3L844.4 894.5L844.8 895.1L845.1 894.4L845.5 895.3L845.8 895.1L846.1 894.8L846.5 895.4L846.8 895.6L847.2 895.2L847.5 895.1L847.8 895.7L848.2 895.6L848.5 894.8L848.9 895.1L849.2 895.1L849.6 895L849.9 894.7L850.2 895.5L850.6 895.2L850.9 895.2L851.3 895.7L851.6 895L852 895.2L852.3 895.3L852.6 895.1L853 895.2L853.3 895.5L853.7 895.3L854 895.7L854.4 895.1L854.7 895.4L855 894.8L855.4 895.3L855.7 895.1L856.1 895.8L856.4 895.6L856.8 895.5L857.1 896L857.4 895.8L857.8 895.6L858.1 895.1L858.5 894.9L858.8 895.4L859.2 895.3L859.5 895.2L859.8 895.3L860.2 894.8L860.5 895.9L860.9 895L861.2 895.2L861.5 895.6L861.9 894.9L862.2 895.7L862.6 895.7L862.9 895.3L863.3 895.1L863.6 895.3L863.9 894.8L864.3 895.9L864.6 895.5L865 895.2L865.3 895.1L865.7 895.6L866 895.9L866.3 895L866.7 895.3L867 894.9L867.4 895.7L867.7 895.5L868.1 896.2L868.4 895.4L868.7 895.3L869.1 895.2L869.4 895.8L869.8 894.9L870.1 895.7L870.5 895.6L870.8 895.3L871.1 895.2L871.5 895.8L871.8 896.1L872.2 895.3L872.5 895.7L872.8 896.1L873.2 895.3L873.5 895.4L873.9 895.1L874.2 895.5L874.6 895.5L874.9 895.4L875.2 895.3L875.6 895L875.9 895.1L876.3 895.2L876.6 895.7L877 895.4L877.3 895.2L877.6 895.7L878 895.7L878.3 895.3L878.7 895.3L879 895.8L879.4 895.7L879.7 895.3L880 895.6L880.4 895.5L880.7 895.9L881.1 895.2L881.4 895.8L881.8 895.7L882.1 895.2L882.4 895.9L882.8 895.8L883.1 895.1L883.5 896.2L883.8 895.2L884.2 895.2L884.5 895.4L884.8 895.8L885.2 895.7L885.5 895.5L885.9 896L886.2 895.7L886.5 896L886.9 896.5L887.2 895.6L887.6 894.7L887.9 895.4L888.3 895.1L888.6 895.5L888.9 895.5L889.3 895.1L889.6 895.1L890 895.4L890.3 895.4L890.7 894.6L891 895.8L891.3 895.4L891.7 895.4L892 895.4L892.4 895L892.7 895.2L893.1 895.5L893.4 895.5L893.7 895.2L894.1 894.8L894.4 894.4L894.8 895L895.1 894.5L895.5 893.9L895.8 893L896.1 893.2L896.5 892.4L896.8 893.1L897.2 892.3L897.5 891.6L897.9 891.3L898.2 891.9L898.5 891L898.9 889.8L899.2 889.9L899.6 889.4L899.9 889.1L900.2 889.8L900.6 890.8L900.9 890.7L901.3 890.5L901.6 890.8L902 891.4L902.3 892.1L902.6 891.7L903 892L903.3 893.7L903.7 893.5L904 894.3L904.4 894.1L904.7 894.8L905 894.4L905.4 894.9L905.7 895.5L906.1 895.4L906.4 895L906.8 895.6L907.1 895.1L907.4 894.9L907.8 895.6L908.1 896L908.5 895.8L908.8 895.1L909.2 895.9L909.5 895.8L909.8 895.4L910.2 894.8L910.5 896L910.9 896L911.2 895.8L911.5 895.1L911.9 895.2L912.2 896L912.6 896L912.9 895.9L913.3 895.6L913.6 895.9L913.9 895.5L914.3 895.6L914.6 895.4L915 895.8L915.3 895.6L915.7 896.1L916 896L916.3 895.5L916.7 896.4L917 895.4L917.4 895.9L917.7 896.2L918.1 896.2L918.4 895L918.7 896.2L919.1 896.2L919.4 896.3L919.8 895L920.1 895.6L920.5 895.8L920.8 895.7L921.1 896.3L921.5 895.6L921.8 896.3L922.2 896L922.5 895.3L922.9 895.5L923.2 895.7L923.5 895.9L923.9 896.2L924.2 895.8L924.6 896.2L924.9 895.3L925.2 894.8L925.6 895.8L925.9 896L926.3 895.8L926.6 895.5L927 896L927.3 896.6L927.6 895.9L928 895.6L928.3 895.6L928.7 896.6L929 895.9L929.4 896.1L929.7 896.3L930 896.3L930.4 895.6L930.7 896.3L931.1 896.2L931.4 896.1L931.8 896.3L932.1 895.7L932.4 895.9L932.8 895.8L933.1 896.2L933.5 895.7L933.8 896.1L934.2 895.6L934.5 895.9L934.8 895.8L935.2 895.9L935.5 896L935.9 895.9L936.2 895.9L936.5 895.2L936.9 896.4L937.2 895.8L937.6 895.9L937.9 895.7L938.3 896.3L938.6 895.7L938.9 896.2L939.3 896.4L939.6 896.6L940 896.4L940.3 896.2L940.7 895.6L941 896.5L941.3 896.4L941.7 896.3L942 896.3L942.4 896L942.7 895.8L943.1 896.4L943.4 896.5L943.7 895.7L944.1 896.3L944.4 896.1L944.8 896.3L945.1 896.1L945.5 896.4L945.8 896.4L946.1 896.4L946.5 895.6L946.8 896.3L947.2 896.1L947.5 895.7L947.9 896.3L948.2 895.6L948.5 896.4L948.9 896.7L949.2 895.9L949.6 896.4L949.9 896.2L950.2 896.3L950.6 895.6L950.9 896.3L951.3 896.1L951.6 896.3L952 896.1L952.3 896.5L952.6 896.2L953 896.3L953.3 896.6L953.7 896.2L954 896.5L954.4 896.2L954.7 896.3L955 895.9L955.4 896.4L955.7 896.5L956.1 896.1L956.4 896.4L956.8 896.3L957.1 895.7L957.4 896.3L957.8 896.6L958.1 896L958.5 895.5L958.8 896.2L959.2 895.9L959.5 896.8L959.8 896.1L960.2 896.2L960.5 895.9L960.9 896.2L961.2 896L961.5 895.9L961.9 896.1L962.2 895.9L962.6 896.6L962.9 895.8L963.3 896.1L963.6 895.9L963.9 895.7L964.3 896.8L964.6 895.5L965 896.7L965.3 895.7L965.7 896.2L966 897L966.3 895.5L966.7 895.7L967 896.7L967.4 896.3L967.7 896L968.1 896.2L968.4 895.9L968.7 896.3L969.1 896.7L969.4 896.1L969.8 896.3L970.1 896.6L970.5 896.9L970.8 896L971.1 896.3L971.5 896L971.8 896L972.2 896.1L972.5 896L972.9 895.6L973.2 895.6L973.5 896L973.9 896.3L974.2 896.7L974.6 896.1L974.9 896.2L975.2 896.5L975.6 896.5L975.9 896.2L976.3 896.2L976.6 896.9L977 896.2L977.3 896.1L977.6 895.7L978 896.4L978.3 896.2L978.7 896.9L979 896.2L979.4 896.6L979.7 896.6L980 896.9L980.4 895.8L980.7 896.8L981.1 896.3L981.4 896.3L981.8 896.2L982.1 896.2L982.4 896.2L982.8 895.5L983.1 896.5L983.5 896.3L983.8 896L984.2 896.3L984.5 897.1L984.8 896.5L985.2 896.2L985.5 896.9L985.9 896.1L986.2 896.3L986.5 896.1L986.9 896.3L987.2 896.6L987.6 896.5L987.9 896.1L988.3 896.3L988.6 896.4L988.9 896.2L989.3 896.3L989.6 896.1L990 896.1L990.3 896.4L990.7 896L991 896.5L991.3 896.3L991.7 896.1L992 896.2L992.4 896.2L992.7 896.3L993.1 896.4L993.4 896.3L993.7 896.1L994.1 896.9L994.4 896.7L994.8 896.4L995.1 896.7L995.5 896.5L995.8 896.3L996.1 896.4L996.5 897.3L996.8 896.7L997.2 896.8L997.5 896.3L997.9 896.6L998.2 897.2L998.5 896.6L998.9 896.8L999.2 896.8L999.6 896.6L999.9 897L1000.2 896.5L1000.6 896.6L1000.9 896.2L1001.3 897.3L1001.6 896.5L1002 896.5L1002.3 896.9L1002.6 896.3L1003 896.4L1003.3 896.2L1003.7 896.5L1004 896.3L1004.4 896.6L1004.7 896.4L1005 896.3L1005.4 896.4L1005.7 896.4L1006.1 896.3L1006.4 896.8L1006.8 896.7L1007.1 896.5L1007.4 896.1L1007.8 896.7L1008.1 896L1008.5 896.5L1008.8 896.5L1009.2 896.3L1009.5 896.2L1009.8 896.3L1010.2 897.2L1010.5 896.4L1010.9 896.4L1011.2 896.8L1011.5 896.6L1011.9 896.9L1012.2 896.1L1012.6 896.1L1012.9 897.6L1013.3 896.5L1013.6 896.4L1013.9 896.6L1014.3 896.9L1014.6 896.1L1015 896.6L1015.3 896.5L1015.7 896.8L1016 896.6L1016.3 896.4L1016.7 896.2L1017 895.7L1017.4 896.9L1017.7 896L1018.1 896.4L1018.4 897.1L1018.7 896.4L1019.1 896.8L1019.4 896.5L1019.8 896.8L1020.1 896.6L1020.5 896.4L1020.8 897L1021.1 896.5L1021.5 896.1L1021.8 896.5L1022.2 896.8L1022.5 896.2L1022.9 896.8L1023.2 896.8L1023.5 897.3L1023.9 896.4L1024.2 896.8L1024.6 896L1024.9 896.5L1025.2 896.6L1025.6 896.7L1025.9 896.6L1026.3 896.6L1026.6 896.4L1027 896.5L1027.3 896.7L1027.6 896.8L1028 896.8L1028.3 897L1028.7 897L1029 896L1029.4 896.4L1029.7 896.6L1030 896.4L1030.4 897L1030.7 896.9L1031.1 896.6L1031.4 896.7L1031.8 897.1L1032.1 896.5L1032.4 896.5L1032.8 897L1033.1 896.8L1033.5 897.1L1033.8 896.8L1034.2 896.9L1034.5 896.5L1034.8 896.3L1035.2 896.7L1035.5 895.8L1035.9 896.8L1036.2 897L1036.5 896.7L1036.9 896.6L1037.2 897L1037.6 896.7L1037.9 897L1038.3 897.4L1038.6 896.9L1038.9 897L1039.3 896.9L1039.6 896.8L1040 896.8L1040.3 896.7L1040.7 897.1L1041 896.2L1041.3 896.6L1041.7 896.9L1042 896.4L1042.4 896.7L1042.7 896.5L1043.1 896.9L1043.4 897L1043.7 897.2L1044.1 896.9L1044.4 896.5L1044.8 896.8L1045.1 896.9L1045.5 897.2L1045.8 896L1046.1 896.9L1046.5 896.1L1046.8 897L1047.2 896.9L1047.5 896.9L1047.9 897L1048.2 896.9L1048.5 896.5L1048.9 896.9L1049.2 897.2L1049.6 896.7L1049.9 896.8L1050.2 896.4L1050.6 897.2L1050.9 896.6L1051.3 896.5L1051.6 896.6L1052 896.5L1052.3 896.7L1052.6 897.2L1053 897L1053.3 897.3L1053.7 897.3L1054 896.5L1054.4 897L1054.7 897.3L1055 897.6L1055.4 896.3L1055.7 896.3L1056.1 897L1056.4 896.7L1056.8 896.5L1057.1 896.9L1057.4 896.5L1057.8 896.1L1058.1 896.8L1058.5 896.9L1058.8 897L1059.2 897.1L1059.5 896.9L1059.8 896.7L1060.2 896.6L1060.5 896.3L1060.9 896.7L1061.2 897.2L1061.5 897.1L1061.9 897.5L1062.2 896.8L1062.6 896.2L1062.9 897.1L1063.3 897.2L1063.6 896.5L1063.9 896.3L1064.3 896.9L1064.6 897.1L1065 896.5L1065.3 896.7L1065.7 896.6L1066 896.5L1066.3 896.4L1066.7 896.9L1067 896.7L1067.4 896.7L1067.7 896L1068.1 897.5L1068.4 896.6L1068.7 896.8L1069.1 896.5L1069.4 897L1069.8 896.4L1070.1 896.9L1070.5 896.8L1070.8 897.2L1071.1 896.5L1071.5 896.7L1071.8 896.8L1072.2 897.6L1072.5 896.4L1072.9 897L1073.2 896.7L1073.5 897L1073.9 897.1L1074.2 897L1074.6 897L1074.9 897L1075.2 896.7L1075.6 896.9L1075.9 896.4L1076.3 896.8L1076.6 896.7L1077 896.9L1077.3 897.2L1077.6 897.1L1078 897.1L1078.3 897.3L1078.7 896.1L1079 897.1L1079.4 896.9L1079.7 896.9L1080 896.5L1080.4 897.1L1080.7 897.3L1081.1 897.3L1081.4 896.9L1081.8 897.2L1082.1 897.3L1082.4 897.6L1082.8 897.4L1083.1 897L1083.5 897L1083.8 897L1084.2 897.1L1084.5 896.8L1084.8 897.2L1085.2 896.8L1085.5 896.7L1085.9 897.1L1086.2 896.8L1086.6 896.9L1086.9 896.3L1087.2 897.3L1087.6 897L1087.9 897L1088.3 897.2L1088.6 897.1L1088.9 896.8L1089.3 897.7L1089.6 896.9L1090 897.3L1090.3 897.6L1090.7 896.8L1091 897.1L1091.3 896.8L1091.7 897.4L1092 896.9L1092.4 896.7L1092.7 897.5L1093.1 897.3L1093.4 896.7L1093.7 897.4L1094.1 897.1L1094.4 898L1094.8 897.6L1095.1 896.9L1095.5 897L1095.8 896.8L1096.1 897.1L1096.5 897.1L1096.8 897.3L1097.2 897.1L1097.5 896.6L1097.9 896.8L1098.2 897.5L1098.5 897.5L1098.9 897L1099.2 897L1099.6 897L1099.9 897.1L1100.2 896.5L1100.6 897.4L1100.9 896.9L1101.3 897.1L1101.6 896.2L1102 897.2L1102.3 897.5L1102.6 896.3L1103 897.6L1103.3 897.3L1103.7 896.9L1104 896.6L1104.4 897.5L1104.7 897.2L1105 897.3L1105.4 897L1105.7 896.8L1106.1 897.4L1106.4 896.8L1106.8 897.4L1107.1 896.6L1107.4 896.8L1107.8 896.6L1108.1 897.6L1108.5 896.5L1108.8 896.8L1109.2 897.4L1109.5 897.2L1109.8 897.9L1110.2 897.8L1110.5 897.4L1110.9 897.4L1111.2 896.5L1111.6 896.9L1111.9 897L1112.2 897.1L1112.6 896.7L1112.9 896.8L1113.3 896.9L1113.6 897.5L1113.9 897.3L1114.3 897.1L1114.6 897.1L1115 897.3L1115.3 896.9L1115.7 897.1L1116 896.6L1116.3 897.4L1116.7 897.5L1117 897.3L1117.4 897.3L1117.7 897.3L1118.1 897.9L1118.4 897.3L1118.7 896.7L1119.1 896.8L1119.4 897.4L1119.8 897.6L1120.1 897.5L1120.5 897.5L1120.8 897.3L1121.1 896.7L1121.5 897L1121.8 896.6L1122.2 897.1L1122.5 896.8L1122.9 897.2L1123.2 897.2L1123.5 896.6L1123.9 897.5L1124.2 897.5L1124.6 896.8L1124.9 897.3L1125.2 897.5L1125.6 897.1L1125.9 897.5L1126.3 897.3L1126.6 897.6L1127 897.3L1127.3 897.2L1127.6 897.4L1128 897.5L1128.3 897.3L1128.7 897.1L1129 897L1129.4 897.1L1129.7 897L1130 897.3L1130.4 897.3L1130.7 897.2L1131.1 897.2L1131.4 897.3L1131.8 897.8L1132.1 897.6L1132.4 897L1132.8 897.4L1133.1 897.1L1133.5 897.2L1133.8 897.2L1134.2 897L1134.5 896.8L1134.8 896.4L1135.2 897.3L1135.5 897.6L1135.9 896.9L1136.2 897.4L1136.6 897.1L1136.9 897.3L1137.2 896.9L1137.6 897.1L1137.9 897.1L1138.3 896.4L1138.6 897.2L1138.9 897.1L1139.3 896.3L1139.6 897.3L1140 897.1L1140.3 897.1L1140.7 897.1L1141 896.8L1141.3 896.5L1141.7 896.7L1142 896.6L1142.4 897.5L1142.7 897.3L1143.1 896.4L1143.4 896.4L1143.7 896.5L1144.1 896.5L1144.4 896L1144.8 895.8L1145.1 896.7L1145.5 896.4L1145.8 895.4L1146.1 895.3L1146.5 895.5L1146.8 895.9L1147.2 895.9L1147.5 895.6L1147.9 895.2L1148.2 895.9L1148.5 896L1148.9 895.9L1149.2 895.8L1149.6 896.2L1149.9 896.1L1150.2 895.8L1150.6 896.3L1150.9 895.9L1151.3 896.8L1151.6 896.7L1152 896.3L1152.3 896.8L1152.6 897.2L1153 896.1L1153.3 896.9L1153.7 897.5L1154 896.5L1154.4 897L1154.7 896.6L1155 897.1L1155.4 896.3L1155.7 896.6L1156.1 897L1156.4 897.3L1156.8 897.4L1157.1 897.4L1157.4 897.7L1157.8 897.5L1158.1 897.6L1158.5 897L1158.8 897.3L1159.2 898.4L1159.5 898.1L1159.8 897.6L1160.2 897.6L1160.5 897.7L1160.9 897.2L1161.2 898L1161.6 897.2L1161.9 897.3L1162.2 898.1L1162.6 896.7L1162.9 897.5L1163.3 896.8L1163.6 897.2L1163.9 897.3L1164.3 897.3L1164.6 897.4L1165 897.1L1165.3 897.4L1165.7 897L1166 897.3L1166.3 896.9L1166.7 897.6L1167 896.9L1167.4 897.6L1167.7 897.3L1168.1 897.3L1168.4 897.8L1168.7 897.4L1169.1 896.7L1169.4 897.6L1169.8 896.4L1170.1 897.5L1170.5 897.3L1170.8 896.9L1171.1 897.4L1171.5 897.3L1171.8 898.1L1172.2 897.3L1172.5 898.1L1172.9 897.9L1173.2 897.2L1173.5 897.1L1173.9 897.9L1174.2 897.4L1174.6 897.5L1174.9 897.3L1175.2 897L1175.6 897.3L1175.9 897.1L1176.3 896.9L1176.6 897.3L1177 898L1177.3 898L1177.6 897.4L1178 897.4L1178.3 897.6L1178.7 897.9L1179 897.5L1179.4 897.2L1179.7 897.2L1180 897.8L1180.4 898.3L1180.7 897.1L1181.1 896.6L1181.4 897.6L1181.8 897.3L1182.1 897.4L1182.4 897.8L1182.8 897.4L1183.1 896.9L1183.5 896.6L1183.8 897.3L1184.2 896.9L1184.5 897.4L1184.8 896.9L1185.2 897.2L1185.5 896.8L1185.9 897.2L1186.2 897.1L1186.6 897.5L1186.9 897.7L1187.2 897.2L1187.6 896.9L1187.9 897.9L1188.3 897.3L1188.6 897.4L1188.9 897.4L1189.3 897.7L1189.6 897.5L1190 897.4L1190.3 897.4L1190.7 896.8L1191 896.9L1191.3 897.1L1191.7 897.1L1192 897.1L1192.4 897.1L1192.7 897L1193.1 896.8L1193.4 896.4L1193.7 897.2L1194.1 897.1L1194.4 896.6L1194.8 897L1195.1 897L1195.5 896.8L1195.8 896.1L1196.1 896.3L1196.5 896.5L1196.8 897.2L1197.2 896.3L1197.5 896.4L1197.9 896.1L1198.2 896.2L1198.5 896.5L1198.9 895.5L1199.2 895.2L1199.6 896.3L1199.9 896L1200.2 895.7L1200.6 896.1L1200.9 895.9L1201.3 894.7L1201.6 895.1L1202 895.3L1202.3 894.4L1202.6 894.2L1203 894.2L1203.3 893.3L1203.7 892.4L1204 891.8L1204.4 890.7L1204.7 890.4L1205 888.4L1205.4 888.1L1205.7 885.6L1206.1 884.4L1206.4 882L1206.8 880.2L1207.1 878.3L1207.4 875.8L1207.8 873.1L1208.1 869.7L1208.5 866.8L1208.8 863.8L1209.2 860.9L1209.5 857.6L1209.8 855.3L1210.2 852.5L1210.5 850.7L1210.9 848.7L1211.2 847.7L1211.6 846.6L1211.9 846.8L1212.2 847.3L1212.6 849L1212.9 850.8L1213.3 853.5L1213.6 855.4L1213.9 859.8L1214.3 861.6L1214.6 865.1L1215 868.1L1215.3 869.8L1215.7 873.4L1216 876.7L1216.3 877.9L1216.7 881.3L1217 882.8L1217.4 884.9L1217.7 886.8L1218.1 887.6L1218.4 889.6L1218.7 890.4L1219.1 891.3L1219.4 892.6L1219.8 894.3L1220.1 893.8L1220.5 894.3L1220.8 894.5L1221.1 894.6L1221.5 895.3L1221.8 895.9L1222.2 895.7L1222.5 896.1L1222.9 895.9L1223.2 897L1223.5 895.6L1223.9 896.5L1224.2 896.6L1224.6 896.6L1224.9 896.2L1225.2 896.2L1225.6 896.6L1225.9 896.8L1226.3 896.4L1226.6 896.5L1227 897.1L1227.3 897.3L1227.6 896.8L1228 896.8L1228.3 896.8L1228.7 898L1229 897.3L1229.4 897.1L1229.7 897.6L1230 898L1230.4 897.7L1230.7 896.8L1231.1 897.3L1231.4 897.2L1231.8 897.2L1232.1 897L1232.4 897.3L1232.8 897L1233.1 897.6L1233.5 897.5L1233.8 897L1234.2 896.9L1234.5 897.3L1234.8 897.8L1235.2 897.7L1235.5 897.5L1235.9 896.4L1236.2 897.4L1236.6 897.3L1236.9 897.5L1237.2 897.2L1237.6 897.5L1237.9 897.4L1238.3 898.6L1238.6 897.9L1238.9 897.6L1239.3 897.7L1239.6 897.7L1240 897.8L1240.3 897.6L1240.7 897.7L1241 898.1L1241.3 898.1L1241.7 897.9L1242 898.2L1242.4 897.9L1242.7 897.4L1243.1 897.2L1243.4 897.6L1243.7 897.8L1244.1 898L1244.4 898.2L1244.8 897.6L1245.1 897.6L1245.5 898.1L1245.8 898.3L1246.1 897.7L1246.5 898L1246.8 898.4L1247.2 898L1247.5 897.9L1247.9 897.2L1248.2 898.4L1248.5 898.1L1248.9 898L1249.2 897.8L1249.6 897.5L1249.9 897.9L1250.3 897.9L1250.6 898.3L1250.9 897.5L1251.3 898.5L1251.6 898L1252 898.4L1252.3 897.6L1252.6 898.1L1253 898.4L1253.3 898L1253.7 897.5L1254 897.9L1254.4 898.2L1254.7 897.5L1255 897.5L1255.4 898.1L1255.7 897.7L1256.1 898.3L1256.4 897.6L1256.8 897.4L1257.1 897.8L1257.4 898.6L1257.8 897.7L1258.1 898L1258.5 898.1L1258.8 897.7L1259.2 898.4L1259.5 898.1L1259.8 898.2L1260.2 897.5L1260.5 897.5L1260.9 897.1L1261.2 898L1261.6 898L1261.9 898.3L1262.2 898.6L1262.6 898L1262.9 898L1263.3 898.3L1263.6 898.6L1263.9 897.8L1264.3 898.3L1264.6 898L1265 898L1265.3 898.4L1265.7 897.9L1266 897.8L1266.3 898.4L1266.7 898.1L1267 898.1L1267.4 898.1L1267.7 898.3L1268.1 898L1268.4 898.4L1268.7 898.3L1269.1 898.7L1269.4 898.6L1269.8 898.5L1270.1 898.1L1270.5 898.2L1270.8 898L1271.1 899.2L1271.5 898.1L1271.8 898.4L1272.2 898.7L1272.5 897.7L1272.9 897.9L1273.2 898.1L1273.5 897.9L1273.9 897.8L1274.2 898L1274.6 898.7L1274.9 898.5L1275.3 898.2L1275.6 898.2L1275.9 897.6L1276.3 898.5L1276.6 898.4L1277 897.9L1277.3 898.3L1277.6 898.2L1278 898.1L1278.3 897.9L1278.7 898L1279 897.9L1279.4 898.4L1279.7 898.4L1280 898.4L1280.4 898.2L1280.7 898.1L1281.1 899L1281.4 897.6L1281.8 898.7L1282.1 898.4L1282.4 898.3L1282.8 898.1L1283.1 898.2L1283.5 897.9L1283.8 897.8L1284.2 898.3L1284.5 897.7L1284.8 898.6L1285.2 898.7L1285.5 897.1L1285.9 897.8L1286.2 898.4L1286.6 898.4L1286.9 898.4L1287.2 898.5L1287.6 898.6L1287.9 898.6L1288.3 899L1288.6 898.3L1288.9 898.6L1289.3 897.8L1289.6 898.3L1290 897.9L1290.3 898.8L1290.7 899.2L1291 898.5L1291.3 897.9L1291.7 898.3L1292 898.4L1292.4 898.4L1292.7 898.8L1293.1 898.7L1293.4 897.4L1293.7 898.9L1294.1 898.2L1294.4 898.2L1294.8 898.9L1295.1 898.3L1295.5 897.9L1295.8 897.9L1296.1 898.4L1296.5 898.7L1296.8 898.9L1297.2 898.3L1297.5 898.2L1297.9 899L1298.2 898.3L1298.5 898.9L1298.9 898.5L1299.2 898.5L1299.6 898.3L1299.9 898.5L1300.3 898.3L1300.6 898.2L1300.9 898.4L1301.3 898.2L1301.6 898.5L1302 898.5L1302.3 898.4L1302.6 898.4L1303 898.4L1303.3 899.1L1303.7 898.5L1304 898.3L1304.4 898.4" fill="none" stroke="#f06a6a" stroke-width="1.8" stroke-linejoin="round"/>
<rect x="791" y="525.2" width="513.4000000000001" height="404.0999999999999" fill="none" stroke="#000" stroke-width="2"/>
<line x1="791" y1="929.3" x2="791" y2="937.3" stroke="#000" stroke-width="2"/>
<text transform="translate(791 965) scale(1 1.03)" font-size="26" text-anchor="middle">1200</text>
<line x1="848.04" y1="929.3" x2="848.04" y2="933.8" stroke="#000" stroke-width="2"/>
<line x1="905.08" y1="929.3" x2="905.08" y2="937.3" stroke="#000" stroke-width="2"/>
<text transform="translate(905.08 965) scale(1 1.03)" font-size="26" text-anchor="middle">1600</text>
<line x1="962.12" y1="929.3" x2="962.12" y2="933.8" stroke="#000" stroke-width="2"/>
<line x1="1019.16" y1="929.3" x2="1019.16" y2="937.3" stroke="#000" stroke-width="2"/>
<text transform="translate(1019.16 965) scale(1 1.03)" font-size="26" text-anchor="middle">2000</text>
<line x1="1076.2" y1="929.3" x2="1076.2" y2="933.8" stroke="#000" stroke-width="2"/>
<line x1="1133.24" y1="929.3" x2="1133.24" y2="937.3" stroke="#000" stroke-width="2"/>
<text transform="translate(1133.24 965) scale(1 1.03)" font-size="26" text-anchor="middle">2400</text>
<line x1="1190.28" y1="929.3" x2="1190.28" y2="933.8" stroke="#000" stroke-width="2"/>
<line x1="1247.32" y1="929.3" x2="1247.32" y2="937.3" stroke="#000" stroke-width="2"/>
<text transform="translate(1247.32 965) scale(1 1.03)" font-size="26" text-anchor="middle">2800</text>
<line x1="1304.36" y1="929.3" x2="1304.36" y2="933.8" stroke="#000" stroke-width="2"/>
<line x1="1304.4" y1="929.3" x2="1304.4" y2="933.8" stroke="#000" stroke-width="2"/>
<text transform="translate(815 569.6) scale(1 1.03)" font-size="26">hBN</text>
<text transform="translate(890 585.3) scale(1 1.03)" font-size="26">G</text>
<text transform="translate(1193 548.7) scale(1 1.03)" font-size="26">2D</text>
<text transform="translate(1041 999) scale(1 1.03)" font-size="26.5" text-anchor="middle">Raman shift (cm<tspan font-size="15" dy="-10">-1</tspan><tspan dy="10">)</tspan></text>
<text transform="translate(728 720.7) rotate(-90) scale(1 1.03)" font-size="26.4" text-anchor="middle">Intensity (a.u.)</text>
<text transform="translate(-1 1010.2) scale(1 1.03)" font-size="45" font-weight="bold">e</text>
<rect x="118.3" y="1413" width="20.5" height="3" fill="url(#hatch)" stroke="#ff8000" stroke-width="1.9"/>
<rect x="138.8" y="1409.2" width="20.7" height="6.8" fill="url(#hatch)" stroke="#ff8000" stroke-width="1.9"/>
<rect x="159.5" y="1401" width="20.3" height="15" fill="url(#hatch)" stroke="#ff8000" stroke-width="1.9"/>
<rect x="179.8" y="1385.7" width="19.9" height="30.3" fill="url(#hatch)" stroke="#ff8000" stroke-width="1.9"/>
<rect x="199.7" y="1368.2" width="20.5" height="47.8" fill="url(#hatch)" stroke="#ff8000" stroke-width="1.9"/>
<rect x="220.2" y="1324.5" width="20.5" height="91.5" fill="url(#hatch)" stroke="#ff8000" stroke-width="1.9"/>
<rect x="240.7" y="1279.1" width="20.5" height="136.9" fill="url(#hatch)" stroke="#ff8000" stroke-width="1.9"/>
<rect x="261.2" y="1195.2" width="20.4" height="220.8" fill="url(#hatch)" stroke="#ff8000" stroke-width="1.9"/>
<rect x="281.6" y="1145.6" width="20.5" height="270.4" fill="url(#hatch)" stroke="#ff8000" stroke-width="1.9"/>
<rect x="302.1" y="1245.5" width="20.5" height="170.5" fill="url(#hatch)" stroke="#ff8000" stroke-width="1.9"/>
<rect x="322.6" y="1321.5" width="20.5" height="94.5" fill="url(#hatch)" stroke="#ff8000" stroke-width="1.9"/>
<rect x="343.1" y="1363.9" width="20.5" height="52.1" fill="url(#hatch)" stroke="#ff8000" stroke-width="1.9"/>
<path d="M114 1415.9L114.8 1415.9L115.6 1415.9L116.5 1415.9L117.3 1415.9L118.1 1415.9L119 1415.9L119.8 1415.8L120.6 1415.8L121.4 1415.8L122.3 1415.8L123.1 1415.8L123.9 1415.8L124.8 1415.8L125.6 1415.7L126.4 1415.7L127.3 1415.7L128.1 1415.7L128.9 1415.7L129.8 1415.6L130.6 1415.6L131.4 1415.6L132.3 1415.5L133.1 1415.5L133.9 1415.5L134.7 1415.4L135.6 1415.4L136.4 1415.3L137.2 1415.3L138.1 1415.2L138.9 1415.2L139.7 1415.1L140.6 1415.1L141.4 1415L142.2 1414.9L143.1 1414.9L143.9 1414.8L144.7 1414.7L145.5 1414.6L146.4 1414.5L147.2 1414.4L148 1414.3L148.9 1414.2L149.7 1414.1L150.5 1414L151.4 1413.8L152.2 1413.7L153 1413.5L153.9 1413.4L154.7 1413.2L155.5 1413.1L156.4 1412.9L157.2 1412.7L158 1412.5L158.8 1412.3L159.7 1412L160.5 1411.8L161.3 1411.6L162.2 1411.3L163 1411L163.8 1410.7L164.7 1410.4L165.5 1410.1L166.3 1409.8L167.2 1409.4L168 1409.1L168.8 1408.7L169.6 1408.3L170.5 1407.9L171.3 1407.5L172.1 1407L173 1406.5L173.8 1406L174.6 1405.5L175.5 1405L176.3 1404.4L177.1 1403.8L178 1403.2L178.8 1402.6L179.6 1401.9L180.4 1401.2L181.3 1400.5L182.1 1399.8L182.9 1399L183.8 1398.2L184.6 1397.4L185.4 1396.5L186.3 1395.6L187.1 1394.7L187.9 1393.8L188.8 1392.8L189.6 1391.8L190.4 1390.7L191.3 1389.6L192.1 1388.5L192.9 1387.4L193.7 1386.2L194.6 1384.9L195.4 1383.7L196.2 1382.4L197.1 1381L197.9 1379.6L198.7 1378.2L199.6 1376.8L200.4 1375.3L201.2 1373.7L202.1 1372.1L202.9 1370.5L203.7 1368.9L204.5 1367.2L205.4 1365.4L206.2 1363.7L207 1361.9L207.9 1360L208.7 1358.1L209.5 1356.2L210.4 1354.2L211.2 1352.2L212 1350.2L212.9 1348.1L213.7 1346L214.5 1343.8L215.4 1341.6L216.2 1339.4L217 1337.2L217.8 1334.9L218.7 1332.6L219.5 1330.2L220.3 1327.8L221.2 1325.4L222 1323L222.8 1320.6L223.7 1318.1L224.5 1315.6L225.3 1313.1L226.2 1310.5L227 1308L227.8 1305.4L228.6 1302.8L229.5 1300.2L230.3 1297.6L231.1 1295L232 1292.4L232.8 1289.8L233.6 1287.2L234.5 1284.5L235.3 1281.9L236.1 1279.3L237 1276.7L237.8 1274.1L238.6 1271.5L239.4 1269L240.3 1266.4L241.1 1263.9L241.9 1261.4L242.8 1258.9L243.6 1256.5L244.4 1254L245.3 1251.7L246.1 1249.3L246.9 1247L247.8 1244.7L248.6 1242.5L249.4 1240.3L250.3 1238.1L251.1 1236.1L251.9 1234L252.7 1232L253.6 1230.1L254.4 1228.2L255.2 1226.4L256.1 1224.7L256.9 1223L257.7 1221.4L258.6 1219.9L259.4 1218.4L260.2 1217L261.1 1215.7L261.9 1214.4L262.7 1213.3L263.5 1212.2L264.4 1211.2L265.2 1210.2L266 1209.4L266.9 1208.6L267.7 1208L268.5 1207.4L269.4 1206.9L270.2 1206.5L271 1206.1L271.9 1205.9L272.7 1205.7L273.5 1205.7L274.4 1205.7L275.2 1205.8L276 1205.9L276.8 1206.2L277.7 1206.4L278.5 1206.8L279.3 1207.2L280.2 1207.6L281 1208.1L281.8 1208.7L282.7 1209.4L283.5 1210.1L284.3 1210.8L285.2 1211.7L286 1212.5L286.8 1213.5L287.6 1214.4L288.5 1215.5L289.3 1216.6L290.1 1217.7L291 1218.9L291.8 1220.2L292.6 1221.5L293.5 1222.8L294.3 1224.2L295.1 1225.7L296 1227.1L296.8 1228.7L297.6 1230.2L298.4 1231.9L299.3 1233.5L300.1 1235.2L300.9 1236.9L301.8 1238.7L302.6 1240.5L303.4 1242.3L304.3 1244.1L305.1 1246L305.9 1247.9L306.8 1249.8L307.6 1251.8L308.4 1253.8L309.3 1255.8L310.1 1257.8L310.9 1259.9L311.7 1261.9L312.6 1264L313.4 1266.1L314.2 1268.2L315.1 1270.3L315.9 1272.4L316.7 1274.6L317.6 1276.7L318.4 1278.8L319.2 1281L320.1 1283.1L320.9 1285.3L321.7 1287.5L322.5 1289.6L323.4 1291.8L324.2 1293.9L325 1296.1L325.9 1298.2L326.7 1300.3L327.5 1302.5L328.4 1304.6L329.2 1306.7L330 1308.8L330.9 1310.9L331.7 1313L332.5 1315L333.4 1317.1L334.2 1319.1L335 1321.1L335.8 1323.1L336.7 1325.1L337.5 1327.1L338.3 1329L339.2 1330.9L340 1332.8L340.8 1334.7L341.7 1336.6L342.5 1338.4L343.3 1340.2L344.2 1342L345 1343.8L345.8 1345.5L346.6 1347.3L347.5 1349L348.3 1350.6L349.1 1352.3L350 1353.9L350.8 1355.5L351.6 1357.1L352.5 1358.6L353.3 1360.2L354.1 1361.6L355 1363.1L355.8 1364.6L356.6 1366L357.4 1367.4L358.3 1368.7L359.1 1370.1L359.9 1371.4L360.8 1372.7L361.6 1373.9L362.4 1375.1L363.3 1376.4L364.1 1377.5L364.9 1378.7L365.8 1379.8L366.6 1380.9L367.4 1382L368.3 1383.1L369.1 1384.1L369.9 1385.1L370.7 1386.1L371.6 1387L372.4 1388L373.2 1388.9L374.1 1389.8L374.9 1390.6L375.7 1391.5L376.6 1392.3L377.4 1393.1L378.2 1393.9L379.1 1394.6L379.9 1395.4L380.7 1396.1L381.5 1396.8L382.4 1397.4L383.2 1398.1L384 1398.7L384.9 1399.4L385.7 1400L386.5 1400.5L387.4 1401.1L388.2 1401.7L389 1402.2L389.9 1402.7L390.7 1403.2L391.5 1403.7L392.3 1404.2L393.2 1404.6L394 1405L394.8 1405.5L395.7 1405.9L396.5 1406.3L397.3 1406.7L398.2 1407L399 1407.4L399.8 1407.7L400.7 1408.1L401.5 1408.4L402.3 1408.7L403.2 1409L404 1409.3L404.8 1409.6L405.6 1409.8L406.5 1410.1L407.3 1410.3L408.1 1410.6L409 1410.8L409.8 1411L410.6 1411.2L411.5 1411.4L412.3 1411.6L413.1 1411.8L414 1412L414.8 1412.2L415.6 1412.4L416.4 1412.5L417.3 1412.7L418.1 1412.8L418.9 1413L419.8 1413.1L420.6 1413.2L421.4 1413.4L422.3 1413.5L423.1 1413.6L423.9 1413.7L424.8 1413.8L425.6 1413.9L426.4 1414L427.3 1414.1L428.1 1414.2L428.9 1414.3L429.7 1414.4L430.6 1414.5L431.4 1414.5L432.2 1414.6L433.1 1414.7L433.9 1414.7L434.7 1414.8L435.6 1414.9L436.4 1414.9L437.2 1415L438.1 1415L438.9 1415.1L439.7 1415.1L440.5 1415.2L441.4 1415.2L442.2 1415.2L443 1415.3L443.9 1415.3L444.7 1415.4L445.5 1415.4L446.4 1415.4L447.2 1415.5L448 1415.5L448.9 1415.5L449.7 1415.5L450.5 1415.6L451.3 1415.6L452.2 1415.6L453 1415.6L453.8 1415.6L454.7 1415.7L455.5 1415.7L456.3 1415.7L457.2 1415.7L458 1415.7L458.8 1415.7L459.7 1415.8L460.5 1415.8L461.3 1415.8L462.2 1415.8L463 1415.8L463.8 1415.8L464.6 1415.8L465.5 1415.8L466.3 1415.9L467.1 1415.9L468 1415.9L468.8 1415.9L469.6 1415.9L470.5 1415.9L471.3 1415.9L472.1 1415.9L473 1415.9L473.8 1415.9L474.6 1415.9L475.4 1415.9L476.3 1415.9L477.1 1415.9L477.9 1415.9L478.8 1415.9L479.6 1415.9L480.4 1415.9L481.3 1416L482.1 1416L482.9 1416L483.8 1416L484.6 1416L485.4 1416L486.3 1416L487.1 1416L487.9 1416L488.7 1416L489.6 1416L490.4 1416L491.2 1416L492.1 1416L492.9 1416L493.7 1416L494.6 1416L495.4 1416L496.2 1416L497.1 1416L497.9 1416L498.7 1416L499.5 1416L500.4 1416L501.2 1416L502 1416L502.9 1416L503.7 1416L504.5 1416L505.4 1416L506.2 1416L507 1416L507.9 1416L508.7 1416L509.5 1416L510.3 1416L511.2 1416L512 1416L512.8 1416L513.7 1416L514.5 1416L515.3 1416L516.2 1416L517 1416L517.8 1416L518.7 1416L519.5 1416L520.3 1416L521.2 1416L522 1416L522.8 1416L523.6 1416L524.5 1416L525.3 1416L526.1 1416L527 1416L527.8 1416L528.6 1416L529.5 1416L530.3 1416L531.1 1416L532 1416L532.8 1416L533.6 1416L534.4 1416L535.3 1416L536.1 1416L536.9 1416L537.8 1416L538.6 1416L539.4 1416L540.3 1416L541.1 1416L541.9 1416L542.8 1416L543.6 1416L544.4 1416L545.3 1416L546.1 1416L546.9 1416L547.7 1416L548.6 1416L549.4 1416L550.2 1416L551.1 1416L551.9 1416L552.7 1416L553.6 1416L554.4 1416L555.2 1416L556.1 1416L556.9 1416L557.7 1416L558.5 1416L559.4 1416L560.2 1416L561 1416L561.9 1416L562.7 1416L563.5 1416L564.4 1416L565.2 1416L566 1416L566.9 1416L567.7 1416L568.5 1416L569.3 1416L570.2 1416L571 1416L571.8 1416L572.7 1416L573.5 1416L574.3 1416L575.2 1416L576 1416L576.8 1416L577.7 1416L578.5 1416L579.3 1416L580.2 1416L581 1416L581.8 1416L582.6 1416L583.5 1416L584.3 1416L585.1 1416L586 1416L586.8 1416L587.6 1416L588.5 1416L589.3 1416L590.1 1416L591 1416L591.8 1416L592.6 1416L593.4 1416L594.3 1416L595.1 1416L595.9 1416L596.8 1416L597.6 1416L598.4 1416L599.3 1416L600.1 1416L600.9 1416L601.8 1416L602.6 1416L603.4 1416L604.3 1416L605.1 1416L605.9 1416L606.7 1416L607.6 1416L608.4 1416L609.2 1416L610.1 1416L610.9 1416L611.7 1416" fill="none" stroke="#ff8000" stroke-width="1.8"/>
<rect x="103.4" y="1035.3" width="509.20000000000005" height="380.70000000000005" fill="none" stroke="#000" stroke-width="2"/>
<line x1="94.9" y1="1416" x2="103.4" y2="1416" stroke="#000" stroke-width="2"/>
<text transform="translate(90.3 1425.6) scale(0.95 1.03)" font-size="26" text-anchor="end">0</text>
<line x1="98.9" y1="1368.31" x2="103.4" y2="1368.31" stroke="#000" stroke-width="2"/>
<line x1="94.9" y1="1320.62" x2="103.4" y2="1320.62" stroke="#000" stroke-width="2"/>
<text transform="translate(90.3 1330.22) scale(0.95 1.03)" font-size="26" text-anchor="end">200</text>
<line x1="98.9" y1="1272.93" x2="103.4" y2="1272.93" stroke="#000" stroke-width="2"/>
<line x1="94.9" y1="1225.24" x2="103.4" y2="1225.24" stroke="#000" stroke-width="2"/>
<text transform="translate(90.3 1234.84) scale(0.95 1.03)" font-size="26" text-anchor="end">400</text>
<line x1="98.9" y1="1177.55" x2="103.4" y2="1177.55" stroke="#000" stroke-width="2"/>
<line x1="94.9" y1="1129.86" x2="103.4" y2="1129.86" stroke="#000" stroke-width="2"/>
<text transform="translate(90.3 1139.46) scale(0.95 1.03)" font-size="26" text-anchor="end">600</text>
<line x1="98.9" y1="1082.17" x2="103.4" y2="1082.17" stroke="#000" stroke-width="2"/>
<line x1="94.9" y1="1034.48" x2="103.4" y2="1034.48" stroke="#000" stroke-width="2"/>
<text transform="translate(90.3 1044.08) scale(0.95 1.03)" font-size="26" text-anchor="end">800</text>
<line x1="103.6" y1="1416" x2="103.6" y2="1425" stroke="#000" stroke-width="2"/>
<text transform="translate(102.6 1453.6) scale(0.95 1.03)" font-size="26" text-anchor="middle">50</text>
<line x1="129.52" y1="1416" x2="129.52" y2="1421.5" stroke="#000" stroke-width="2"/>
<line x1="155.45" y1="1416" x2="155.45" y2="1425" stroke="#000" stroke-width="2"/>
<text transform="translate(154.45 1453.6) scale(0.95 1.03)" font-size="26" text-anchor="middle">60</text>
<line x1="181.38" y1="1416" x2="181.38" y2="1421.5" stroke="#000" stroke-width="2"/>
<line x1="207.3" y1="1416" x2="207.3" y2="1425" stroke="#000" stroke-width="2"/>
<text transform="translate(206.3 1453.6) scale(0.95 1.03)" font-size="26" text-anchor="middle">70</text>
<line x1="233.22" y1="1416" x2="233.22" y2="1421.5" stroke="#000" stroke-width="2"/>
<line x1="259.15" y1="1416" x2="259.15" y2="1425" stroke="#000" stroke-width="2"/>
<text transform="translate(258.15 1453.6) scale(0.95 1.03)" font-size="26" text-anchor="middle">80</text>
<line x1="285.07" y1="1416" x2="285.07" y2="1421.5" stroke="#000" stroke-width="2"/>
<line x1="311" y1="1416" x2="311" y2="1425" stroke="#000" stroke-width="2"/>
<text transform="translate(310 1453.6) scale(0.95 1.03)" font-size="26" text-anchor="middle">90</text>
<line x1="336.92" y1="1416" x2="336.92" y2="1421.5" stroke="#000" stroke-width="2"/>
<line x1="362.85" y1="1416" x2="362.85" y2="1425" stroke="#000" stroke-width="2"/>
<text transform="translate(361.85 1453.6) scale(0.95 1.03)" font-size="26" text-anchor="middle">100</text>
<line x1="388.77" y1="1416" x2="388.77" y2="1421.5" stroke="#000" stroke-width="2"/>
<line x1="414.7" y1="1416" x2="414.7" y2="1425" stroke="#000" stroke-width="2"/>
<text transform="translate(413.7 1453.6) scale(0.95 1.03)" font-size="26" text-anchor="middle">110</text>
<line x1="440.62" y1="1416" x2="440.62" y2="1421.5" stroke="#000" stroke-width="2"/>
<line x1="466.55" y1="1416" x2="466.55" y2="1425" stroke="#000" stroke-width="2"/>
<text transform="translate(465.55 1453.6) scale(0.95 1.03)" font-size="26" text-anchor="middle">120</text>
<line x1="492.47" y1="1416" x2="492.47" y2="1421.5" stroke="#000" stroke-width="2"/>
<line x1="518.4" y1="1416" x2="518.4" y2="1425" stroke="#000" stroke-width="2"/>
<text transform="translate(517.4 1453.6) scale(0.95 1.03)" font-size="26" text-anchor="middle">130</text>
<line x1="544.32" y1="1416" x2="544.32" y2="1421.5" stroke="#000" stroke-width="2"/>
<line x1="570.25" y1="1416" x2="570.25" y2="1425" stroke="#000" stroke-width="2"/>
<text transform="translate(569.25 1453.6) scale(0.95 1.03)" font-size="26" text-anchor="middle">140</text>
<line x1="596.17" y1="1416" x2="596.17" y2="1421.5" stroke="#000" stroke-width="2"/>
<text transform="translate(306.5 1492.5) scale(1 1.03)" font-size="24.5"><tspan font-style="italic">R</tspan><tspan font-size="15" dy="8.4">s</tspan><tspan dy="-8.4"> (Ω/sq. )</tspan></text>
<text transform="translate(40 1228.5) rotate(-90) scale(1 1.03)" font-size="28" text-anchor="middle">Counts</text>
<text transform="translate(119.5 1094.7) scale(1 1.03)" font-size="25"><tspan font-style="italic">R</tspan><tspan font-size="14" dy="8.7">s</tspan><tspan dy="-8.7" x="27.5">= 87 ± 13 Ω/sq.</tspan></text>
<clipPath id="mapclip"><rect x="321.5" y="1073.3" width="233.1" height="146"/></clipPath>
<g clip-path="url(#mapclip)"><rect x="280" y="990" width="320" height="320" filter="url(#mapnoise)" transform="rotate(28 438 1146)"/></g>
<rect x="321.5" y="1073.3" width="233.1" height="146" fill="none" stroke="#000" stroke-width="2.2"/>
<line x1="505.8" y1="1208.2" x2="544.6" y2="1208.2" stroke="#000" stroke-width="2"/>
<text transform="translate(506 1203.8) scale(1 1.03)" font-size="18.5">5 cm</text>
<rect x="563" y="1069.6" width="12.6" height="154.6" fill="url(#cbar)"/>
<text transform="translate(577.5 1080) scale(1 1.03)" font-size="17.5">105</text>
<text transform="translate(577.5 1128.2) scale(1 1.03)" font-size="17.5">70</text>
<text transform="translate(577.5 1176.4) scale(1 1.03)" font-size="17.5">35</text>
<text transform="translate(577.5 1223.6) scale(1 1.03)" font-size="17.5">0</text>
<text transform="translate(530.3 1059.5) scale(1 1.03)" font-size="17.5"><tspan font-style="italic">R</tspan><tspan font-size="11" dy="5">s</tspan><tspan dy="-5"> (Ω/sq.)</tspan></text>
<text transform="translate(701.5 1010.1) scale(1 1.03)" font-size="45" font-weight="bold">f</text>
<path d="M792.5 1132.9L793.1 1132.8L793.6 1133.2L794.2 1132.7L794.8 1132.6L795.3 1132.7L795.9 1132.4L796.5 1132.7L797 1132.6L797.6 1132.7L798.2 1132.7L798.8 1132.4L799.3 1132.8L799.9 1132.4L800.5 1132.7L801 1132.2L801.6 1132.6L802.2 1132.4L802.7 1132.5L803.3 1132.4L803.9 1132.1L804.4 1132.3L805 1132.5L805.6 1132.6L806.1 1132.2L806.7 1132L807.3 1132.3L807.8 1132.4L808.4 1132.3L809 1132.2L809.6 1132.6L810.1 1132.6L810.7 1132.5L811.3 1132.2L811.8 1132.4L812.4 1132.3L813 1132L813.5 1132.5L814.1 1132.3L814.7 1132.2L815.2 1132.6L815.8 1132.4L816.4 1132.4L816.9 1132.5L817.5 1132.4L818.1 1132L818.6 1132.1L819.2 1132.4L819.8 1132.1L820.4 1132.2L820.9 1132.3L821.5 1132.5L822.1 1132.4L822.6 1132.3L823.2 1132.1L823.8 1132.3L824.3 1132.2L824.9 1132.1L825.5 1132.4L826 1132.2L826.6 1131.9L827.2 1132.3L827.7 1132L828.3 1132.2L828.9 1131.7L829.4 1132L830 1131.8L830.6 1131.8L831.2 1131.6L831.7 1132.4L832.3 1131.9L832.9 1132L833.4 1132.2L834 1131.9L834.6 1132L835.1 1131.7L835.7 1132L836.3 1131.8L836.8 1132L837.4 1131.9L838 1131.6L838.5 1131.5L839.1 1131.6L839.7 1132L840.2 1131.9L840.8 1131.9L841.4 1131.4L842 1131.3L842.5 1131.7L843.1 1131.7L843.7 1131.6L844.2 1131.8L844.8 1131.7L845.4 1131.5L845.9 1131.5L846.5 1131.7L847.1 1131.7L847.6 1131.7L848.2 1132.1L848.8 1131.6L849.3 1131.7L849.9 1131.5L850.5 1131.6L851 1131.7L851.6 1131.7L852.2 1131.6L852.8 1131.7L853.3 1131.6L853.9 1131.2L854.5 1130.9L855 1132L855.6 1131.7L856.2 1131.5L856.7 1131.2L857.3 1131.3L857.9 1131.8L858.4 1130.9L859 1131.4L859.6 1131.6L860.1 1131.5L860.7 1131.6L861.3 1131.4L861.8 1131.9L862.4 1131.2L863 1131.1L863.6 1131.5L864.1 1131.7L864.7 1131.4L865.3 1131.6L865.8 1131.3L866.4 1131.1L867 1131.6L867.5 1131.6L868.1 1131.6L868.7 1131.2L869.2 1131.1L869.8 1131.1L870.4 1131.2L870.9 1131.4L871.5 1131.4L872.1 1131L872.6 1131.3L873.2 1131.2L873.8 1131.3L874.4 1131.2L874.9 1131.2L875.5 1131.3L876.1 1131.2L876.6 1131.2L877.2 1131L877.8 1131.3L878.3 1131.1L878.9 1130.7L879.5 1131.2L880 1131.1L880.6 1131.3L881.2 1131.1L881.7 1131.1L882.3 1131.2L882.9 1131.1L883.4 1131L884 1130.7L884.6 1131.4L885.2 1130.8L885.7 1131L886.3 1131.2L886.9 1131.1L887.4 1131.2L888 1131.2L888.6 1131.3L889.1 1131.1L889.7 1131.6L890.3 1130.8L890.8 1131L891.4 1130.9L892 1130.9L892.5 1131L893.1 1131.2L893.7 1130.8L894.2 1130.8L894.8 1131.1L895.4 1131L896 1131.3L896.5 1131.1L897.1 1130.9L897.7 1130.8L898.2 1130.9L898.8 1130.8L899.4 1130.6L899.9 1130.9L900.5 1130.8L901.1 1130.8L901.6 1130.7L902.2 1131.2L902.8 1131L903.3 1131L903.9 1130.7L904.5 1130.6L905 1130.7L905.6 1130.8L906.2 1130.7L906.8 1130.7L907.3 1130.9L907.9 1130.8L908.5 1130.5L909 1130.6L909.6 1130.6L910.2 1130.7L910.7 1130.5L911.3 1130.7L911.9 1130.8L912.4 1130.7L913 1130.5L913.6 1130.5L914.1 1130.7L914.7 1130.7L915.3 1130.8L915.8 1130.6L916.4 1130.4L917 1130.9L917.6 1130.7L918.1 1130.7L918.7 1130.6L919.3 1130.4L919.8 1130.5L920.4 1130.6L921 1130.8L921.5 1130.6L922.1 1129.9L922.7 1130.5L923.2 1130.6L923.8 1130.8L924.4 1130.6L924.9 1131L925.5 1130.8L926.1 1130.8L926.6 1130.7L927.2 1130.2L927.8 1130.6L928.3 1130.6L928.9 1130.3L929.5 1130.5L930.1 1130.5L930.6 1130.3L931.2 1130.4L931.8 1130.3L932.3 1130.5L932.9 1130.3L933.5 1130.5L934 1130.1L934.6 1130.4L935.2 1130.1L935.7 1130.4L936.3 1130.6L936.9 1130.5L937.4 1130.5L938 1130.5L938.6 1130.9L939.1 1130.3L939.7 1130.7L940.3 1130.3L940.9 1130.5L941.4 1130.6L942 1130.4L942.6 1130.7L943.1 1130.8L943.7 1130.4L944.3 1130.6L944.8 1130.6L945.4 1130.3L946 1130.7L946.5 1130.6L947.1 1131L947.7 1130.6L948.2 1131.1L948.8 1130.7L949.4 1131.2L949.9 1130.9L950.5 1130.9L951.1 1131L951.7 1131L952.2 1131.1L952.8 1131.2L953.4 1130.8L953.9 1130.6L954.5 1130.3L955.1 1130.8L955.6 1131.1L956.2 1131L956.8 1130.9L957.3 1130.9L957.9 1130.8L958.5 1130.9L959 1131.1L959.6 1130.6L960.2 1131.1L960.7 1130.7L961.3 1131L961.9 1130.9L962.5 1131L963 1130.8L963.6 1130.8L964.2 1131L964.7 1130.9L965.3 1131.6L965.9 1131L966.4 1131L967 1131L967.6 1130.9L968.1 1130.7L968.7 1131.1L969.3 1131.2L969.8 1130.9L970.4 1131.2L971 1131L971.5 1131.2L972.1 1131.3L972.7 1131.4L973.3 1131.4L973.8 1131.1L974.4 1131.5L975 1131.2L975.5 1131.4L976.1 1131.5L976.7 1131.3L977.2 1131.1L977.8 1131.5L978.4 1131.2L978.9 1131.2L979.5 1131.2L980.1 1131.6L980.6 1131.4L981.2 1131L981.8 1131.6L982.3 1131.9L982.9 1131.8L983.5 1131.4L984.1 1131.5L984.6 1131.6L985.2 1131.7L985.8 1131.6L986.3 1131.4L986.9 1131.8L987.5 1131.8L988 1131.4L988.6 1131.6L989.2 1131.8L989.7 1131.7L990.3 1131.9L990.9 1131.9L991.4 1131.9L992 1131.8L992.6 1131.6L993.1 1132L993.7 1132.2L994.3 1132.3L994.9 1131.9L995.4 1132L996 1132.3L996.6 1132.3L997.1 1132.1L997.7 1132.2L998.3 1131.9L998.8 1132.2L999.4 1132L1000 1132.1L1000.5 1132.2L1001.1 1132.1L1001.7 1131.8L1002.2 1132.1L1002.8 1132.3L1003.4 1132.3L1003.9 1132.2L1004.5 1132.4L1005.1 1132.5L1005.7 1132.6L1006.2 1132.3L1006.8 1132.4L1007.4 1132.4L1007.9 1132.3L1008.5 1132.2L1009.1 1132.5L1009.6 1132.4L1010.2 1133L1010.8 1132.6L1011.3 1132.6L1011.9 1132.6L1012.5 1133.1L1013 1132.5L1013.6 1132.7L1014.2 1132.6L1014.7 1132.7L1015.3 1132.8L1015.9 1133L1016.5 1132.6L1017 1132.9L1017.6 1133.2L1018.2 1132.8L1018.7 1132.9L1019.3 1132.8L1019.9 1132.5L1020.4 1133L1021 1133.3L1021.6 1133L1022.1 1132.7L1022.7 1133.2L1023.3 1133.1L1023.8 1133.3L1024.4 1133.4L1025 1133.1L1025.5 1133.3L1026.1 1132.9L1026.7 1133.5L1027.3 1133.3L1027.8 1133.5L1028.4 1133.6L1029 1133.3L1029.5 1133.4L1030.1 1133.2L1030.7 1133L1031.2 1133.4L1031.8 1133.5L1032.4 1133.3L1032.9 1133.7L1033.5 1133.6L1034.1 1133.7L1034.6 1133.4L1035.2 1133.3L1035.8 1133.8L1036.3 1133.8L1036.9 1133.7L1037.5 1133.6L1038.1 1133.7L1038.6 1133.7L1039.2 1133.7L1039.8 1133.4L1040.3 1134L1040.9 1133.6L1041.5 1133.8L1042 1133.8L1042.6 1134L1043.2 1133.6L1043.7 1134.2L1044.3 1134.1L1044.9 1134.2L1045.4 1134.3L1046 1133.9L1046.6 1133.5L1047.1 1134.2L1047.7 1134.4L1048.3 1134.4L1048.9 1134.1L1049.4 1134.2L1050 1134.3L1050.6 1133.9L1051.1 1134.2L1051.7 1134.2L1052.3 1134.7L1052.8 1134.2L1053.4 1134.7L1054 1134.4L1054.5 1134.1L1055.1 1134.9L1055.7 1134.3L1056.2 1134.6L1056.8 1134.9L1057.4 1134.4L1057.9 1134.3L1058.5 1134.8L1059.1 1134.6L1059.7 1134.4L1060.2 1134.5L1060.8 1134.6L1061.4 1134.9L1061.9 1134.7L1062.5 1134.9L1063.1 1135.1L1063.6 1135.1L1064.2 1135.1L1064.8 1135.1L1065.3 1134.6L1065.9 1135.1L1066.5 1135L1067 1134.9L1067.6 1134.8L1068.2 1134.7L1068.7 1134.8L1069.3 1135L1069.9 1134.8L1070.5 1134.9L1071 1135L1071.6 1135.3L1072.2 1135.1L1072.7 1135.2L1073.3 1135.5L1073.9 1135.2L1074.4 1135.4L1075 1135.1L1075.6 1135.4L1076.1 1135.4L1076.7 1135.4L1077.3 1135.3L1077.8 1135.2L1078.4 1135.4L1079 1135.4L1079.5 1135.7L1080.1 1135.7L1080.7 1135.3L1081.3 1135.7L1081.8 1135.5L1082.4 1135.7L1083 1135.5L1083.5 1135.3L1084.1 1135.9L1084.7 1135.8L1085.2 1135.5L1085.8 1135.4L1086.4 1135.7L1086.9 1135.6L1087.5 1135.8L1088.1 1136L1088.6 1136.2L1089.2 1135.8L1089.8 1136.2L1090.3 1136.2L1090.9 1135.9L1091.5 1135.7L1092.1 1136.2L1092.6 1136.2L1093.2 1136.6L1093.8 1136.4L1094.3 1136.3L1094.9 1136.5L1095.5 1136L1096 1136.3L1096.6 1136.2L1097.2 1136.7L1097.7 1136.5L1098.3 1135.8L1098.9 1136.7L1099.4 1136.2L1100 1136.6L1100.6 1136.4L1101.1 1136.6L1101.7 1136.7L1102.3 1136.6L1102.9 1136.4L1103.4 1136.9L1104 1136.7L1104.6 1136.7L1105.1 1136.9L1105.7 1136.6L1106.3 1137.1L1106.8 1136.8L1107.4 1136.9L1108 1136.9L1108.5 1136.7L1109.1 1136.7L1109.7 1137L1110.2 1137L1110.8 1137.3L1111.4 1137.1L1111.9 1136.8L1112.5 1137.2L1113.1 1137.3L1113.7 1137.3L1114.2 1137.2L1114.8 1137L1115.4 1137.5L1115.9 1137.1L1116.5 1137.4L1117.1 1137L1117.6 1137.5L1118.2 1137.2L1118.8 1137.6L1119.3 1137.8L1119.9 1137.7L1120.5 1137.2L1121 1137.3L1121.6 1137.4L1122.2 1137.7L1122.7 1137.7L1123.3 1137.7L1123.9 1137.7L1124.5 1137.8L1125 1137.8L1125.6 1138.1L1126.2 1137.8L1126.7 1137.8L1127.3 1137.4L1127.9 1137.6L1128.4 1137.7L1129 1137.7L1129.6 1138L1130.1 1138.2L1130.7 1137.9L1131.3 1137.9L1131.8 1137.9L1132.4 1138.1L1133 1138L1133.5 1138.2L1134.1 1138.2L1134.7 1138.3L1135.3 1138.4L1135.8 1138.3L1136.4 1138.3L1137 1138.7L1137.5 1138.3L1138.1 1138.5L1138.7 1138.4L1139.2 1138.3L1139.8 1138.4L1140.4 1138.3L1140.9 1138.5L1141.5 1138.4L1142.1 1138.5L1142.6 1138.8L1143.2 1138.6L1143.8 1138.9L1144.3 1138.7L1144.9 1138.9L1145.5 1138.6L1146.1 1138.8L1146.6 1139.3L1147.2 1139L1147.8 1139L1148.3 1138.9L1148.9 1139.1L1149.5 1138.7L1150 1138.8L1150.6 1139.1L1151.2 1139.2L1151.7 1139L1152.3 1139L1152.9 1139L1153.4 1139.1L1154 1138.9L1154.6 1138.9L1155.1 1139.2L1155.7 1138.9L1156.3 1139.1L1156.9 1139.2L1157.4 1139.1L1158 1139.4L1158.6 1139.3L1159.1 1139.4L1159.7 1139.2L1160.3 1139.3L1160.8 1139.6L1161.4 1139.6L1162 1139.5L1162.5 1139.7L1163.1 1139.6L1163.7 1139.7L1164.2 1140L1164.8 1139.6L1165.4 1139.8L1165.9 1139.8L1166.5 1139.7L1167.1 1139.6L1167.7 1140L1168.2 1139.9L1168.8 1139.9L1169.4 1139.9L1169.9 1140L1170.5 1139.8L1171.1 1140.1L1171.6 1139.7L1172.2 1140.1L1172.8 1139.8L1173.3 1140L1173.9 1140.3L1174.5 1140.1L1175 1140.1L1175.6 1140.3L1176.2 1140.2L1176.7 1140.2L1177.3 1140.2L1177.9 1140.6L1178.4 1140.5L1179 1140.5L1179.6 1140.2L1180.2 1140.6L1180.7 1140.2L1181.3 1140.6L1181.9 1140.3L1182.4 1141L1183 1140.3L1183.6 1140.9L1184.1 1140.8L1184.7 1140.3L1185.3 1140.7L1185.8 1141L1186.4 1141L1187 1140.5L1187.5 1140.7L1188.1 1140.6L1188.7 1140.7L1189.2 1140.8L1189.8 1141.3L1190.4 1141L1191 1141L1191.5 1141L1192.1 1141.2L1192.7 1141.2L1193.2 1140.9L1193.8 1141.4L1194.4 1141L1194.9 1141.1L1195.5 1141.3L1196.1 1141.6L1196.6 1141.2L1197.2 1141.4L1197.8 1141.6L1198.3 1141.5L1198.9 1141.6L1199.5 1141.6L1200 1141.5L1200.6 1141.6L1201.2 1141.7L1201.8 1141.5L1202.3 1141.9L1202.9 1141.2L1203.5 1141.4L1204 1141.9L1204.6 1141.7L1205.2 1141.5L1205.7 1141.8L1206.3 1141.9L1206.9 1141.6L1207.4 1141.9L1208 1141.8L1208.6 1141.8L1209.1 1141.8L1209.7 1142.1L1210.3 1141.7L1210.8 1141.8L1211.4 1142.1L1212 1141.7L1212.6 1141.7L1213.1 1142.1L1213.7 1142L1214.3 1142L1214.8 1142.1L1215.4 1141.9L1216 1142.7L1216.5 1142L1217.1 1142.1L1217.7 1141.9L1218.2 1142.2L1218.8 1142.6L1219.4 1142.3L1219.9 1142.4L1220.5 1142.2L1221.1 1142.7L1221.6 1142.4L1222.2 1142.2L1222.8 1142.6L1223.4 1142.4L1223.9 1142.6L1224.5 1142.5L1225.1 1142.6L1225.6 1142.6L1226.2 1142.4L1226.8 1142.3L1227.3 1142.8L1227.9 1142.6L1228.5 1142.7L1229 1142.6L1229.6 1142.3L1230.2 1142.5L1230.7 1143.1L1231.3 1142.7L1231.9 1142.8L1232.4 1142.6L1233 1142.8L1233.6 1142.8L1234.2 1142.9L1234.7 1143L1235.3 1142.9L1235.9 1142.9L1236.4 1143L1237 1143.1L1237.6 1143.1L1238.1 1143.5L1238.7 1143.2L1239.3 1143.2L1239.8 1143.1L1240.4 1143.4L1241 1143L1241.5 1142.9L1242.1 1143.1L1242.7 1143.4L1243.2 1143.1L1243.8 1143.6L1244.4 1143.4L1245 1143.1L1245.5 1143.4L1246.1 1143.8L1246.7 1143.3L1247.2 1143.3L1247.8 1143.6L1248.4 1143.8L1248.9 1143.8L1249.5 1143.5L1250.1 1143.7L1250.6 1143.7L1251.2 1143.9L1251.8 1144.1L1252.3 1143.7L1252.9 1144L1253.5 1143.7L1254 1143.9L1254.6 1143.7L1255.2 1143.7L1255.8 1144L1256.3 1143.7L1256.9 1144.1L1257.5 1143.9L1258 1144L1258.6 1144L1259.2 1144L1259.7 1144.1L1260.3 1144.3L1260.9 1144.7L1261.4 1143.9L1262 1144.2L1262.6 1144.2L1263.1 1144L1263.7 1144.3L1264.3 1144.1L1264.8 1144.3L1265.4 1144.6L1266 1143.9L1266.6 1144.4L1267.1 1144.5L1267.7 1144.2L1268.3 1144.5L1268.8 1144.5L1269.4 1144.4L1270 1144.8L1270.5 1144.3L1271.1 1144.7L1271.7 1144.5L1272.2 1144.4L1272.8 1144.6L1273.4 1144.6L1273.9 1144.9L1274.5 1144.4L1275.1 1144.7L1275.6 1144.7L1276.2 1145.1L1276.8 1144.6L1277.4 1145L1277.9 1144.5L1278.5 1145L1279.1 1144.9L1279.6 1145L1280.2 1144.8L1280.8 1144.6L1281.3 1144.7L1281.9 1145.3L1282.5 1145.1L1283 1144.9L1283.6 1145.3L1284.2 1145L1284.7 1145L1285.3 1144.9L1285.9 1145.4L1286.4 1145.6L1287 1145.1L1287.6 1145.3L1288.2 1145.5L1288.7 1145.8L1289.3 1144.9L1289.9 1145.4L1290.4 1145.5L1291 1145.1L1291.6 1145.5L1292.1 1145.5L1292.7 1145.7L1293.3 1145.4L1293.8 1145.6L1294.4 1145.5L1295 1145.7L1295.5 1145.7L1296.1 1145.6L1296.7 1145.4L1297.2 1146L1297.8 1146L1298.4 1145.9L1299 1145.6L1299.5 1145.7L1300.1 1146.2L1300.7 1146L1301.2 1145.7L1301.8 1145.9L1302.4 1146L1302.9 1145.9L1303.5 1145.8" fill="none" stroke="#ff0000" stroke-width="2"/>
<path d="M792.5 1120.5L793.1 1120.8L793.6 1120.7L794.2 1120.4L794.8 1120.4L795.3 1120.4L795.9 1120.6L796.5 1120.4L797 1120.6L797.6 1120.1L798.2 1120.8L798.8 1120.4L799.3 1120.6L799.9 1120.4L800.5 1120.3L801 1120.5L801.6 1120.6L802.2 1120.4L802.7 1120.4L803.3 1120.5L803.9 1120.2L804.4 1120.1L805 1120.5L805.6 1120.2L806.1 1120L806.7 1120.2L807.3 1120.3L807.8 1120.1L808.4 1120L809 1120.3L809.6 1120.5L810.1 1120.3L810.7 1120.2L811.3 1120.4L811.8 1120.5L812.4 1120.2L813 1120.4L813.5 1120.5L814.1 1120.2L814.7 1120.1L815.2 1120.3L815.8 1120.3L816.4 1120.5L816.9 1120L817.5 1120.1L818.1 1120.1L818.6 1119.9L819.2 1120.3L819.8 1120.3L820.4 1120.1L820.9 1120.5L821.5 1120.4L822.1 1120.3L822.6 1120.3L823.2 1120.4L823.8 1119.9L824.3 1120.3L824.9 1120.3L825.5 1119.8L826 1120.2L826.6 1120.1L827.2 1120.3L827.7 1120.1L828.3 1120.1L828.9 1120.2L829.4 1120L830 1120.2L830.6 1120.1L831.2 1120.2L831.7 1120L832.3 1120.3L832.9 1120.2L833.4 1120.1L834 1120.2L834.6 1120.3L835.1 1120.4L835.7 1119.8L836.3 1120.2L836.8 1120.2L837.4 1120L838 1119.8L838.5 1120.3L839.1 1119.8L839.7 1120.1L840.2 1120.3L840.8 1119.7L841.4 1120L842 1119.7L842.5 1120.1L843.1 1120.3L843.7 1120.4L844.2 1119.6L844.8 1119.9L845.4 1120.1L845.9 1120.3L846.5 1120L847.1 1119.8L847.6 1120L848.2 1119.9L848.8 1119.9L849.3 1119.8L849.9 1120L850.5 1120L851 1119.9L851.6 1119.9L852.2 1119.7L852.8 1119.8L853.3 1120.1L853.9 1119.9L854.5 1119.6L855 1120.1L855.6 1120L856.2 1120.3L856.7 1119.9L857.3 1119.8L857.9 1119.6L858.4 1120.1L859 1120.4L859.6 1119.7L860.1 1119.7L860.7 1119.9L861.3 1119.7L861.8 1119.8L862.4 1119.7L863 1119.8L863.6 1120L864.1 1119.8L864.7 1120L865.3 1119.7L865.8 1119.8L866.4 1119.3L867 1119.5L867.5 1119.9L868.1 1119.6L868.7 1119.9L869.2 1119.8L869.8 1120L870.4 1119.9L870.9 1119.9L871.5 1119.7L872.1 1119.6L872.6 1119.6L873.2 1119.6L873.8 1119.5L874.4 1119.6L874.9 1119.7L875.5 1119.7L876.1 1119.6L876.6 1119.3L877.2 1119.6L877.8 1119.7L878.3 1119.9L878.9 1119.8L879.5 1119.5L880 1119.5L880.6 1120L881.2 1119.8L881.7 1120L882.3 1120L882.9 1119.4L883.4 1119.7L884 1119.7L884.6 1119.7L885.2 1119.7L885.7 1119.6L886.3 1119.6L886.9 1119.3L887.4 1119.5L888 1119.4L888.6 1119.6L889.1 1119.4L889.7 1119.7L890.3 1119.7L890.8 1119.6L891.4 1119.6L892 1119.5L892.5 1119.4L893.1 1119.5L893.7 1119.4L894.2 1119.6L894.8 1119.5L895.4 1119.6L896 1119.2L896.5 1119.6L897.1 1119.3L897.7 1119.3L898.2 1119.4L898.8 1119.3L899.4 1119.5L899.9 1119.3L900.5 1119.2L901.1 1119.3L901.6 1119.7L902.2 1119.4L902.8 1119.2L903.3 1119.4L903.9 1119.1L904.5 1119.7L905 1119.1L905.6 1119.5L906.2 1119.5L906.8 1119.1L907.3 1119.4L907.9 1119.6L908.5 1119.4L909 1119.4L909.6 1119.5L910.2 1119.4L910.7 1119.4L911.3 1119.3L911.9 1119.4L912.4 1119.1L913 1119.5L913.6 1119.2L914.1 1119.1L914.7 1119.4L915.3 1119.6L915.8 1119.5L916.4 1119.2L917 1119.4L917.6 1119.2L918.1 1119.2L918.7 1119.3L919.3 1118.8L919.8 1119.3L920.4 1119L921 1119.1L921.5 1118.9L922.1 1118.9L922.7 1119L923.2 1119.4L923.8 1119.5L924.4 1119.2L924.9 1119.4L925.5 1119.1L926.1 1118.8L926.6 1119.2L927.2 1119.3L927.8 1119.1L928.3 1119.2L928.9 1119.3L929.5 1119L930.1 1118.8L930.6 1119.1L931.2 1119.1L931.8 1119L932.3 1119.3L932.9 1119.5L933.5 1119L934 1119.2L934.6 1119.3L935.2 1119.2L935.7 1119.3L936.3 1119L936.9 1119.2L937.4 1119.5L938 1119.2L938.6 1118.9L939.1 1119.2L939.7 1119.3L940.3 1119.1L940.9 1118.9L941.4 1119.3L942 1118.8L942.6 1119.1L943.1 1119L943.7 1118.8L944.3 1119.2L944.8 1119.1L945.4 1118.8L946 1119.1L946.5 1118.9L947.1 1118.6L947.7 1118.8L948.2 1119L948.8 1119.1L949.4 1119L949.9 1118.9L950.5 1119L951.1 1118.9L951.7 1119.2L952.2 1118.9L952.8 1119L953.4 1119L953.9 1118.7L954.5 1118.8L955.1 1119.2L955.6 1118.9L956.2 1118.8L956.8 1118.9L957.3 1118.8L957.9 1118.9L958.5 1118.7L959 1118.9L959.6 1118.5L960.2 1119.1L960.7 1118.7L961.3 1118.5L961.9 1118.8L962.5 1118.7L963 1118.8L963.6 1118.6L964.2 1118.9L964.7 1119.5L965.3 1118.5L965.9 1118.8L966.4 1118.7L967 1118.8L967.6 1118.4L968.1 1118.5L968.7 1118.8L969.3 1118.7L969.8 1119.1L970.4 1118.6L971 1118.8L971.5 1119.3L972.1 1118.6L972.7 1118.5L973.3 1118.7L973.8 1118.7L974.4 1118.9L975 1118.7L975.5 1118.5L976.1 1118.7L976.7 1119.2L977.2 1118.9L977.8 1118.1L978.4 1118.6L978.9 1118.5L979.5 1118.8L980.1 1118.6L980.6 1119L981.2 1118.8L981.8 1118.8L982.3 1118.7L982.9 1118.6L983.5 1118.7L984.1 1118.9L984.6 1118.7L985.2 1118.5L985.8 1118.9L986.3 1118.6L986.9 1118.6L987.5 1118.4L988 1118.5L988.6 1118.5L989.2 1118.1L989.7 1118.8L990.3 1118.7L990.9 1118.6L991.4 1118.8L992 1118.7L992.6 1118.7L993.1 1118.1L993.7 1118.6L994.3 1118.7L994.9 1118.9L995.4 1119L996 1118.9L996.6 1118.4L997.1 1118.2L997.7 1118.7L998.3 1118.6L998.8 1118.8L999.4 1118.6L1000 1118.7L1000.5 1118.3L1001.1 1118.7L1001.7 1118.5L1002.2 1118.7L1002.8 1118.7L1003.4 1118.6L1003.9 1118.7L1004.5 1118.6L1005.1 1118.8L1005.7 1118.7L1006.2 1118.5L1006.8 1118.5L1007.4 1119L1007.9 1118.6L1008.5 1118.9L1009.1 1118.7L1009.6 1118.5L1010.2 1118.5L1010.8 1118.7L1011.3 1118.7L1011.9 1118.8L1012.5 1118.4L1013 1118.5L1013.6 1118.6L1014.2 1119L1014.7 1118.2L1015.3 1118.8L1015.9 1118.6L1016.5 1118.8L1017 1118.6L1017.6 1118.7L1018.2 1119L1018.7 1118.7L1019.3 1118.8L1019.9 1118.8L1020.4 1118.5L1021 1118.8L1021.6 1118.6L1022.1 1118.5L1022.7 1118.7L1023.3 1118.6L1023.8 1118.8L1024.4 1118.7L1025 1118.6L1025.5 1119L1026.1 1118.9L1026.7 1118.9L1027.3 1118.8L1027.8 1118.7L1028.4 1118.6L1029 1118.6L1029.5 1118.9L1030.1 1118.7L1030.7 1118.4L1031.2 1118.7L1031.8 1118.4L1032.4 1118.7L1032.9 1118.5L1033.5 1118.5L1034.1 1118.7L1034.6 1118.7L1035.2 1118.4L1035.8 1118.9L1036.3 1119.1L1036.9 1118.4L1037.5 1119.1L1038.1 1118.6L1038.6 1118.6L1039.2 1118.7L1039.8 1118.4L1040.3 1119L1040.9 1118.8L1041.5 1118.6L1042 1118.7L1042.6 1118.4L1043.2 1118.7L1043.7 1118.9L1044.3 1118.4L1044.9 1118.6L1045.4 1118.8L1046 1118.9L1046.6 1119L1047.1 1118.6L1047.7 1118.6L1048.3 1118.8L1048.9 1118.7L1049.4 1118.7L1050 1119L1050.6 1119.1L1051.1 1118.8L1051.7 1118.7L1052.3 1118.9L1052.8 1118.4L1053.4 1118.7L1054 1118.5L1054.5 1119.2L1055.1 1118.9L1055.7 1118.8L1056.2 1118.7L1056.8 1118.3L1057.4 1118.9L1057.9 1119.1L1058.5 1118.6L1059.1 1118.9L1059.7 1118.9L1060.2 1118.5L1060.8 1119L1061.4 1119L1061.9 1118.8L1062.5 1118.8L1063.1 1118.9L1063.6 1118.5L1064.2 1118.8L1064.8 1119L1065.3 1118.5L1065.9 1119L1066.5 1118.7L1067 1118.4L1067.6 1118.8L1068.2 1118.6L1068.7 1118.8L1069.3 1118.6L1069.9 1119L1070.5 1118.6L1071 1118.9L1071.6 1118.7L1072.2 1118.7L1072.7 1119L1073.3 1118.8L1073.9 1118.7L1074.4 1118.5L1075 1119L1075.6 1118.9L1076.1 1118.7L1076.7 1118.9L1077.3 1118.6L1077.8 1118.6L1078.4 1118.6L1079 1118.9L1079.5 1118.9L1080.1 1118.7L1080.7 1119L1081.3 1119L1081.8 1118.8L1082.4 1119L1083 1118.8L1083.5 1118.8L1084.1 1118.9L1084.7 1118.8L1085.2 1119L1085.8 1118.6L1086.4 1119.1L1086.9 1118.7L1087.5 1118.8L1088.1 1118.6L1088.6 1118.9L1089.2 1119.1L1089.8 1119L1090.3 1119L1090.9 1118.5L1091.5 1118.7L1092.1 1118.7L1092.6 1118.7L1093.2 1119.1L1093.8 1118.9L1094.3 1118.8L1094.9 1118.9L1095.5 1118.7L1096 1118.7L1096.6 1118.7L1097.2 1118.9L1097.7 1118.9L1098.3 1119L1098.9 1119.1L1099.4 1118.6L1100 1118.7L1100.6 1118.9L1101.1 1118.6L1101.7 1118.8L1102.3 1119.1L1102.9 1119.1L1103.4 1119.1L1104 1118.9L1104.6 1118.8L1105.1 1119.1L1105.7 1118.8L1106.3 1118.9L1106.8 1119.1L1107.4 1118.8L1108 1118.7L1108.5 1118.9L1109.1 1119L1109.7 1119L1110.2 1118.9L1110.8 1119L1111.4 1118.6L1111.9 1118.7L1112.5 1118.9L1113.1 1118.7L1113.7 1118.6L1114.2 1118.6L1114.8 1118.7L1115.4 1118.9L1115.9 1118.7L1116.5 1118.9L1117.1 1119.2L1117.6 1118.9L1118.2 1119.1L1118.8 1119L1119.3 1118.7L1119.9 1118.8L1120.5 1118.7L1121 1119.1L1121.6 1118.7L1122.2 1119.2L1122.7 1119L1123.3 1118.5L1123.9 1119.1L1124.5 1119.2L1125 1118.8L1125.6 1119.1L1126.2 1118.6L1126.7 1119L1127.3 1118.6L1127.9 1119L1128.4 1118.6L1129 1118.4L1129.6 1119L1130.1 1119.4L1130.7 1118.8L1131.3 1119.1L1131.8 1118.9L1132.4 1118.9L1133 1119L1133.5 1119.3L1134.1 1118.7L1134.7 1119L1135.3 1119L1135.8 1118.6L1136.4 1119.3L1137 1119.3L1137.5 1118.7L1138.1 1119.3L1138.7 1118.9L1139.2 1118.9L1139.8 1119.2L1140.4 1119L1140.9 1119L1141.5 1119.2L1142.1 1119.2L1142.6 1119.1L1143.2 1118.7L1143.8 1118.6L1144.3 1119.2L1144.9 1118.8L1145.5 1119L1146.1 1118.7L1146.6 1118.9L1147.2 1118.7L1147.8 1119.3L1148.3 1118.8L1148.9 1118.9L1149.5 1118.9L1150 1119.2L1150.6 1118.7L1151.2 1119L1151.7 1118.9L1152.3 1119.1L1152.9 1119.1L1153.4 1118.9L1154 1119L1154.6 1118.9L1155.1 1119.1L1155.7 1119L1156.3 1118.8L1156.9 1119L1157.4 1119.1L1158 1119.4L1158.6 1118.9L1159.1 1119L1159.7 1119.3L1160.3 1118.6L1160.8 1118.6L1161.4 1118.8L1162 1119L1162.5 1119.5L1163.1 1119.1L1163.7 1119.2L1164.2 1119L1164.8 1118.5L1165.4 1118.5L1165.9 1119.2L1166.5 1119L1167.1 1118.7L1167.7 1119.2L1168.2 1118.7L1168.8 1119.2L1169.4 1119.3L1169.9 1118.9L1170.5 1118.8L1171.1 1119.2L1171.6 1118.8L1172.2 1119.2L1172.8 1118.8L1173.3 1119.2L1173.9 1119L1174.5 1118.9L1175 1118.8L1175.6 1119.1L1176.2 1118.6L1176.7 1119L1177.3 1118.9L1177.9 1119.2L1178.4 1118.8L1179 1119.4L1179.6 1119L1180.2 1118.8L1180.7 1119.3L1181.3 1119.4L1181.9 1119L1182.4 1118.9L1183 1119L1183.6 1118.9L1184.1 1119L1184.7 1119.4L1185.3 1119.1L1185.8 1119.1L1186.4 1119.1L1187 1119L1187.5 1119.2L1188.1 1119.2L1188.7 1119L1189.2 1119.1L1189.8 1119.5L1190.4 1119.1L1191 1119L1191.5 1119.5L1192.1 1119.1L1192.7 1118.8L1193.2 1119.2L1193.8 1118.9L1194.4 1119L1194.9 1119.1L1195.5 1119L1196.1 1118.9L1196.6 1119L1197.2 1118.9L1197.8 1119.3L1198.3 1118.9L1198.9 1119L1199.5 1119.5L1200 1119L1200.6 1119.4L1201.2 1119.3L1201.8 1119L1202.3 1118.8L1202.9 1119.2L1203.5 1119.2L1204 1119.3L1204.6 1119.1L1205.2 1119.3L1205.7 1119.4L1206.3 1118.9L1206.9 1119.4L1207.4 1119.1L1208 1119L1208.6 1119L1209.1 1119.5L1209.7 1119.3L1210.3 1118.7L1210.8 1119.1L1211.4 1119.1L1212 1119.1L1212.6 1119L1213.1 1118.8L1213.7 1119.3L1214.3 1118.9L1214.8 1119L1215.4 1119L1216 1119L1216.5 1119.3L1217.1 1119.2L1217.7 1119L1218.2 1118.9L1218.8 1119L1219.4 1119.3L1219.9 1119.1L1220.5 1119.2L1221.1 1119.1L1221.6 1119.1L1222.2 1119.2L1222.8 1118.8L1223.4 1119.4L1223.9 1119L1224.5 1119L1225.1 1119.4L1225.6 1119.2L1226.2 1119.1L1226.8 1119L1227.3 1118.8L1227.9 1119.2L1228.5 1119.4L1229 1119L1229.6 1119.4L1230.2 1118.9L1230.7 1119L1231.3 1119.2L1231.9 1119.1L1232.4 1119.3L1233 1119L1233.6 1118.9L1234.2 1118.8L1234.7 1118.9L1235.3 1118.9L1235.9 1118.9L1236.4 1119.2L1237 1119L1237.6 1118.8L1238.1 1119.7L1238.7 1119L1239.3 1118.9L1239.8 1119.4L1240.4 1119.4L1241 1118.9L1241.5 1118.9L1242.1 1119L1242.7 1119.4L1243.2 1119.1L1243.8 1119L1244.4 1119.2L1245 1119.4L1245.5 1118.9L1246.1 1119.1L1246.7 1118.9L1247.2 1119.6L1247.8 1119.5L1248.4 1119.4L1248.9 1119.2L1249.5 1119.3L1250.1 1118.8L1250.6 1119.2L1251.2 1118.9L1251.8 1118.9L1252.3 1119L1252.9 1119.1L1253.5 1119.3L1254 1119.3L1254.6 1119.2L1255.2 1119L1255.8 1119.3L1256.3 1119.2L1256.9 1119.4L1257.5 1119L1258 1118.6L1258.6 1119.1L1259.2 1119.6L1259.7 1119.3L1260.3 1119.2L1260.9 1119.4L1261.4 1119.3L1262 1119.3L1262.6 1119.1L1263.1 1119.2L1263.7 1119.3L1264.3 1119.1L1264.8 1119L1265.4 1119.2L1266 1119.4L1266.6 1119.3L1267.1 1119.3L1267.7 1119.3L1268.3 1119.7L1268.8 1119.3L1269.4 1119.4L1270 1119.6L1270.5 1119.2L1271.1 1119.3L1271.7 1119.4L1272.2 1119.6L1272.8 1119.3L1273.4 1119.3L1273.9 1119.3L1274.5 1119L1275.1 1119.5L1275.6 1119.2L1276.2 1118.9L1276.8 1119.2L1277.4 1118.9L1277.9 1119L1278.5 1119.2L1279.1 1119.1L1279.6 1119.5L1280.2 1119L1280.8 1119.3L1281.3 1119.4L1281.9 1119.5L1282.5 1119.4L1283 1119.3L1283.6 1119.3L1284.2 1119.2L1284.7 1119.5L1285.3 1119.1L1285.9 1119.4L1286.4 1119.2L1287 1119.3L1287.6 1119.2L1288.2 1119.7L1288.7 1119.1L1289.3 1119.3L1289.9 1119.3L1290.4 1119.4L1291 1119.4L1291.6 1119.4L1292.1 1119.5L1292.7 1119L1293.3 1119.3L1293.8 1119L1294.4 1119.3L1295 1119L1295.5 1119.1L1296.1 1119.3L1296.7 1119.6L1297.2 1119.4L1297.8 1119.3L1298.4 1119.6L1299 1119.1L1299.5 1118.9L1300.1 1119.2L1300.7 1119.2L1301.2 1119.5L1301.8 1119.7L1302.4 1119L1302.9 1119.8L1303.5 1119.6" fill="none" stroke="#000" stroke-width="1.8"/>
<line x1="984.3" y1="1034" x2="984.3" y2="1416.5" stroke="#000" stroke-width="2" stroke-dasharray="3.5 4"/>
<rect x="792.5" y="1034" width="511.0" height="382.5" fill="none" stroke="#000" stroke-width="2"/>
<line x1="784.5" y1="1416.5" x2="792.5" y2="1416.5" stroke="#000" stroke-width="2"/>
<text transform="translate(777.8 1425.8) scale(1 1.03)" font-size="26" text-anchor="end">0</text>
<line x1="788" y1="1378.3" x2="792.5" y2="1378.3" stroke="#000" stroke-width="2"/>
<line x1="784.5" y1="1340.1" x2="792.5" y2="1340.1" stroke="#000" stroke-width="2"/>
<text transform="translate(777.8 1349.4) scale(1 1.03)" font-size="26" text-anchor="end">25</text>
<line x1="788" y1="1301.9" x2="792.5" y2="1301.9" stroke="#000" stroke-width="2"/>
<line x1="784.5" y1="1263.7" x2="792.5" y2="1263.7" stroke="#000" stroke-width="2"/>
<text transform="translate(777.8 1273) scale(1 1.03)" font-size="26" text-anchor="end">50</text>
<line x1="788" y1="1225.5" x2="792.5" y2="1225.5" stroke="#000" stroke-width="2"/>
<line x1="784.5" y1="1187.3" x2="792.5" y2="1187.3" stroke="#000" stroke-width="2"/>
<text transform="translate(777.8 1196.6) scale(1 1.03)" font-size="26" text-anchor="end">75</text>
<line x1="788" y1="1149.1" x2="792.5" y2="1149.1" stroke="#000" stroke-width="2"/>
<line x1="784.5" y1="1110.9" x2="792.5" y2="1110.9" stroke="#000" stroke-width="2"/>
<text transform="translate(778.5 1120.2) scale(1 1.03)" font-size="26" text-anchor="end">100</text>
<line x1="788" y1="1072.7" x2="792.5" y2="1072.7" stroke="#000" stroke-width="2"/>
<line x1="792.5" y1="1416.5" x2="792.5" y2="1424.5" stroke="#000" stroke-width="2"/>
<text transform="translate(792.5 1455) scale(1 1.03)" font-size="26" text-anchor="middle">400</text>
<line x1="856.38" y1="1416.5" x2="856.38" y2="1421" stroke="#000" stroke-width="2"/>
<line x1="920.25" y1="1416.5" x2="920.25" y2="1424.5" stroke="#000" stroke-width="2"/>
<text transform="translate(920.25 1455) scale(1 1.03)" font-size="26" text-anchor="middle">500</text>
<line x1="984.12" y1="1416.5" x2="984.12" y2="1421" stroke="#000" stroke-width="2"/>
<line x1="1048" y1="1416.5" x2="1048" y2="1424.5" stroke="#000" stroke-width="2"/>
<text transform="translate(1048 1455) scale(1 1.03)" font-size="26" text-anchor="middle">600</text>
<line x1="1111.88" y1="1416.5" x2="1111.88" y2="1421" stroke="#000" stroke-width="2"/>
<line x1="1175.75" y1="1416.5" x2="1175.75" y2="1424.5" stroke="#000" stroke-width="2"/>
<text transform="translate(1175.75 1455) scale(1 1.03)" font-size="26" text-anchor="middle">700</text>
<line x1="1239.62" y1="1416.5" x2="1239.62" y2="1421" stroke="#000" stroke-width="2"/>
<line x1="1303.5" y1="1416.5" x2="1303.5" y2="1424.5" stroke="#000" stroke-width="2"/>
<text transform="translate(1303.5 1455) scale(1 1.03)" font-size="26" text-anchor="middle">800</text>
<text transform="translate(1057.4 1494.5) scale(1 1.03)" font-size="26.5" text-anchor="middle">Wavelength (nm)</text>
<text transform="translate(728.5 1240.2) rotate(-90) scale(1 1.03)" font-size="26.3" text-anchor="middle">Optical transmittance (%)</text>
<text transform="translate(971.6 1282) rotate(-90) scale(1 1.03)" font-size="28">550 nm</text>
<text transform="translate(1072 1322.2) scale(1 1.03)" font-size="25"><tspan font-style="italic">T</tspan><tspan font-size="14" dy="8.8">Gr.</tspan><tspan dy="-8.8">% = 97.6%</tspan></text>
<text transform="translate(1072 1365.7) scale(1 1.03)" font-size="25.2" fill="#e8141e"><tspan font-style="italic">T</tspan><tspan font-size="14" dy="8.6">Doped Gr.</tspan><tspan dy="-8.6">% = 92.3%</tspan></text>
</svg>
</body></html>
